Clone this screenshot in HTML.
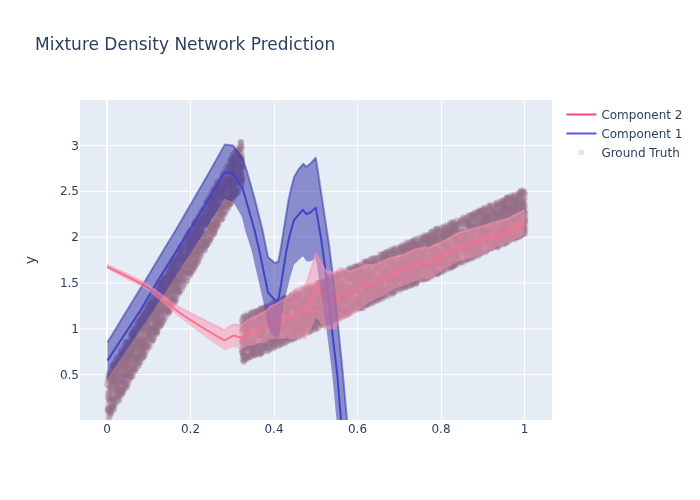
<!DOCTYPE html>
<html><head><meta charset="utf-8"><title>Mixture Density Network Prediction</title>
<style>
html,body{margin:0;padding:0;background:#fff;}
body{width:700px;height:500px;overflow:hidden;}
svg{display:block;}
text{font-family:"DejaVu Sans","Liberation Sans",sans-serif;fill:#2a3f5f;white-space:pre;}
</style></head><body>
<svg width="700" height="500" viewBox="0 0 700 500">
<rect width="700" height="500" fill="#fff"/>
<rect x="80" y="100" width="472" height="320" fill="#e5ecf6"/>
<g shape-rendering="auto"><rect x="190" y="100" width="1" height="320" fill="#fff"/><rect x="274" y="100" width="1" height="320" fill="#fff"/><rect x="357" y="100" width="1" height="320" fill="#fff"/><rect x="441" y="100" width="1" height="320" fill="#fff"/><rect x="524" y="100" width="1" height="320" fill="#fff"/><path d="M80,374.60H552" stroke="#fff" stroke-width="1"/><path d="M80,328.80H552" stroke="#fff" stroke-width="1"/><path d="M80,283.00H552" stroke="#fff" stroke-width="1"/><path d="M80,237.20H552" stroke="#fff" stroke-width="1"/><path d="M80,191.40H552" stroke="#fff" stroke-width="1"/><path d="M80,145.60H552" stroke="#fff" stroke-width="1"/><rect x="106" y="100" width="2" height="320" fill="#fff"/></g>
<defs><clipPath id="c"><rect x="80" y="100" width="472" height="320"/></clipPath></defs>
<g clip-path="url(#c)">
<g fill="none" stroke="rgb(152,109,136)" stroke-opacity="0.2" stroke-width="6" stroke-linecap="round"><path d="M452.6 260.9h0M481.4 252.5h0M109.7 408.4h0M348.4 292.9h0M156.7 323.3h0M187.8 235.9h0M432.5 274.2h0M327 305.7h0M167.4 291.3h0M319.6 317.4h0M481.9 234.5h0M302.1 319.2h0M511.4 229.5h0M467.2 232.6h0M485.1 221.1h0M163.9 277h0M110.2 387.6h0M247.5 357.1h0M185.6 259.2h0M122.4 358.9h0M392.2 253h0M175.4 257.8h0M108.8 375.7h0M509.4 217.2h0M506.4 224.9h0M130 355h0M436.4 255.9h0M429.5 275.2h0M433.1 268.5h0M439.6 272.8h0M293.8 308.2h0M454.9 251.8h0M304.8 289h0M416.5 269h0M474 215h0M190.5 252.5h0M239.5 168.9h0M160.6 283.9h0M230.5 201.8h0M157.4 318.2h0M447.2 263.3h0M503.5 240h0M145.5 307.8h0M309.7 296h0M326.5 324h0M396.9 266.2h0M471.2 221.1h0M177.6 257.1h0M502.6 219.8h0M295.9 300.8h0M383.2 257.9h0M181.6 251.8h0M424.5 272.5h0M380.6 263.5h0M143.4 350.4h0M196.9 225.4h0M141.3 335.1h0M275.8 309.7h0M328.6 313h0M370.8 272.7h0M482.2 224.4h0M359.5 302.9h0M253.9 349.7h0M238.8 166.4h0M136.5 349.2h0M252.8 348.3h0M470.7 259.1h0M461 236.7h0M246.2 330.8h0M233.2 186.3h0M308.5 290.9h0M130.9 337.1h0M450.6 256.8h0M185.8 241.4h0M393.5 270.9h0M209.5 208h0M431.8 233h0M379.9 299.6h0M444.1 267h0M384.1 272.1h0M500.6 221.1h0M179.5 292.5h0M116.6 358.2h0M524.2 228.7h0M203.1 237.3h0M277.2 334h0M521.6 211h0M503.9 209.2h0M469 223h0M160.4 291.1h0M179 264.4h0M511.9 212.3h0M436.9 246.2h0M453 265.2h0M248.2 326.1h0M375.9 276.4h0M288.3 319.4h0M438.2 228.3h0M217.3 213.2h0M334.4 293.8h0"/><path d="M150.2 305.7h0M180.5 286.1h0M136.3 358.2h0M291.6 305.1h0M261.9 317.3h0M251.8 312.4h0M273.3 302.7h0M333.3 286.9h0M280.2 306.9h0M497.1 217.8h0M384 277.3h0M350.1 274.1h0M157.6 291h0M279.1 317.8h0M349.1 276.8h0M313.5 303.4h0M129.3 376.2h0M152.1 312.9h0M294.5 318h0M222.7 196.1h0M202.4 231.9h0M510.9 215.5h0M253.6 356h0M108.4 418.9h0M192.6 243.6h0M197.9 227.4h0M177.2 279.2h0M519 209.7h0M458 248.9h0M130.9 376h0M460.7 235.4h0M244.6 339.7h0M506.8 240.5h0M426.1 237.9h0M366.1 288.3h0M213.8 232.4h0M389.8 288.7h0M431.6 249.3h0M158.3 314.6h0M287.9 339.2h0M188.2 238.5h0M199.8 216.7h0M407.6 270.7h0M123.8 351.2h0M379.6 269.9h0M309.7 305.4h0M433.4 272.8h0M146.9 310.8h0M431.8 263.2h0M126.3 372.1h0M180.2 280.1h0M164.5 301.9h0M357.6 272.5h0M308.1 305.9h0M252.6 350.7h0M505.1 227.1h0M217.8 212.9h0M523.8 192.9h0M489.8 218h0M267.3 311.4h0M210.1 239.6h0M216.5 219.4h0M203.7 216h0M143.3 350.8h0M166.1 290.3h0M486.4 224h0M156.5 302.4h0M494.3 242h0M334.6 290.3h0M141.5 344.8h0M199.2 217.3h0M330.3 298.6h0M337.4 279.4h0M450.1 223h0M468.7 239.3h0M177.6 280h0M223.1 213.1h0M522.6 227.2h0M220.4 201h0M275.9 331.2h0M290 301.2h0M127.5 346.1h0M261.6 321.6h0M223.7 186.9h0M479.5 233.9h0M260 343.2h0M378.1 268.2h0M412 263.5h0M260.4 329.3h0M391.1 285.3h0M495.1 220.7h0M172.2 300.2h0M157.6 300.9h0M456 264.6h0M172.2 300.4h0M448.7 249.2h0M278.9 305.5h0M183.8 249.3h0M253.7 315.1h0M357.5 289.4h0"/><path d="M300.8 330.4h0M197.6 254.9h0M198.6 230.9h0M169.2 277.1h0M159.2 283.6h0M183.6 267.3h0M139.4 358.6h0M358.1 297.7h0M492.1 205.8h0M188.8 241.5h0M153.9 313.9h0M361.4 297.8h0M109.4 379h0M413.3 257.7h0M324.3 290.3h0M110.6 412.1h0M133.6 334.9h0M139.2 325h0M192.7 236.4h0M441.9 258.8h0M304.3 308.9h0M413.4 260.3h0M313.7 310.6h0M205.8 218.6h0M453.7 245.4h0M355.9 266.8h0M266.4 342.9h0M509.1 222.9h0M213.1 211.8h0M308.8 307.6h0M433.9 254.4h0M229.6 164.7h0M243.6 359.9h0M445.7 260.6h0M504.9 205.7h0M512.1 203h0M127.5 341.8h0M507 218.2h0M309.6 323.5h0M195.6 223.3h0M377.4 257.9h0M212.5 236.7h0M292.5 326.9h0M374.3 302.1h0M411.3 255h0M261 352h0M285.3 323.1h0M321.8 287.3h0M163.1 297.5h0M139.5 325.3h0M490.1 229.9h0M118.5 368.3h0M117.3 395.8h0M195 261.7h0M189.9 252.8h0M524.1 210.8h0M518.7 193.2h0M197.2 240.6h0M177.1 288.5h0M305.1 317h0M290 338h0M363.9 300.8h0M126.4 367h0M409.4 282.2h0M238.5 152.6h0M418 266h0M216.8 225.8h0M154.3 321.3h0M424.1 268.3h0M154.7 328.2h0M114.4 362.8h0M518.8 208.7h0M167.4 310.7h0M279.9 301.4h0M520.2 205.8h0M280.3 329.6h0M338.3 294.7h0M126.3 362h0M291.6 297.1h0M289.5 338.2h0M221.4 218.9h0M112.3 399.1h0M184.2 272.4h0M414.9 274.6h0M471.2 243.1h0M285.1 297.5h0M349.8 287.9h0M120.1 382h0M252.6 326h0M362.1 284.8h0M299.8 309.3h0M481.7 224.1h0M478.5 246.7h0M305 314h0M444.8 265h0M506.4 197.8h0M173.8 270h0M110.6 414.8h0M129.9 351.2h0M247.9 323h0"/><path d="M430.7 245.2h0M525.2 219.7h0M289.3 319.4h0M215.1 199.5h0M181.2 276.2h0M512.6 199h0M438.4 240.7h0M348.9 295.1h0M295.4 323.4h0M202.5 237.7h0M330.5 319.6h0M160.4 326.7h0M462.4 223.9h0M202 210.4h0M271.7 311.5h0M478.8 210.9h0M131.3 343.6h0M497.1 236.8h0M497.1 206h0M148.8 335.9h0M316.3 328.3h0M500.6 209.2h0M140.9 323.9h0M447.2 235.7h0M227.6 205.7h0M197.4 259h0M437.6 271.3h0M142.4 322.9h0M501.7 215.8h0M516.2 202h0M289.4 302.1h0M111 405.3h0M217.3 220.5h0M330.8 301.4h0M148.2 328h0M273.7 331.1h0M376.1 258.9h0M491 248.8h0M169.4 300.7h0M509.3 230.1h0M211.7 210.7h0M290.7 324.1h0M260.5 322.3h0M362.5 281.1h0M373.8 287.7h0M444.2 271.2h0M245.5 332.7h0M132.7 335.9h0M370.5 273.5h0M369.1 288.2h0M248 343.1h0M221 181.4h0M357.1 294.1h0M465.3 239.5h0M252.7 321.8h0M248.8 335.3h0M335.8 286.4h0M156.6 324.1h0M509.4 239.3h0M248.3 344.1h0M192 246.3h0M273 337.8h0M119.1 361.8h0M377.1 258.6h0M334.7 303.8h0M505.4 206.2h0M465.9 240.9h0M326.6 292.6h0M181.8 252.9h0M311.4 322.3h0M396.4 285h0M243.4 347.6h0M455.8 224.5h0M289.5 317.1h0M403.2 277.8h0M401.6 247.9h0M171.7 268.4h0M339.5 289.8h0M340.2 294.8h0M287.8 340.8h0M293.1 334.5h0M195.4 233.2h0M421.9 274.7h0M485.1 229.8h0M244.5 329.3h0M354.8 296h0M353.6 287.2h0M516.8 237.2h0M400.8 285.9h0M287.8 308.4h0M416.1 246.8h0M165.8 305.3h0M224.3 191.9h0M509.9 198.2h0M459 252h0M141.7 332.8h0M517.5 198.2h0M412.6 270.7h0M367.3 278.5h0M119.7 387.4h0"/><path d="M409.7 264.6h0M407.7 256.2h0M433.1 236.4h0M241.3 178.3h0M111.5 383h0M310.3 306.3h0M518.7 199.9h0M501.4 233.5h0M305.1 326.8h0M510.6 230.7h0M485.6 239.2h0M185.7 256.6h0M441.6 228h0M310.5 319.6h0M122.4 379.8h0M501.3 212.4h0M513.7 211.5h0M404.6 285.3h0M463 231.9h0M436.1 256.2h0M337 312.3h0M466.5 220.3h0M446.6 242.3h0M145 327.7h0M371.4 279.4h0M469.7 246.6h0M124.9 354.5h0M499.1 243.6h0M294 328.6h0M340.9 298.9h0M299.1 307.4h0M356.2 269.2h0M281.3 331.3h0M301 319.2h0M483.8 229.4h0M186.9 272.8h0M418.9 246h0M197.5 251.8h0M517.7 232.7h0M317.4 286.3h0M334 313.9h0M131.8 334.2h0M236 155.4h0M252.2 354.7h0M360.1 273.8h0M177.8 294.3h0M361.2 283.1h0M112.2 400.4h0M332.9 309.2h0M377.3 293.5h0M243.4 316.3h0M491.6 242.6h0M265.6 306.4h0M227.7 206.7h0M345.9 290.5h0M148.3 344.6h0M473 254.9h0M370.3 264.3h0M520.8 203.2h0M165.5 277.4h0M179.2 250.1h0M159.4 284.9h0M314 288h0M210.3 239.6h0M488.9 224h0M454.2 265.6h0M141.3 350.2h0M263.8 314.1h0M334.5 298.4h0M376.2 296.2h0M279 322.2h0M348.1 312.2h0M180.1 279.8h0M176.3 270.8h0M453.1 221.7h0M191.3 267.1h0M475 246.6h0M467.9 214.9h0M293.1 325.8h0M490.2 228.2h0M379 295.6h0M505.9 243.4h0M200.5 221.7h0M303.2 318.8h0M151 305.7h0M144.9 315.3h0M403 278.4h0M140.5 322.9h0M259.7 351.7h0M474 255.8h0M234.1 172.5h0M515.2 212.4h0M135.8 346.4h0M479.2 227.7h0M268.2 338.9h0M114.3 378.1h0M372.2 289.7h0M150.8 329.8h0M334.9 315h0M371.2 267h0"/><path d="M497 226.6h0M241.9 329.2h0M130.3 377.4h0M441.7 264h0M200.6 242.1h0M363.7 279.6h0M393.3 289.6h0M248.8 356.3h0M173.8 301h0M406.2 272.1h0M496.6 212.3h0M480.3 246.9h0M407.3 281.2h0M147.1 329.8h0M506.4 235.1h0M120.3 355.1h0M501.1 205h0M306 290.8h0M268.1 325.1h0M164.3 304.3h0M147.8 329.9h0M485.6 242.7h0M422.8 241.1h0M488.1 214.9h0M133.6 360.3h0M333.5 290.7h0M254.2 321.7h0M237.4 180.2h0M403 251.9h0M507 205.9h0M442.4 266.9h0M306 311.9h0M174.7 264.2h0M442.6 237.8h0M127.6 341.3h0M366.8 304.5h0M146.5 309.7h0M148.9 328h0M181.7 268.1h0M288 304.7h0M270.3 343.2h0M261.4 322.8h0M199.4 218.4h0M427.3 268.1h0M522.9 224.1h0M284 328.5h0M112.2 380.1h0M323.1 285h0M468.4 231.2h0M173.3 262.6h0M412.7 244.4h0M497.1 220.2h0M233.9 184.5h0M285.1 314.8h0M285.4 323.5h0M242.4 184.4h0M156.1 327.8h0M395.2 286.5h0M399.8 249.8h0M155.6 302.3h0M296.5 294.4h0M429 267.5h0M154 325.2h0M157.2 316.5h0M464.8 227.5h0M144 330.1h0M504.2 224.5h0M502.1 231.3h0M344.1 273.1h0M225.4 185.7h0M244 346.3h0M344.9 304.3h0M480.8 236.7h0M268.5 326.9h0M280.3 299.8h0M325.2 300.9h0M190.7 245.9h0M269.1 350.3h0M247 345.1h0M355.3 303.9h0M341.8 300.4h0M292.2 304.5h0M169.9 308h0M471.2 215.6h0M185.5 237.6h0M515.8 204.9h0M390 292.2h0M437 243.6h0M477.5 256h0M281.3 299.5h0M248.1 331.1h0M187.7 248.9h0M318.1 295.3h0M319.7 309.8h0M174.5 283.8h0M511.8 208.4h0M406.3 275.2h0M290.3 314h0M500.8 239.1h0M481.6 226.9h0"/><path d="M135.8 353.2h0M394 261.6h0M211.8 211.5h0M251.3 356.6h0M242 166.4h0M381.7 281.7h0M481.9 211.1h0M179.7 249.8h0M279.9 302.6h0M141.5 347.1h0M421.2 255.4h0M504.9 242.7h0M489.8 204.8h0M405.1 268.9h0M323.8 291.4h0M293.5 328.4h0M152.9 302h0M477.4 243.6h0M309.9 291.5h0M244.1 358.5h0M371.7 261.6h0M422.2 246.5h0M269.7 335.1h0M165.8 307.4h0M279.1 303.1h0M305 300.2h0M447.3 233.7h0M384.3 280.7h0M404.3 245.9h0M482.1 228.6h0M415.2 271.1h0M478.8 227.1h0M162.1 286.3h0M362.8 270h0M434.4 272h0M384.7 275.6h0M169.1 305.1h0M314.3 326.3h0M254 323.1h0M490.1 244.8h0M227.1 207.2h0M160.5 322.6h0M497.6 236.6h0M231.3 164.8h0M454.8 265.7h0M416.4 258.7h0M501.2 227.6h0M245.3 355h0M488.3 210h0M485.4 250.5h0M197.8 249.1h0M475.3 215.7h0M326.6 318.7h0M422.8 253.7h0M492.8 228.4h0M363 282.1h0M320.4 322.9h0M417.8 258.5h0M192.5 265.3h0M459 247.6h0M325.9 322.6h0M125.8 356.6h0M284.5 311.2h0M501.1 214h0M197.3 233h0M160.9 289.1h0M227.6 182.3h0M483.3 224.8h0M249.7 350.3h0M437.9 271.6h0M176.4 256.4h0M218 217.2h0M259.6 349h0M181 260.8h0M418.6 268h0M341.2 283.9h0M404.4 279.5h0M163.4 305.7h0M262.5 325.8h0M518 227.8h0M110.5 414.1h0M365.8 261.7h0M212.8 229.4h0M334 318.2h0M116.9 362.6h0M422.9 241.8h0M335.7 293.9h0M283.8 309.8h0M463.7 234.1h0M324.3 298h0M402 276.5h0M181.3 252.8h0M190.1 245.6h0M391.8 257.4h0M246.5 323.5h0M295.4 335.3h0M184.4 256.9h0M138.9 360.1h0M377.3 297.5h0M331.3 294.4h0"/><path d="M461.8 239.3h0M340.7 313.7h0M513.1 220.8h0M125.3 368.7h0M348.3 284.8h0M202.7 249.6h0M333.9 306.5h0M108.3 408.3h0M304.4 310.1h0M114.1 390.9h0M338.1 313.5h0M113.1 383.1h0M376.9 296.3h0M212.7 224.6h0M497.9 231.1h0M245.7 324.4h0M250.4 337.8h0M432.4 242.4h0M516.9 237.3h0M382.9 287.7h0M279.1 332.3h0M394.1 285.1h0M256.3 326h0M344.2 273.3h0M467.2 236.9h0M229.5 203.9h0M469.2 251.3h0M287.3 302.2h0M403.9 283h0M455.1 236.1h0M409.4 245.2h0M487.4 232.9h0M412.1 241.7h0M143.8 356.7h0M354.3 287.8h0M359.9 270.9h0M352.7 274.5h0M254.8 324.6h0M172.6 283.2h0M304.6 303.2h0M259.1 336.1h0M112.8 376.4h0M402.7 257.8h0M125.5 388.4h0M307.4 288.9h0M403.3 263.8h0M429.7 241.3h0M329.7 311.9h0M117.4 384.9h0M499.3 240.1h0M480.8 225.6h0M183 285.6h0M198.6 242.8h0M436.6 239.2h0M379.4 278h0M223 209.3h0M147.2 337.6h0M161.3 285.4h0M271.4 319.8h0M382.5 271.8h0M395.7 266.8h0M161.1 283.4h0M212.7 214.3h0M167.3 277.4h0M127 363.5h0M210.4 199.3h0M489.1 216.1h0M198.4 238.9h0M490.9 233.3h0M144.5 354.2h0M146.3 311.8h0M304.2 317.6h0M404.1 274.5h0M144 327h0M142.2 321.6h0M327.3 286.7h0M292.8 327.9h0M163 307.3h0M312.3 297.9h0M303 312.6h0M278.8 315.1h0M321.4 285h0M286.1 332.9h0M450.4 248.7h0M228.4 180.9h0M411.1 264.1h0M395.4 266.3h0M124.2 371.5h0M231.1 183.7h0M379.3 284.7h0M153 307.8h0M367.1 283.7h0M283.4 320.4h0M468.9 249.1h0M522.4 229.4h0M518.5 193.1h0M336.9 318.7h0M368.8 303.9h0M522.5 211.3h0M410.5 279.2h0"/><path d="M461.4 241.9h0M241.9 351.2h0M118.4 362.9h0M209.6 231.3h0M154.4 331.8h0M168.9 288.9h0M196.5 229h0M504.5 234.7h0M231.7 186.6h0M403.3 283.6h0M169.8 283.8h0M357 272.3h0M399.9 273.9h0M278.6 318.6h0M269.2 321.7h0M134.6 328.2h0M123.6 391h0M297.7 295h0M161 294.1h0M454.8 237.1h0M217.7 209h0M463.3 239.8h0M217.3 188.7h0M461.2 220.9h0M295.5 315.6h0M327.4 280h0M176.5 272.6h0M468 224.8h0M333.1 317.8h0M282.1 327.6h0M344 277.1h0M373.1 300.4h0M384.3 272.3h0M313.3 318.3h0M185.6 269.7h0M117.6 372.7h0M384.1 295h0M295.7 296.5h0M474.5 227.6h0M267.6 331.3h0M127 355.6h0M411.1 271.5h0M380.2 296.9h0M302.1 328.5h0M144.1 320.1h0M348.8 313.7h0M355 276.8h0M139.3 344.8h0M413.4 243.4h0M240.8 186.2h0M268.7 327.3h0M383 271.6h0M291.5 295.4h0M307.7 307.4h0M403.4 279.3h0M180.1 265.2h0M242.4 324.1h0M179.2 278.7h0M226.5 185.5h0M196.3 243.5h0M372.7 276.4h0M521.6 190.6h0M163.6 291.7h0M376 266.5h0M223.7 189h0M476.8 251.5h0M223.8 213.9h0M337.3 306.2h0M413.2 251.9h0M315.2 284.8h0M160.2 308.7h0M269.1 314.3h0M439.5 262.5h0M337.7 274.3h0M451.7 231.2h0M200.7 254.7h0M405 271.3h0M383.1 273.2h0M506 231.9h0M388.9 290.5h0M454.3 233h0M212.9 198.7h0M373.1 286.8h0M360.3 304.2h0M437.7 270.5h0M480.8 210.9h0M120.1 360.9h0M334.5 296.1h0M258.7 315.4h0M108.5 378.5h0M284 309.9h0M465.6 217.7h0M188.6 243.1h0M397.7 276h0M465.7 258.7h0M499 233.1h0M288 314.4h0M172.2 289.7h0M427.5 275h0M428.2 244.7h0"/><path d="M438.5 273.6h0M500.8 223.3h0M249.9 351.8h0M497 226.2h0M133.7 333h0M232.2 176.7h0M491.1 238.3h0M419.4 280.6h0M408.6 266.7h0M215.2 196.4h0M463.2 249.4h0M292.5 319.8h0M374.9 276.8h0M192.7 263.3h0M232.2 177.7h0M166.4 312.2h0M189.3 263.1h0M327.4 315.7h0M211.6 212.6h0M461.7 262.1h0M191.9 234.5h0M404 273.8h0M486.1 209.5h0M337.8 283.7h0M222.8 190h0M406.4 258.4h0M277.2 333.8h0M495.9 219.6h0M197.9 230.9h0M444 234.4h0M458.8 257h0M397.4 261.8h0M524.3 192.2h0M433.4 270.5h0M328.6 321.7h0M283.4 311.4h0M274.7 337.3h0M200.1 252.8h0M481.6 224.2h0M479.1 249.9h0M386.9 290.7h0M300.3 308.1h0M310.4 297.3h0M507.5 208.2h0M316.6 290.2h0M142.5 342.9h0M216.9 182.7h0M250.2 344.8h0M307.5 324.6h0M193.8 233.7h0M195.4 224.6h0M126.3 373.9h0M387.6 270.1h0M440.6 240.8h0M170 294h0M295.8 292.7h0M403.8 259.9h0M183.2 258.9h0M394.2 259.4h0M114.3 375.9h0M485.5 223.3h0M150.1 327.9h0M519.9 195.6h0M519.8 220.2h0M248.2 353.1h0M127.8 368.1h0M166 288.4h0M467 234.8h0M242.2 353.4h0M290.8 313.7h0M360.3 287.2h0M362.6 277.6h0M453.1 265.7h0M470.8 218.6h0M149.6 315h0M358.6 290.6h0M467.3 222.5h0M342.7 302.6h0M198 245.3h0M392.4 250.1h0M180.7 263.4h0M195.8 253.2h0M195.9 242.6h0M263.4 336.7h0M244.1 350.6h0M307.9 305h0M124.9 370.5h0M330.9 322.6h0M172.5 301.3h0M131.7 350.1h0M235.2 166.9h0M140.7 346.4h0M504.8 204.7h0M452.4 251.1h0M439.8 263.1h0M500.4 227.7h0M252.3 346.9h0M303.4 318.8h0M141.1 346.2h0M335.9 312.4h0"/><path d="M510.1 209.2h0M243.4 324h0M378.4 288.2h0M336.6 276.7h0M323.7 302.3h0M350.7 278h0M115.5 377.6h0M479 253.5h0M480.9 237h0M354 308h0M337.3 277h0M349.7 305.9h0M172.6 267h0M348.8 286.3h0M272.2 320.2h0M456.2 234.8h0M490.2 218.9h0M380 254.6h0M409.3 249.7h0M465.4 238.1h0M342.4 315.8h0M131.8 367.7h0M422.4 267.1h0M389.5 252.1h0M487.3 226.6h0M151 328h0M271.2 319.5h0M430.3 246.6h0M254.6 348.7h0M124.6 346.1h0M110.6 407h0M156.5 329.3h0M403.6 251.8h0M363.4 263.4h0M442.4 233.4h0M329 319.1h0M148.7 328.8h0M390.3 250.1h0M472.4 221.1h0M142.5 319.3h0M194.7 234.7h0M425.5 268h0M127.2 352.4h0M156.2 308.5h0M441.9 261h0M294.1 300.5h0M154.1 308.9h0M409.5 243.3h0M341.4 314.9h0M145.1 351.8h0M354.1 302.5h0M324 284.2h0M456.1 224.2h0M476.4 254.3h0M391.9 269.7h0M453.5 251.6h0M166.1 316.7h0M310.9 297h0M175.5 269.8h0M488.2 241.2h0M197.1 253.2h0M174 270.4h0M229.3 184.5h0M191.6 248.3h0M229.9 185.8h0M180.6 259h0M445 227.1h0M324.1 315h0M515.8 236.8h0M266.4 337.1h0M240.1 162.8h0M130 376.3h0M125.5 383.4h0M343.8 277.9h0M452.1 265.6h0M498.8 232h0M210 207.5h0M376.7 271.6h0M515.4 231.3h0M206.7 233.9h0M419.8 271.2h0M392.7 293.3h0M345.5 288.9h0M211.9 201.7h0M310.8 320.2h0M203.9 225.2h0M296.3 316h0M224.5 195.3h0M125.9 355.4h0M287.6 330.3h0M428.7 260.8h0M238.1 176.4h0M222.3 216.1h0M429.1 268.7h0M333.5 296.5h0M397.1 278.3h0M144.3 343.8h0M426.2 278.4h0M374.9 296.5h0M423.7 241.3h0"/><path d="M168.1 285.3h0M503.2 236h0M158.5 308h0M438.9 242.9h0M238 174.3h0M458.3 240.4h0M205.5 223.4h0M428 246.2h0M273.7 326.9h0M377 301h0M182.4 261.3h0M299.3 295.2h0M215 200.3h0M517.4 205.7h0M206.5 233.5h0M208.1 198.4h0M118.1 378.9h0M427.5 239.2h0M298.5 302h0M292.2 338.4h0M170 277h0M485.4 214.1h0M474 228.5h0M186.6 248.6h0M208.7 217.6h0M322.7 288.3h0M241.1 142h0M454 260.9h0M334.2 314.3h0M449.4 250.2h0M389.6 259h0M423.3 238.8h0M110.8 412.5h0M461.9 224.4h0M248.4 326.6h0M235.2 169.1h0M453.4 229.3h0M422.2 266.9h0M240.8 167.9h0M150.3 303.8h0M118.5 363.2h0M139.9 345.6h0M429.9 248.4h0M171.6 276h0M291.5 317.7h0M475.5 243.6h0M152.2 332.8h0M265 319.1h0M267.2 346.8h0M452.2 249.5h0M450.4 223.5h0M194.8 254.1h0M297.1 293.8h0M460.6 234.6h0M269.9 349.4h0M294.3 332.8h0M224.4 179.3h0M346 300.3h0M247.7 356.6h0M147.3 316.4h0M417.9 239.9h0M450.2 259.3h0M153.7 319.8h0M475.8 211.9h0M350.9 307.3h0M197.5 237.1h0M139.3 326.7h0M402.4 288.6h0M474.2 213.5h0M420.1 246.7h0M524.1 209h0M455.2 260.1h0M233.8 164h0M502.6 211.3h0M324.8 317.4h0M375.9 265.7h0M430.1 257.1h0M172.9 279.9h0M310.5 292.4h0M449.8 247h0M194.2 259.8h0M345.7 298.2h0M121 375.6h0M218.6 183.4h0M496.3 241.5h0M495.6 241.8h0M425.2 252.4h0M271.7 348.5h0M211.1 195.9h0M137.3 329.5h0M379.6 261.9h0M168.6 311.5h0M297.5 299.2h0M468.8 229.3h0M198.2 247.1h0M468.4 232.6h0M345 290.5h0M410.6 253.7h0M366.1 291.8h0M190.2 230.8h0"/><path d="M298 337.5h0M296 297.1h0M423 249.4h0M391.8 258.1h0M505.7 242.1h0M234.3 184.9h0M448.3 227.9h0M261.6 322.2h0M157.7 312.8h0M217.3 199.8h0M446.1 239.3h0M276 306h0M401.4 288.8h0M222.1 199.2h0M419.4 238.6h0M509.5 197h0M480.8 232.9h0M422.6 242.3h0M194.3 235.7h0M185.3 254.1h0M498.9 230.8h0M487.4 235.6h0M275.1 311.6h0M296.6 338.1h0M512 201.9h0M335.2 314.1h0M162.8 281.8h0M432.3 269h0M201.4 227.2h0M122.6 382.2h0M113.4 409.7h0M204.9 235h0M413.6 253.3h0M389.7 262.7h0M364.2 278.7h0M403.5 275.1h0M380 254.6h0M460.4 240.6h0M358.7 285.6h0M219.4 214.7h0M277.3 322h0M146.5 323.1h0M458.9 264.1h0M523.5 206.3h0M325.6 319.5h0M419.3 246.8h0M377.7 294.2h0M251.8 312.8h0M500.8 206.2h0M199.5 230.8h0M329.7 286.9h0M350.5 310.6h0M412.4 244.9h0M441.9 263h0M292.4 329.5h0M266.6 327.4h0M296.8 297.3h0M347.6 289.7h0M173.6 265h0M157.9 318.9h0M153 340.5h0M261.6 333.8h0M162.2 307.1h0M462.4 262.2h0M133.8 334.6h0M428.6 247.4h0M436.6 241.6h0M284.5 341.7h0M195.8 265.5h0M136.8 363.2h0M287.4 338.7h0M109.1 388.8h0M372.5 294.6h0M216.6 192h0M430.1 250.4h0M116.2 391.7h0M380.9 296.4h0M243.1 352.8h0M304 324.1h0M439.6 254.8h0M512.2 210.5h0M386.3 294.4h0M320.2 313.3h0M110.3 410.5h0M236.9 183.4h0M264.7 321.8h0M161.6 318.6h0M300.2 317.3h0M406.8 267h0M506.7 233.8h0M244.6 315.9h0M446.8 269.6h0M481.3 229.2h0M463.3 249.1h0M153.1 311h0M466.8 222.8h0M111.9 384.4h0M408.6 249.9h0M194.3 247.3h0M124.9 374.6h0"/><path d="M178.7 286h0M133 370.2h0M343.8 303.2h0M458.5 241.3h0M218.5 224.1h0M288 318.7h0M170.5 283.5h0M465.4 253.4h0M220 217.3h0M257.8 318.2h0M397.4 279.4h0M292.7 294.6h0M117.2 392.7h0M311.6 287.7h0M316.5 315.2h0M160.3 292.9h0M487.1 249.3h0M414.4 251.3h0M350.4 279.3h0M518.2 200.2h0M475 247.5h0M257.5 329.6h0M348.2 270.7h0M129.6 353.7h0M340.6 295.2h0M235.1 172h0M268.4 350.7h0M458 235.2h0M333.6 276.6h0M240 172.2h0M194 253.6h0M486 250.9h0M375.5 296.4h0M227.1 172.4h0M175.7 270h0M355.9 290.5h0M275.4 339.7h0M228.1 205.1h0M517.3 232.1h0M365 297.1h0M213.8 199.7h0M188.5 271.5h0M257.4 331.8h0M235.2 165h0M136.1 346.2h0M114.1 400.2h0M292.8 327.2h0M204.9 217.6h0M425.6 236.6h0M271.3 319.7h0M443 234.7h0M358.9 306.2h0M437 273.7h0M310.3 326.1h0M365.2 298.5h0M131.9 333.3h0M187.7 237h0M340.8 304.4h0M205.7 216.4h0M522.7 235.1h0M472.7 236.5h0M150.6 310.5h0M502.4 241.6h0M460.4 244.8h0M401.3 252.2h0M152.8 295.9h0M112.7 406.6h0M180 248.9h0M412 242h0M314.8 297.3h0M447.8 267.8h0M425.2 254.1h0M504 230.4h0M317.3 320.2h0M343.3 309.9h0M151.6 334.2h0M241.4 142.1h0M250.7 322.8h0M279.5 341.3h0M334.1 282.1h0M274.8 312.9h0M457 239.6h0M250.6 356.9h0M326.1 282.8h0M422 259.2h0M322.2 305.7h0M339.9 274.3h0M376.8 291.4h0M498.7 216.4h0M356.3 276.3h0M287.2 315h0M490.6 207.5h0M155.7 311.5h0M454.9 240.1h0M444.2 236.3h0M514 197.8h0M174.1 274.3h0M224.3 215.2h0M359.5 287.1h0M361 270.5h0"/><path d="M146.3 332.4h0M302.2 300.1h0M276.5 302h0M467.3 240.8h0M386.4 256.1h0M263.2 345.8h0M253.4 322.4h0M440.1 230.8h0M185.4 274.1h0M246.2 321.4h0M414.5 278h0M281.4 304.2h0M349.1 291.7h0M307.4 333h0M447.3 251.2h0M435 262.3h0M452.2 245h0M142.5 339.7h0M481.1 228.3h0M314.1 318.5h0M462.3 246.3h0M504.8 223.2h0M434.7 271.8h0M385.1 262h0M474.1 250h0M492.4 218.8h0M425.5 238.5h0M307.3 293.5h0M443.5 241.1h0M270 305.7h0M254.2 325.4h0M389.4 259.9h0M197.7 220.2h0M221.9 175.2h0M326.7 281.7h0M350.6 309.2h0M231 198.1h0M313.3 300.5h0M213.8 214.7h0M147.1 343.4h0M180.7 288.5h0M191.6 235.8h0M177.9 284.1h0M343.3 297.9h0M436.1 229.1h0M275.9 304.6h0M384.7 275.7h0M207 215.4h0M381.7 273.3h0M304.1 313.6h0M233.7 164h0M228.5 186.6h0M328.4 287.1h0M289 300.5h0M214.1 215.6h0M388.9 259.6h0M509.7 199.1h0M241.1 172.7h0M376 266.8h0M205.4 220h0M398.7 281.2h0M523.1 210.1h0M511.5 210.1h0M424 263.9h0M232.5 157.2h0M444.3 252.5h0M250.1 323.8h0M281.7 319.5h0M334.2 303.4h0M483.5 227.8h0M493.1 223.7h0M219.1 195.8h0M120.4 375.6h0M348.4 297h0M108.9 404.1h0M345.6 315.2h0M357.3 273.1h0M389.8 259.3h0M339.2 276.5h0M282.8 331.8h0M286.3 327.5h0M273.6 320.4h0M426.5 237h0M406.2 269.1h0M428.7 256.4h0M423.8 266.9h0M188.2 262.8h0M362.9 272.9h0M268.4 323.9h0M426 244.8h0M477.2 219.7h0M385.7 289.1h0M187.3 280.5h0M203 218.8h0M148.4 329.4h0M147.6 338.9h0M122.9 365.7h0M331.7 307.6h0M128.2 341.6h0M222.8 196.5h0"/><path d="M143 350.6h0M431.1 259.6h0M394.9 270.3h0M514 222.1h0M151.3 329h0M492.5 231.1h0M481.2 245.9h0M466.2 255.8h0M404.1 265.1h0M312.3 297.5h0M485.9 242.1h0M240.9 177.4h0M191.9 232.4h0M420.1 265.8h0M437.4 255.4h0M209.7 223.6h0M325.5 301h0M459.1 239.4h0M203.4 247.1h0M115.7 377.4h0M302.9 309.4h0M450.7 231.1h0M475 230.7h0M134.4 365h0M494.4 239.5h0M434.5 246.8h0M523.6 194h0M356.8 276.8h0M485.3 210h0M297.5 308.9h0M438.8 238.1h0M523.3 227h0M265.9 338.2h0M149.2 335h0M494.3 218.5h0M401.4 285.1h0M379.7 291.2h0M480.6 248h0M242.4 176.8h0M343.2 286.6h0M465.1 243.4h0M117 395.8h0M178.9 288.1h0M460 261h0M440.5 231.6h0M162.3 300.1h0M301.6 320.7h0M460.3 240.4h0M475.1 246.1h0M215 224.9h0M301.2 325.5h0M367.8 300.7h0M370.3 293.7h0M302 315.6h0M421.1 264h0M311.9 312.5h0M388.6 292.1h0M386 260.8h0M475.2 252.8h0M245.7 321h0M442.9 231.7h0M276.9 311.4h0M499.3 214.5h0M171.3 284.5h0M244.4 360.8h0M347.1 283.8h0M358.4 298.4h0M443.3 241.5h0M507.5 198.3h0M317.3 295.1h0M214.2 233.6h0M335.2 276.5h0M414.9 251.4h0M507.3 220.3h0M266.2 326.6h0M451.1 225.2h0M432.2 249.9h0M439.4 229.5h0M118.5 374.9h0M175 276.7h0M295.1 335.8h0M520 211.6h0M399.8 266.4h0M122.3 368.2h0M450.4 243.5h0M486.6 234.9h0M111.2 412.4h0M406 284h0M153.9 321h0M161.1 282.7h0M368.7 292.2h0M489.6 235.7h0M208.1 221h0M126.6 363.8h0M408.2 245h0M317 322h0M244.6 361.3h0M394.5 292.1h0M266.3 309.7h0M359.4 265h0"/><path d="M287.6 321.6h0M110.4 375.6h0M268.5 347.8h0M432.3 250.8h0M153.1 339h0M235.7 191.2h0M460.1 240.6h0M466 234.4h0M420.9 263.5h0M309.6 286h0M315.6 310.3h0M185.2 263.4h0M398.5 274.2h0M158.6 306.9h0M263.9 317h0M146.6 326.2h0M324.8 314.1h0M190.2 237.1h0M274.9 332.7h0M227.2 172.8h0M477.7 214.8h0M396.7 287.6h0M414 262.7h0M218.7 191.2h0M205.8 247.1h0M155 303.6h0M336.2 282.8h0M310 314.5h0M314.6 296.2h0M360.5 300.3h0M162.4 279.7h0M416.5 254h0M268.7 308.9h0M322.9 298.1h0M368.6 276.1h0M197.6 240.6h0M157.5 315.4h0M253.5 345.8h0M470.9 233.8h0M373 274.5h0M464.5 248.8h0M455.8 225.9h0M510.2 210.9h0M204.8 242h0M175 283.2h0M233 191.9h0M251.1 322.1h0M396.1 274.9h0M334.7 290.9h0M348.3 313.2h0M135.7 360.2h0M340.1 316.3h0M189.3 232.2h0M276.3 314.1h0M367.9 304.5h0M133.5 336.5h0M337.8 303.8h0M495 245.8h0M370.9 303.8h0M116.4 397.4h0M283.1 342.2h0M521.8 191.9h0M383.5 291.4h0M113.3 375.9h0M344.5 282.2h0M260 334.4h0M478.9 227.2h0M473.4 213.6h0M482.4 252.2h0M498.5 216.4h0M351.9 293.6h0M429.2 237.9h0M215.5 210.9h0M201.1 253h0M390.4 277.4h0M361.8 278.5h0M519.8 194.7h0M473.9 257.8h0M493.6 211.1h0M263.7 337.7h0M293.9 323.5h0M173.7 280.2h0M259.5 334.8h0M287 300.3h0M446.4 253.5h0M393.9 283.2h0M329.4 305.7h0M412.8 260.7h0M415.1 252.9h0M356.1 301.2h0M118 377.2h0M217.1 193.7h0M521.9 203.2h0M212.6 190.8h0M161.4 300.7h0M118.9 372.9h0M187.2 251.4h0M398.5 277.5h0M306.6 298.7h0M374.7 284.1h0"/><path d="M266.9 351.3h0M445.4 234.7h0M155.4 325.5h0M122.6 374.8h0M232.2 168.9h0M114.2 405.3h0M266.9 338.4h0M438.5 258.8h0M170.3 292.3h0M285.6 313.6h0M298.6 294.7h0M493.3 228.4h0M520.6 193.9h0M175.8 269.3h0M321.6 298.5h0M506.4 232.5h0M108.6 412.4h0M190.7 274.8h0M125.7 354.7h0M506.1 234.9h0M394.8 250.4h0M462.3 244.6h0M320.5 294h0M426.9 257.9h0M374.8 277.8h0M469.3 249.9h0M374.5 282.3h0M303 303.7h0M171 302.9h0M458.6 232.2h0M264.6 314.3h0M496.1 236.8h0M517.7 203.9h0M460.5 233.1h0M460.3 252.8h0M394.5 290.7h0M466.2 242.7h0M458.3 257.2h0M450.9 256.3h0M403.2 274.5h0M209.4 226.2h0M256.6 311h0M415.4 269.5h0M175.1 276.4h0M110.5 401.5h0M177.2 263.3h0M220.4 191.4h0M214.5 203.4h0M505.1 201.6h0M355.1 309.2h0M259.9 334.8h0M426 248.4h0M254.9 335.4h0M503.8 244.2h0M206.5 242.8h0M151.1 316.5h0M275.7 318.7h0M211.1 206.5h0M325.8 292.4h0M489.7 247.8h0M258.8 328.3h0M321.1 298.9h0M257.6 317.3h0M450.6 256.4h0M387.3 265.3h0M330.3 277.4h0M524.6 215.3h0M456.9 263h0M331.8 310.3h0M235.6 188h0M485.9 216.2h0M460.8 244.1h0M502 217.9h0M358.5 298.6h0M508.1 216.3h0M364.5 296.2h0M453 227h0M377.7 298.1h0M214.8 208.2h0M328.2 313.8h0M376.2 284.4h0M137.9 340.5h0M431.8 250.4h0M174.1 300h0M276.8 303.7h0M495.9 234.7h0M434.2 275.6h0M415.9 270.8h0M225.3 211.5h0M431.8 247.8h0M241 155.6h0M114.3 378.8h0M470.5 249.2h0M365.9 287.4h0M418.6 266.1h0M418.6 256.4h0M189.1 273.6h0M451.7 239h0M246.3 338.2h0M451.2 266.7h0"/><path d="M501.7 219.4h0M286.8 309.4h0M308.1 324.1h0M122 354h0M250.4 337.6h0M196 232.2h0M169 293.2h0M503.5 204.2h0M260.4 335.8h0M153.1 302.9h0M359.9 291.3h0M455.1 231.6h0M218 222.2h0M121.7 383.7h0M123.3 381.8h0M226.1 208.1h0M351.1 303.1h0M347 290.5h0M282.5 300.6h0M419.6 278.1h0M418.1 269.5h0M473.5 256.1h0M174.2 298.2h0M360.2 289.2h0M472.5 250.3h0M301.7 315.3h0M467.9 240.7h0M262.9 338.7h0M170.2 301.5h0M388.7 257.1h0M160.1 312.7h0M382.5 260.1h0M391.8 267.2h0M515.1 225.7h0M126.2 362.6h0M325.1 301.5h0M449.5 266.9h0M360.4 300h0M132.3 341.3h0M170.1 286.8h0M309.9 317.4h0M140.2 362.1h0M260.8 311.9h0M141.1 322.8h0M214.4 196.2h0M333.9 277.8h0M325 289.1h0M389.4 251.4h0M524 224.9h0M409.9 281.2h0M459.7 222.2h0M356.6 307h0M146.8 326.1h0M455.7 256.6h0M513.5 223.1h0M523.1 205.5h0M144.4 355.9h0M156.5 311.3h0M157.3 318.8h0M242 182.1h0M208 231.2h0M164.9 297.1h0M303.7 329.4h0M502.2 220.6h0M120.5 370.7h0M483.1 214.6h0M393.4 263.4h0M402.8 252h0M118.4 380.1h0M243 342.1h0M435.5 241.6h0M466.3 250.1h0M137.1 336.5h0M327.8 315.5h0M202.3 232h0M170.8 273h0M263.8 347.4h0M423.1 252.1h0M316.2 288.6h0M329.6 313.8h0M303 334h0M494.9 222.4h0M185.4 239h0M201.6 246.9h0M235.3 180.8h0M126.2 387.9h0M432.5 245.5h0M248.4 322.5h0M242.4 318.5h0M493.9 210.6h0M126.8 375.4h0M481.5 252.2h0M263.5 328.5h0M317.8 309.5h0M509.7 199.1h0M438.8 256.7h0M277.8 321h0M516 230.7h0M300.2 299.9h0M451.2 235.8h0"/><path d="M284 316.9h0M298.6 314.6h0M516.3 212.6h0M281.7 327.2h0M392.7 278.4h0M316.7 322.3h0M253.9 335.5h0M507.2 208.6h0M501.5 242.4h0M230.9 197.7h0M139.7 336.2h0M123.7 375.2h0M505.3 231.4h0M400.6 284.8h0M238 190.2h0M413.7 266.3h0M343 309.2h0M337.5 276.9h0M124.3 365.4h0M391.2 262h0M361.6 264.8h0M515.3 228.4h0M386.2 273.8h0M274.7 346.7h0M222.2 182.6h0M124.7 357.3h0M284.8 316.3h0M371.6 297.8h0M121.6 355.1h0M191.6 255h0M502.6 199.9h0M318.4 283h0M504.2 218h0M109.5 399.3h0M273.4 316.5h0M430.4 277.5h0M190.3 261.2h0M134.3 328h0M108.3 376.2h0M182.2 279.2h0M472 257h0M484.9 221.6h0M156.3 323.5h0M435.6 238.1h0M256 330.4h0M219.4 210.8h0M435.4 236h0M208.6 227.7h0M156.8 299.9h0M341 299.7h0M340 310.6h0M383.8 268.5h0M187.6 253.4h0M138.6 360.9h0M378.1 290.5h0M107.5 381.6h0M136 348.4h0M256.5 323.2h0M188.2 251.1h0M307.2 312.7h0M438.3 229.8h0M417.3 267.7h0M499.7 214.8h0M296.3 335.4h0M224.9 198.2h0M452.8 263.2h0M476.2 248.3h0M519.7 201.6h0M373.8 258.5h0M475.6 227h0M304.8 300.2h0M510.7 214.7h0M232.7 158.3h0M322.3 318.7h0M278.2 338.2h0M416 245.3h0M370.5 302h0M441.5 250.8h0M305.1 318.5h0M255.7 346.7h0M275.2 329.2h0M370.6 292.8h0M241.8 331.5h0M345.4 277.2h0M298.8 316.1h0M232.9 168.9h0M513.7 217h0M335.8 304.5h0M107.6 385.5h0M263.5 339h0M451.3 264.7h0M242.1 160.1h0M246.2 355.5h0M162.4 319.9h0M276.5 322.6h0M270.7 307.7h0M312.5 318.6h0M436.2 270.4h0M165.4 293.8h0M200 253.1h0"/><path d="M388.1 282.2h0M147.4 343.3h0M495.9 246.5h0M383.4 254.4h0M118.7 370.3h0M350.6 296.7h0M310 291.4h0M467.3 246.3h0M247.1 333h0M124.1 363.4h0M325.3 310.2h0M517.8 227.5h0M179.6 272.9h0M343.7 316h0M412.9 254.4h0M232.2 169.1h0M259.3 353.5h0M508.4 242h0M309.2 299.7h0M496.9 244.7h0M163.6 307.4h0M212.3 196.9h0M494.6 227.5h0M323.1 294h0M108.5 409.8h0M521.2 223.2h0M424.5 275h0M280.7 299.9h0M492.3 244.6h0M442.9 267.4h0M229.4 198.5h0M390.7 253.6h0M393.1 278.5h0M428.8 248.5h0M427.8 239.9h0M485.5 223.2h0M518.6 225.9h0M380.1 257.1h0M203.5 208.5h0M363.5 304.9h0M311.1 315.3h0M160.1 314.5h0M255.5 349h0M504.2 206.4h0M352.2 301.8h0M298.3 304.6h0M321.7 302.5h0M138.1 342.9h0M255 346.1h0M169.2 296.2h0M324.7 305h0M116 359.2h0M284.5 297.8h0M338.4 311.7h0M507.5 198.1h0M158.6 327.1h0M324.5 289.6h0M503.1 223.7h0M332.9 280.8h0M382.6 296.1h0M141.3 326.9h0M362.3 308.2h0M398.5 250.9h0M260.1 317.9h0M164.7 279.2h0M433.4 266.9h0M466.3 255.2h0M523.5 203.2h0M355.9 283.2h0M232.1 197.7h0M186.2 251.2h0M199.6 241.5h0M377.4 286.8h0M494 236.2h0M173.9 302.9h0M295.4 299.4h0M402.7 262h0M352 283.6h0M368.5 295.7h0M498.4 202.9h0M263.6 342.2h0M257.9 311.9h0M253 331.5h0M209.4 225.3h0M435.4 237.1h0M339.8 273h0M153.4 326.4h0M335.8 319.6h0M361 280.1h0M505.6 224.2h0M203.5 235.2h0M252.8 329.7h0M507.1 213.7h0M139.2 364.9h0M271.4 332.4h0M250.7 340.3h0M389.5 277.3h0M171.4 262.3h0M227.4 198.9h0M444.5 231.5h0"/><path d="M510.5 239.5h0M132 362.2h0M188.8 244h0M324 282.5h0M294.7 315.4h0M132.2 351.8h0M484.2 247.5h0M126 384h0M234 176.9h0M366.3 287.6h0M444.4 260.9h0M196.8 258.4h0M266.7 317.2h0M517.4 226.1h0M186.9 260.4h0M123.8 353h0M322.9 304.9h0M489.9 209.4h0M424.2 279.2h0M502.5 230.1h0M424.8 271.3h0M216.6 184h0M414.2 255.8h0M263.1 334.4h0M118.8 372.3h0M490.8 248.7h0M291 317h0M514.1 200.6h0M479 231.9h0M263.2 328.8h0M345.3 272.9h0M116.8 401.5h0M415.4 277.6h0M315.2 326.1h0M138 366.2h0M434.1 231.8h0M306.6 321.9h0M275.3 329.8h0M467.6 260h0M206.6 245.5h0M497.8 244.6h0M474.2 238.6h0M485.6 231.9h0M108.4 396.2h0M432.8 233.7h0M339.1 275.6h0M377.1 296h0M112.5 368.4h0M229.6 193.6h0M229.7 194.1h0M513.5 232.7h0M144.7 317.2h0M132.8 352.6h0M387.1 278.8h0M411.4 245.8h0M186.2 264h0M366.9 290.1h0M161.4 304.3h0M488.8 225.5h0M358.1 305.6h0M139 335.6h0M410.3 265.3h0M487.4 239.4h0M510 220.4h0M375.5 257.7h0M124.9 369.6h0M156.5 322.3h0M229.1 180.8h0M422.3 239.3h0M216.8 190.5h0M373 286h0M348.4 285.9h0M296.6 309.6h0M214.1 233.8h0M128.8 375.9h0M457.7 242.1h0M449.4 255h0M361 277.7h0M478.4 254.9h0M237.7 168h0M479.6 247.3h0M471.6 239.6h0M134.7 371.4h0M470.6 216.3h0M204.1 248.2h0M162.6 287.1h0M223.2 192.2h0M402.9 271.3h0M262.6 310.1h0M357 299.5h0M188.2 266.2h0M326.3 288.3h0M470.7 224.4h0M334.3 288.1h0M355.9 278.4h0M416.6 283.6h0M401.3 262h0M306.8 314.4h0M351.8 294.2h0M252.3 351.4h0"/><path d="M502 238.2h0M212.1 197.6h0M516.5 228.9h0M501.2 208.7h0M249.9 357.1h0M228.9 190.1h0M298.6 323.5h0M330.9 306.7h0M504.7 200h0M373.2 261.3h0M513.4 225.8h0M193.7 244.4h0M253.1 349h0M113.4 385.2h0M128.5 361.9h0M511.2 230.4h0M512 238.5h0M287.5 297.5h0M152.6 339h0M164.5 309.2h0M202.1 226.7h0M297.2 301.7h0M307.4 323h0M113.5 372.4h0M136.7 360.3h0M230.5 198.8h0M217.3 194.8h0M290.2 308.1h0M495.1 224.1h0M244.4 341.2h0M389.4 272.8h0M451.6 255.5h0M393.7 250.2h0M124.5 357.6h0M205 235.1h0M134.7 369.4h0M442.2 262.8h0M381 272h0M137.4 355.2h0M189.8 233.1h0M152.5 304.5h0M165.4 295.3h0M315.7 316.1h0M236.3 151.2h0M403.7 263.6h0M498.4 210.2h0M329.4 277.3h0M233.8 196.9h0M370.6 290.7h0M426.9 266.9h0M306.7 315.2h0M176.3 289.7h0M521.9 230.3h0M146.5 321.2h0M172.9 277.5h0M274.1 305.1h0M360.6 307.7h0M254.8 343.7h0M241 162.5h0M282.9 327.8h0M416.8 258.8h0M205.5 223.4h0M325.9 319.1h0M442.7 267.4h0M174.3 279.6h0M313 293.5h0M484.3 213.9h0M351.1 275h0M348.6 294.5h0M454.3 252.3h0M409.6 249.3h0M510.4 210.7h0M214.1 228.9h0M159 305.7h0M210.3 221h0M408.5 250.7h0M473.3 230.9h0M520.7 212.7h0M186.1 269.9h0M130.3 376.7h0M445 238.1h0M442.8 245.7h0M285.6 328.7h0M178.4 283.4h0M261.6 351h0M157.8 288.2h0M133.7 356.7h0M123.9 350h0M270.4 304.6h0M249.6 320.1h0M209.9 235.8h0M427.3 244.2h0M205.8 245.3h0M379.4 263.6h0M217.5 212.7h0M356.2 300.6h0M209.2 226.9h0M516.5 209.7h0M235.2 190.8h0M279.3 339.2h0"/><path d="M201.6 223.1h0M193.8 244.6h0M244.7 324.4h0M506.1 197.8h0M405 256.1h0M347.8 312.4h0M231.2 197.7h0M496.4 210.8h0M330.8 321.9h0M241.3 185.2h0M318 301.9h0M318.1 327.7h0M358.9 279.7h0M162.8 288.8h0M329.5 302.5h0M365.2 305.4h0M394.1 248.9h0M496.6 207.4h0M478.2 212.2h0M219.4 211h0M510.2 228.1h0M402.4 250.1h0M521.1 209.2h0M386.1 294.4h0M422.8 260.9h0M266.3 338.7h0M350 294.4h0M410.1 279.6h0M518 205.3h0M476.1 217.6h0M119 399.8h0M181.6 270.3h0M395.8 256.9h0M417.4 246.4h0M238.8 189.3h0M289.2 312.2h0M147 336.9h0M228.3 190.2h0M290.8 301h0M212.4 195.4h0M394.4 270.8h0M238.5 157.8h0M351.9 285.7h0M467.4 258.7h0M321.3 318.3h0M320.9 314.1h0M332.4 319.9h0M129 356.8h0M153.3 310.8h0M268.4 314.2h0M143.7 313.1h0M225.3 199h0M379.3 284.4h0M283.9 336.4h0M239.7 188.1h0M126.6 350.3h0M367.2 300.8h0M354.9 265.8h0M152.6 308.6h0M155.1 295.1h0M462.6 252.6h0M428.2 278.6h0M303.8 308.8h0M421 246.4h0M400.5 267.7h0M468.8 241.6h0M142.2 330.6h0M258.3 311.4h0M468.4 220.8h0M493 237.5h0M513.5 207.8h0M169.6 310.9h0M473.9 235.3h0M362.5 263h0M240.6 186.9h0M460.9 233.2h0M416.2 256.1h0M419.9 270.3h0M241.3 158.3h0M125.7 379.8h0M286.5 334.8h0M419.5 249.7h0M405.2 286.4h0M141.6 344.8h0M377.8 293.4h0M133.3 353.3h0M477.4 244h0M108.2 379.1h0M302.2 310.7h0M228.5 203.4h0M220.9 195.7h0M398.3 253.6h0M522.3 228.9h0M182.3 281.1h0M520.9 234.2h0M299.2 294.2h0M180.5 266.6h0M115.9 401.9h0M316.1 315h0M496.9 245.3h0"/><path d="M302.1 333.4h0M330.6 281.4h0M393 293.4h0M392.9 290h0M153.8 304.1h0M431.8 268.9h0M477.9 249.8h0M503.2 238.3h0M246.5 345.9h0M317.7 297.1h0M390.3 292.3h0M236.8 148.1h0M273.2 313.1h0M411.5 283.1h0M225.9 195h0M493.6 225.6h0M482.9 235.5h0M275.4 327h0M496 232.6h0M340.1 275.9h0M393.1 265h0M359.3 283.3h0M317.3 315.2h0M129.1 344.7h0M150.3 316.3h0M507.8 237.1h0M396.1 278.6h0M423 269.5h0M176.8 283h0M515.4 202.4h0M301.8 293.9h0M135.3 330.6h0M214.4 189.8h0M116.6 384.5h0M196.4 220.6h0M113.4 400.6h0M150.3 342.1h0M484.3 216.2h0M293.6 317.3h0M137.7 363.2h0M247 328.8h0M247 320.5h0M512.9 205.4h0M308.3 308.5h0M218.1 226h0M383.7 276.1h0M290.8 300.1h0M428.6 256.8h0M249.9 338.3h0M423.4 247.4h0M178.7 293.4h0M432.4 262.6h0M308.7 316.2h0M260.8 353.7h0M436.4 262.2h0M251.2 335.4h0M315.8 310.8h0M410.7 280.7h0M242.9 329.6h0M481 217.8h0M498.4 226.1h0M158 325.4h0M177.9 287.6h0M409.8 276.6h0M182 280.4h0M457.2 240.9h0M378.8 278.9h0M257.1 327.5h0M472.8 231.8h0M256.6 351.6h0M232.7 154.9h0M241.6 166.2h0M470.3 251h0M502.7 203.9h0M448.3 231.1h0M113.7 386.9h0M373 288.5h0M134.2 343.8h0M413.1 283h0M225.6 176.1h0M120.2 376.3h0M452.6 263.7h0M225.8 175.9h0M481.8 211h0M484.3 215.4h0M421.7 279.4h0M347.6 296.5h0M259.2 321.1h0M241.9 181.1h0M232.4 187.9h0M235.6 151.9h0M492.7 223.8h0M197.7 226.2h0M495 240h0M340.2 315.1h0M126.7 346.1h0M231.7 197.2h0M237.3 151.3h0M387.7 256.2h0M108.8 401.7h0"/><path d="M344.2 289.5h0M391.2 262h0M234.1 158.2h0M488.2 239.5h0M471.7 233.8h0M127.3 365h0M258.9 327.3h0M115.5 362.7h0M306.9 291.6h0M355.1 284.3h0M473.3 231.4h0M380.6 268.6h0M433.8 259.8h0M436.4 230.2h0M328.4 290.1h0M156 331.5h0M234.8 187.6h0M454.6 232.2h0M134.5 369.9h0M170.9 273.1h0M451.5 266.7h0M399.6 264.1h0M363.9 275.6h0M261 324.7h0M293.4 323.8h0M114.4 376.9h0M387.2 271h0M362.1 284.1h0M352.9 298.5h0M268.4 334.8h0M513.4 226.1h0M132.9 372.2h0M254.3 344.7h0M219.8 183.2h0M330 297.5h0M258 346.7h0M465.1 231.5h0M122.7 392h0M190.2 259.5h0M411.4 258.9h0M202.9 209.5h0M134.7 338.6h0M333.9 290.9h0M407.4 263.9h0M381.2 283.5h0M493.5 244.4h0M159.4 318.4h0M419.3 273h0M283.6 306.4h0M523.6 229.6h0M261.3 352.7h0M484.5 246.2h0M145.6 345.2h0M515.2 236.9h0M321.7 310.1h0M187.9 247.8h0M132.5 330.3h0M354.9 306.2h0M453.5 260.2h0M350.8 290.4h0M478 243.5h0M229.6 201h0M331 305.7h0M243.7 352.5h0M368.4 261.5h0M286 321h0M444.6 256.9h0M506.8 213.3h0M157.6 323.7h0M181.9 280.6h0M321.9 324.7h0M433.6 247.5h0M470.3 227h0M130.6 353.6h0M172.1 263.6h0M180.5 271.4h0M315.1 295.1h0M520.1 236.9h0M405.8 246.1h0M395.9 254h0M324.2 314.3h0M398.7 278.5h0M319.7 300.9h0M366.6 278.3h0M271.6 336.3h0M510.6 231.4h0M122.5 378.9h0M259.3 344.2h0M196.8 223.4h0M241.9 349.6h0M195.6 222.5h0M184.1 269.4h0M324.1 294.5h0M445.6 263.5h0M148.5 305.2h0M347.9 300.3h0M287.8 305.1h0M167.9 303.5h0M326.2 304.5h0M383.4 258.3h0"/><path d="M209.3 216.8h0M349.2 291.9h0M120.5 390.9h0M383 283.4h0M252.5 341.6h0M332 285.8h0M296 296.7h0M411.9 241h0M283.1 338.4h0M408.4 267.2h0M422.4 245.2h0M477.7 247.7h0M475.1 242.3h0M460.4 237.8h0M426.3 252.7h0M448.7 233.5h0M478.9 235h0M424.6 246.5h0M140 346.8h0M223.2 190.6h0M217.1 206.2h0M433.4 249.3h0M194.6 223.5h0M257.3 323.5h0M503 218.2h0M279.8 343.4h0M262.5 333.4h0M272.9 341.8h0M277.7 309.9h0M477.8 249.5h0M324.3 319.4h0M211.7 226.2h0M408.1 253.4h0M361 270.5h0M108.5 395.6h0M237.9 155.7h0M113.4 400.9h0M253 355.1h0M185.6 245.4h0M198.1 261.7h0M160.2 292.8h0M155.9 331.8h0M150.8 335.5h0M110.7 374.3h0M298.5 328.2h0M367.4 287.6h0M392.6 254h0M418.1 244.2h0M373.1 271.1h0M322.5 317.3h0M109.7 407.7h0M421.3 262.9h0M402.3 265.3h0M389.4 285.4h0M207.1 240.3h0M347.2 273.7h0M325.7 322.8h0M464.9 260.6h0M214.6 221.5h0M188.5 267.3h0M158.3 322.3h0M421 256.1h0M173 276h0M509.7 218.3h0M159.1 318.7h0M126.7 343h0M390.6 282.1h0M278.8 339.4h0M422.4 265.1h0M169.9 291.6h0M522.5 208.8h0M279.8 304.5h0M411.9 259.3h0M484.1 225.5h0M271.3 331.2h0M396.2 270.2h0M442.3 235.9h0M303.6 295.5h0M158.8 312.9h0M316 309.5h0M168.6 302.1h0M138.1 349.6h0M436.2 264.3h0M201.2 245.9h0M248.7 320.5h0M503.6 209.9h0M471 215.1h0M506.3 215.4h0M151.1 313.6h0M286.8 316.5h0M368.1 276.2h0M216.8 200.2h0M523.9 206.2h0M496.3 220.6h0M287.5 317.2h0M218.1 190.7h0M130.8 356.8h0M167.8 279.7h0M394.6 256.2h0M507.5 233.6h0"/><path d="M366.2 263.8h0M136.7 357.4h0M206.6 205.7h0M422.2 256.6h0M288.7 320h0M292.4 338h0M140.9 349.6h0M259.7 329.3h0M164.9 304.5h0M179.9 281h0M249.5 334.8h0M169.7 275h0M393.5 277.9h0M187 242.2h0M516.4 198.8h0M413.9 261.6h0M446.4 265.2h0M426.4 271.5h0M396.6 279h0M308.5 313.4h0M201.1 211.8h0M319.4 302.3h0M367.5 282.8h0M507.1 197.5h0M200.7 226.8h0M277.2 338.1h0M151 338.8h0M514.1 221h0M444.7 255h0M232.9 156h0M386.2 292.7h0M419.7 260.6h0M211.9 213.1h0M308.1 322.9h0M524.2 199.4h0M412.5 253.7h0M231.1 166.9h0M156.2 316.1h0M514.9 215.9h0M120.3 381.9h0M429.7 255.3h0M367.9 267.1h0M388.7 251.5h0M349.7 279.3h0M487.9 236.9h0M109.1 372.6h0M316.1 316h0M423.3 251.1h0M314 299.5h0M206.4 222.1h0M348.8 276.3h0M136 337.2h0M345.5 273.8h0M117.4 377.6h0M370.7 286.8h0M515.6 238.9h0M472.8 246.4h0M149.1 346.8h0M494.4 224.6h0M154.7 320.2h0M413.9 278h0M135.9 324.4h0M278.7 311.2h0M233.1 162.1h0M275.2 327h0M409.4 250.2h0M234 157.9h0M157.8 297.3h0M273.1 335.5h0M254.9 342.3h0M428.4 238.3h0M503.1 239.1h0M442.9 253.5h0M142.8 352.5h0M434.2 253.3h0M180.2 275.1h0M314.8 288.3h0M260.3 317.3h0M357.8 307.2h0M231.1 159h0M380.7 277.7h0M323.6 290.8h0M139.7 338.9h0M418.5 249.9h0M236.9 168h0M172.8 294.9h0M152.5 337.1h0M334.8 281.7h0M127.3 350.5h0M481.4 244.9h0M422.7 248.6h0M131.2 335.6h0M482.8 228.4h0M477.7 241.6h0M265.8 321.9h0M208.6 232.3h0M139.2 354.4h0M311.8 289.4h0M145.1 339.2h0M503.9 230.1h0"/><path d="M351.9 267.2h0M271.5 326h0M339.1 282.5h0M304 314h0M258.6 345.9h0M446.1 228h0M273 340.6h0M474.1 245h0M399.7 271.1h0M434 257.6h0M215.6 219.6h0M454.2 226.3h0M167.9 312.8h0M271.1 324.2h0M320.8 308.1h0M491.1 219.9h0M172.5 271.3h0M333.7 282h0M413 254.2h0M521.6 214.4h0M505.6 205.6h0M146.2 328.8h0M242.3 167.7h0M213.4 216.8h0M124.1 348.5h0M286.4 311.1h0M133 344.3h0M215.8 198.5h0M190.1 243.6h0M112.3 366.1h0M445 249h0M480.3 254.1h0M222.9 213.9h0M231.1 166.2h0M337.2 312.4h0M399 286.1h0M292.1 328h0M239.7 166.2h0M435.6 247.4h0M329.5 294.9h0M288.1 326h0M508.9 216.4h0M497.9 212.3h0M477.2 224.1h0M170.8 279.1h0M268 329.9h0M496.7 204.3h0M456.2 261.5h0M442.6 260h0M508.3 228.7h0M395.7 259h0M265.5 338.6h0M336.8 277.1h0M380.7 279.3h0M440.2 255.9h0M314.3 319.5h0M136.4 328.1h0M175.7 282.1h0M374.8 291.2h0M338 282.1h0M300.5 296.5h0M344.3 276.8h0M158.4 308.9h0M232 186.7h0M340.5 287.8h0M486.3 210.6h0M446.5 237.5h0M497.8 203.8h0M488.2 235.7h0M323.3 321.3h0M160.8 285.2h0M339.5 306.3h0M408.4 256.1h0M134.3 341.7h0M235.4 161.8h0M333 304.4h0M436.8 241.2h0M513.9 221.3h0M370.9 264.8h0M157.8 322h0M229.6 198.1h0M318.2 310.3h0M359 301.3h0M248.3 339.1h0M263.3 314.4h0M423.1 276.3h0M453.1 227h0M466.4 253.8h0M128.7 348.9h0M474.9 228.6h0M437.4 231.6h0M426.9 264.6h0M273 330.7h0M251.5 344.4h0M282.6 340.1h0M264.7 330.8h0M176.5 299.2h0M317.5 324.3h0M242.9 345.2h0M491 206.8h0"/><path d="M141.6 333.9h0M311.6 305h0M172.1 278h0M394 287h0M170.7 285h0M460.8 219.5h0M482.1 210.6h0M392 292.9h0M110.2 377.9h0M315 287.9h0M179.5 278.8h0M230.1 203.8h0M509.1 210.4h0M108.3 411.8h0M222.7 172.8h0M123.8 357.4h0M285 321.4h0M418.1 264h0M148.7 304h0M477.5 228.6h0M347.2 278.8h0M334.4 318.8h0M330.6 291.9h0M272.8 344.3h0M201.5 212.5h0M307.6 323.3h0M388.8 282.9h0M523.7 233.9h0M382.7 265.1h0M391.5 279.4h0M495.4 244.3h0M431.1 234.6h0M505.3 242.7h0M297.4 322.1h0M141.5 339.3h0M277.6 329.7h0M501.1 235.4h0M246.3 348.2h0M403.3 249h0M125.1 386.2h0M185.4 243.8h0M419.8 252.8h0M202.1 227.1h0M358.6 272.3h0M261.4 327.1h0M374.8 262.6h0M472.6 225.3h0M501.7 201.8h0M361.3 278h0M126.4 370.2h0M417.7 244.4h0M109 378.4h0M316.1 319.8h0M489 223.1h0M162.4 323.4h0M501.3 221.6h0M228.1 197.7h0M249.1 329.6h0M515.7 201.2h0M264.5 346.9h0M483.2 235.5h0M308 295.8h0M275.8 329.6h0M206.2 245.3h0M396.2 268.2h0M386.1 262.6h0M182.7 245.8h0M464.6 224.5h0M175.4 279.4h0M383.9 295.3h0M120.7 353.8h0M216.1 205.8h0M379.3 290.5h0M203.8 242.4h0M293.1 303.3h0M490.3 208.5h0M478 249h0M423.2 260h0M162.6 315h0M250.7 340.9h0M501.2 212.3h0M412.2 244.7h0M374.9 279.9h0M170.2 309.3h0M157.4 299.4h0M356 275.4h0M500.4 239.4h0M516.4 228.2h0M116.8 367.1h0M390.3 273.2h0M159.9 316.9h0M241.4 180.5h0M271.8 324.6h0M159.7 323.7h0M241.2 146.3h0M486 234.2h0M189.6 273.2h0M107.8 410.5h0M205.3 243.8h0M469.7 249.7h0"/><path d="M240 156.2h0M115.9 371.3h0M298.2 321.2h0M487.1 217.5h0M219.3 190.7h0M260.4 329.2h0M505.6 237.1h0M133.1 333.2h0M198.8 239h0M131 358.6h0M231.4 168.7h0M175.5 284.1h0M408.1 255h0M378.7 279.8h0M189.7 237.5h0M465.6 220.5h0M411.1 270.4h0M137.5 337.1h0M233.1 162.6h0M187.8 265.5h0M419.3 259.8h0M314.1 313.1h0M159.6 298.5h0M370.3 284.6h0M455.1 249.7h0M335.4 278.1h0M399.1 272.7h0M157 322h0M172.4 305.6h0M300.2 306.7h0M158.8 312.7h0M475.4 219.6h0M472.9 241.6h0M316.7 320.5h0M511.8 216.2h0M410.8 242.9h0M303 318.1h0M432 236.4h0M263.3 349.1h0M333.2 291.8h0M451.6 256.3h0M468.2 220.8h0M313.9 296.1h0M495.8 206.2h0M169.5 304.2h0M197 237.5h0M383.4 298.3h0M411.7 285.4h0M123.9 356.6h0M440.4 263.7h0M367.1 292.8h0M323 304.1h0M507.2 207.6h0M119.9 395.8h0M195.7 220.7h0M201.2 235.4h0M504 224h0M393.4 278.5h0M152.8 333.8h0M183.1 278.1h0M400.8 246.4h0M447.4 244.4h0M436.1 250.3h0M394.3 276.4h0M505.8 239.3h0M250 315.2h0M207.6 200.7h0M418.4 261.7h0M480.5 211.5h0M514.1 199.6h0M440.8 272.5h0M518.1 233.6h0M367.4 303.7h0M322.6 311.5h0M229.8 181.1h0M116.2 404.3h0M425.8 266.3h0M296.5 298.1h0M171 280.5h0M284.8 305.8h0M412.9 259.2h0M306.7 298h0M318.4 300.7h0M370.9 264.2h0M514.8 210.8h0M192 256.9h0M497.6 201.8h0M462.8 234h0M497 243.3h0M190 273.4h0M297.7 310h0M290.4 340.7h0M183.7 285h0M342.6 292.6h0M159.5 301.7h0M126.8 342.4h0M509.3 216.5h0M291.5 334.4h0M387.8 285.8h0M524 206.8h0"/><path d="M500.4 221.8h0M297 299.1h0M139.4 352.2h0M179 258.4h0M259.3 326.1h0M242.8 328.1h0M114.2 405.3h0M122.4 374.7h0M441.7 261.1h0M382.9 291.5h0M436.2 249.2h0M171.4 270.4h0M302.6 303.5h0M120.9 372.6h0M323.1 324.9h0M338.6 276.1h0M406.1 247.4h0M449.9 230.1h0M209.1 216.1h0M464.2 231.6h0M504.3 231.2h0M316.7 283.1h0M346.4 277.1h0M450.7 246.7h0M297.3 325.8h0M113.6 382h0M403.2 260.9h0M360.8 307.8h0M509.8 222.8h0M330.6 320.5h0M435.8 263.5h0M218.5 189h0M402.1 245.4h0M287.3 322.6h0M427.3 263.3h0M127.5 356.6h0M443.7 226.1h0M503.5 219.1h0M110.8 385.1h0M493.6 209.1h0M426.7 271.8h0M238.2 181.4h0M460.6 256.6h0M311.3 296.9h0M123.7 388.8h0M441 261h0M310.7 287.4h0M522.1 202.8h0M320.3 286.4h0M324.5 288.7h0M392.4 280.3h0M510.3 221.2h0M523.4 195.7h0M494.5 231.3h0M299.2 314.6h0M328.8 321.5h0M453 236.4h0M438.2 254h0M229.8 186.5h0M199.5 219.6h0M408.3 243h0M304 314.2h0M198.1 235.2h0M145.8 345.6h0M194.9 261.9h0M248.6 316.1h0M446.2 229.2h0M115.7 389.4h0M327.8 279.8h0M278.8 309.3h0M449.1 237.3h0M497.7 241.3h0M136.1 368.6h0M107.5 409.8h0M190.8 254.2h0M113.3 364.4h0M432.7 231.5h0M441.5 266.9h0M299.5 320.2h0M404.7 270.4h0M524.1 214.1h0M252.4 316.4h0M132.1 339.2h0M510.8 237.8h0M297.3 320h0M344.8 274.8h0M285.1 328.2h0M438.2 232.2h0M385.8 270.1h0M279.5 312.7h0M366.2 273.4h0M111.7 381.8h0M411.6 270.6h0M399.1 260.8h0M201.4 227.8h0M119.4 366.8h0M386.8 283.9h0M483.5 217.6h0M410.7 274.8h0M131.5 377h0"/><path d="M435.4 265.7h0M334.3 292.4h0M471.6 214.7h0M246.7 324h0M385.5 282.1h0M502.4 203.5h0M342.2 289.9h0M210.6 205.3h0M241.9 178.5h0M314.1 329.3h0M194.5 257.9h0M130.9 341.2h0M363.6 279.4h0M360.7 299.4h0M247.6 331.6h0M235.6 172.7h0M457.2 256.1h0M277.3 340.4h0M434.4 272.8h0M126.2 384.9h0M166.6 304.4h0M130.5 347h0M352.6 269.4h0M430 267.1h0M449.8 244.9h0M155.6 294.7h0M404 272.6h0M156.4 314.7h0M117.9 366.9h0M375.6 277.8h0M323.6 309.6h0M415.6 251.5h0M286.7 336.8h0M486.8 215.5h0M287.1 324.6h0M137.7 355.2h0M112.4 379.6h0M158.5 294.3h0M436.5 232.9h0M154.8 320.1h0M277.6 323.7h0M475.2 247h0M400.4 288.6h0M255.4 351.5h0M403.5 254.7h0M225.7 185.8h0M453.1 262.6h0M208.1 217.3h0M421.1 246h0M451.7 241.1h0M307.1 296.6h0M219.1 186.4h0M349.2 268.7h0M514.9 213.3h0M128.2 384h0M186.2 261.5h0M146 325.9h0M503.1 205.4h0M155.8 291.2h0M495.7 245.7h0M464.7 246.2h0M163.6 288.9h0M152.1 331.9h0M482.2 215.8h0M337.1 274.3h0M306.5 290.7h0M181.8 270.1h0M502.7 230.9h0M242.7 355.9h0M153.1 318.4h0M231.5 181.7h0M124.3 382.9h0M505.2 211.1h0M176.8 277.2h0M485.2 231.2h0M479.8 215.3h0M449.9 227.2h0M241.9 339h0M418.8 275.9h0M452.4 266.9h0M171.6 303.7h0M208.6 217.2h0M272 335.9h0M183.9 241.3h0M217.4 188.7h0M191.4 242.6h0M415.4 254.2h0M309 289.1h0M367.6 295.1h0M114.6 382.1h0M373.2 296.8h0M377.3 293.8h0M351.9 290.7h0M423.8 257.2h0M251.3 352.1h0M335.6 302.7h0M444.1 230.8h0M332.9 317.9h0M491 220.8h0M398.4 252.8h0"/><path d="M242.5 351.5h0M308.6 300.7h0M128.1 367.5h0M260 311.8h0M355.3 291h0M254.3 347.3h0M342.9 297.6h0M319.6 320h0M413.5 278.4h0M113.9 406.5h0M255.2 347.6h0M277.8 307.1h0M161.6 295.1h0M239 187.9h0M124.7 362.4h0M489.4 242.7h0M335.2 299h0M118.4 397.5h0M350.9 295.8h0M341.3 291h0M189.5 276.8h0M133.3 332.3h0M464.3 244.4h0M190.5 229.2h0M468.2 226.6h0M206.1 241.5h0M175.5 270.4h0M426.3 237.6h0M351 278.1h0M231.5 171.8h0M201.7 234.9h0M206.7 209.4h0M429.6 276.7h0M295.1 294.7h0M186.1 258.5h0M242.1 170.7h0M524.3 204.7h0M274.7 322.3h0M447.9 235h0M287.6 309.5h0M382.7 277.6h0M235.4 182.4h0M131.3 347h0M146.9 332.9h0M500.7 230.6h0M320.4 284.9h0M473.7 214.6h0M308.2 314.4h0M512.4 233.6h0M132.8 347.2h0M447.3 263.6h0M443.2 244.7h0M114.9 389.3h0M318.9 299.9h0M331 282.4h0M281.1 300.3h0M389.2 284.2h0M465.9 238.2h0M251.1 326.3h0M321.3 313.4h0M233.5 181.3h0M491 213.3h0M213.1 233.3h0M516.9 222.9h0M497.3 215.5h0M389.2 289h0M459.7 259.9h0M436.7 259.5h0M444.3 251.4h0M158.1 322.8h0M197.8 246.9h0M239.6 167.2h0M473.1 246.9h0M238.9 151.4h0M384.8 259.2h0M128.1 363h0M230.6 190.7h0M385.6 276.8h0M111.1 369.6h0M312.7 325h0M474.2 245.2h0M246.6 341.3h0M433.6 270.7h0M472.7 231.5h0M343.5 314.9h0M192.9 265.5h0M315.3 328.9h0M306.2 307.7h0M133.4 361.1h0M193.6 269.9h0M457.7 225.5h0M470.6 245.6h0M313.1 311.4h0M198.5 260.2h0M468.9 219.6h0M341.5 281.9h0M203 234.3h0M194 225.1h0M352.8 294.2h0M161.2 286.8h0"/><path d="M271.7 326.4h0M322 296.2h0M236.6 192.8h0M368.7 278.2h0M223.3 196.7h0M367.5 285.6h0M469.3 220.2h0M161.3 323.7h0M300.7 330.7h0M215.4 220.1h0M434 263.8h0M454.2 245.2h0M242.2 326.1h0M239.1 179.6h0M289.8 301h0M454.7 263.3h0M160.6 307.8h0M143 315.6h0M334.4 307.5h0M472.3 222.7h0M399.3 288.5h0M110.8 377.5h0M497.8 246.8h0M415.3 261.1h0M174 295.1h0M213.1 207.7h0M354.5 299h0M179.7 292.3h0M264.3 349.4h0M492.2 243.2h0M229.8 194.2h0M246.1 347.3h0M355.2 302.7h0M506.2 215.5h0M120.1 364.4h0M434.6 264.3h0M394 286.5h0M279.6 328.1h0M148.6 332.5h0M127.3 377.5h0M385.7 256.9h0M171.4 292.2h0M448 256.4h0M196.1 221.8h0M428 235.7h0M297.5 322h0M316.3 308.5h0M468.8 247h0M299.5 308.7h0M482.3 232.5h0M172.7 287.8h0M203.9 232.6h0M177.8 279.5h0M515.4 228.7h0M524.4 213.6h0M384.2 254.5h0M301.9 305.3h0M241.7 158.1h0M251.5 329.8h0M504 221h0M418.6 246.2h0M453.9 247h0M123.9 348.9h0M294.9 313.4h0M249.3 332.1h0M454.6 253.6h0M459.3 233.8h0M231.9 167.4h0M127 356.1h0M473.5 222.9h0M401 263.7h0M361.8 278.3h0M346.8 310.6h0M316 294.1h0M186 282.7h0M494.4 224.8h0M496.7 243.6h0M131.7 344h0M212.4 203.7h0M346.2 312.2h0M156.7 325.3h0M189.6 232.7h0M234.3 197.7h0M465.6 234.9h0M369.6 300.2h0M195.2 249.4h0M350.2 294h0M129.5 363.8h0M352.2 293.3h0M263.1 312.7h0M295 306.6h0M447.4 234.7h0M332.1 294h0M310 303.2h0M292.7 321.5h0M262 349.2h0M312.9 316.8h0M344.1 284.4h0M352.5 280.5h0M340.5 289.7h0"/><path d="M430.8 254.1h0M141.2 319.4h0M242.1 341.6h0M131.8 370.6h0M420.8 257.6h0M338.7 285.8h0M294.5 307.7h0M290.4 337.8h0M355.3 282.6h0M480.5 228.8h0M192.8 268.7h0M139 340.7h0M486.8 231.1h0M377.5 286.4h0M217.7 194.4h0M320.1 293.4h0M239.7 147.9h0M157.5 306.3h0M259.8 324h0M396.1 284.8h0M315.8 306.9h0M406 244.5h0M162.2 281.8h0M166.7 310.3h0M196.6 260h0M127.6 374.5h0M346.1 293.4h0M203.1 218.8h0M253.2 342.7h0M226.1 191h0M520.3 191.4h0M500.4 217.5h0M513.6 197.6h0M302.4 306.2h0M144 348.3h0M420.6 258.3h0M451.1 251.1h0M512.7 197.3h0M497.8 233.8h0M175.3 301.5h0M358.4 288.6h0M360 293.7h0M521.4 212.8h0M472.2 220.1h0M348.6 271.1h0M214.3 217h0M482.3 213.1h0M311.2 328.2h0M327.9 318.1h0M164.1 282.8h0M405.8 260.3h0M325.5 302.8h0M354.8 270.3h0M324.4 289.4h0M228.8 192h0M435.4 250.6h0M173.2 284.8h0M225.1 176.4h0M499.5 203.7h0M289.1 301.5h0M211.8 235.8h0M285.3 331h0M353.1 280.3h0M307.6 320.4h0M154.8 328.3h0M495.4 233.7h0M362.2 289.5h0M145.5 318h0M272 340.5h0M271.1 324.7h0M496.8 215.4h0M114.2 373.2h0M439.4 243.9h0M191.5 238.4h0M503.7 209h0M109.4 401.4h0M292.5 338.9h0M384.9 281.9h0M237.3 179.1h0M229.1 205.3h0M513.5 221.6h0M396.7 247.4h0M492.6 247.6h0M179.2 291h0M276.6 335.8h0M200.2 228.6h0M345.1 308h0M470.6 253.7h0M240.1 156.4h0M149.2 301.3h0M470.4 255.1h0M387.9 268h0M301.6 328.3h0M319.5 308h0M133.9 366.1h0M208.9 197.4h0M463.9 246.4h0M518.2 215.4h0M167.6 314h0M427.3 255.7h0"/><path d="M139.9 321h0M313.6 300.9h0M413.2 241.4h0M116 372.1h0M428 263.4h0M181.2 254.4h0M513.5 204.3h0M266.7 347.6h0M161.2 304.5h0M467.3 224.5h0M211.7 206.4h0M348.1 286.2h0M287.4 316.7h0M309.3 318.5h0M517.5 222h0M375 277.2h0M498.6 223.1h0M407.2 277.3h0M410.1 279.9h0M354.5 276.2h0M474.4 249h0M273.3 341.5h0M148.9 338.1h0M412.5 261.4h0M517.5 230.1h0M389.8 289.4h0M242.2 178.7h0M432.2 255.7h0M296.3 329.7h0M363.3 267.1h0M190.7 266.4h0M212.7 214h0M235 172.6h0M237.3 157.8h0M328.7 318.6h0M266.4 343.2h0M236.9 192.6h0M354.9 281h0M404.9 251.3h0M312.7 291.9h0M345.9 311.7h0M514.5 209h0M473.7 216.5h0M467.1 225.6h0M507.8 217.4h0M206.6 220h0M399.1 260.7h0M178.1 292.1h0M287.8 317.8h0M286.8 325.1h0M241.8 153h0M497.9 245.8h0M154.7 318.5h0M300.5 326.7h0M201.1 245.2h0M260.3 333.8h0M305.7 331.8h0M376.3 286.1h0M341.6 297.7h0M241 158.1h0M396.8 286.2h0M272 344.8h0M291.6 320.5h0M439.8 235.9h0M464.4 219.4h0M266.8 319h0M360.3 306.2h0M121.9 381.2h0M319.3 295.1h0M232 158.6h0M357.9 291.6h0M190.8 257.9h0M275.6 325.8h0M264.5 324.7h0M304 318.8h0M508.2 207.2h0M146.4 320h0M217.9 201.4h0M317 323.4h0M212.2 221.6h0M192.8 241.8h0M208.2 199.4h0M203.7 247h0M214.4 213.8h0M298.7 302h0M303.5 314h0M428.8 242.5h0M313.8 314.7h0M368.9 273.3h0M153.9 303h0M174.7 261.3h0M418 276.1h0M318.9 300.5h0M386.9 267.1h0M242 173.9h0M174.6 268.1h0M266.3 312.5h0M414 239.6h0M229 195.7h0M506.3 208.1h0"/><path d="M394.2 276.8h0M390.7 255.8h0M433.1 239.1h0M187.5 277h0M199.6 250.7h0M321.6 306.9h0M428.2 249.5h0M317 314.4h0M330.2 279.4h0M140.3 329.8h0M481.7 228.1h0M358.1 309.1h0M280 336.1h0M154 338.2h0M176.6 279.3h0M163.4 314.8h0M191.8 268.4h0M191.3 235.2h0M174.4 302.5h0M346.5 297.5h0M198.8 240.6h0M473.9 241.8h0M423 263.4h0M166.7 294.2h0M183.8 273.9h0M218.4 215.2h0M231.3 195h0M499.9 236.5h0M505.4 227.9h0M497.4 206.4h0M383.3 290.6h0M149.1 333.6h0M320 322.7h0M237.1 166.1h0M510.8 223.4h0M363.4 302.7h0M408.4 268.3h0M491.3 212.4h0M192.2 269.6h0M489.1 214.8h0M345.2 310.4h0M284.6 320.4h0M401 265.5h0M304.2 301.1h0M464.4 237h0M491.4 212.7h0M302.8 313.8h0M420.1 273.2h0M432.2 241.1h0M296.4 327.5h0M495.3 215h0M150.1 309.6h0M282 332.5h0M419.2 250.5h0M308.9 324.6h0M287.3 315.1h0M283.4 340.6h0M220 194.8h0M340.4 314.9h0M489.5 224.3h0M315.6 309.5h0M423.1 275.4h0M427.4 273.3h0M464.3 242h0M303.3 331.4h0M278.3 305.5h0M169.9 273.9h0M503.9 209.2h0M524.2 233h0M222.6 175.5h0M112.2 397.5h0M419.3 243.1h0M207.2 215.9h0M334 305.2h0M453.1 254.8h0M406.6 251.4h0M122.5 363.1h0M204.5 242.1h0M430.9 232.1h0M331.1 280.1h0M235.2 193.5h0M430.2 265h0M143.6 341.7h0M275.2 319.2h0M155.5 290.5h0M412.8 263.7h0M445.9 259.4h0M242 350.1h0M511.6 238.9h0M285.8 327.6h0M239.3 156.8h0M405.6 245.6h0M320.5 322.9h0M371.2 300.3h0M361.1 297.3h0M351.2 294.1h0M416.1 278.5h0M484.4 225.5h0M161.3 317.6h0M139.9 324.8h0"/><path d="M494.5 213.2h0M254 336.5h0M239.2 147.4h0M245.5 314.8h0M458.4 241.8h0M305.8 310.2h0M443.2 235.1h0M232.1 186.1h0M240.9 143.1h0M371.4 299.7h0M450.6 261.2h0M122.2 391.2h0M465.4 235.3h0M314.2 304.7h0M163.7 321h0M499 226.9h0M267.6 346.2h0M206.9 202.1h0M501.2 200.7h0M320.1 281.9h0M366.8 266.7h0M114.1 399h0M292.8 310.9h0M525.1 222.7h0M482.7 208.4h0M331.2 290.2h0M367.1 292.2h0M132.6 337.9h0M123.7 380.8h0M169.2 297.8h0M289.6 326.8h0M481.9 242.6h0M138.6 348.6h0M422.5 263.5h0M496 244.9h0M467.3 241.6h0M179.2 254.2h0M426.9 262.6h0M512.3 212.1h0M284.4 299h0M525.5 213.1h0M396 282.8h0M368.3 263.9h0M419.3 264.7h0M499.5 246.1h0M523.5 232h0M433 241.3h0M489.8 218.2h0M366.8 297.9h0M302.7 329.8h0M437.3 229.4h0M322.4 292.8h0M522.1 227.8h0M144.8 345.2h0M388.2 287.9h0M116.6 397.7h0M274.6 330.6h0M209.1 226.5h0M407.2 252.3h0M385.7 258h0M163.2 284.5h0M316 317.1h0M414.6 239.5h0M361.4 282.8h0M356.2 290.5h0M405 251.4h0M513.1 208.7h0M132.4 360.7h0M196.4 239h0M417.5 269.1h0M232.1 177.9h0M506.3 227.6h0M500.9 234.2h0M313.5 294.7h0M260 309.1h0M489.8 229.1h0M237.8 192.7h0M390.1 267h0M383.7 290.7h0M181.3 282.7h0M119.5 393.9h0M288.2 336.5h0M264.4 330.1h0M197.9 251.2h0M329.9 305.8h0M344.8 306.6h0M124.8 386.5h0M195.7 263.1h0M319 305.2h0M306.9 301.4h0M235.6 193.6h0M295.7 296.4h0M237.4 191.8h0M161.3 300.6h0M329.1 277.6h0M290.5 315.7h0M202.2 234.7h0M170.7 276.3h0M127.8 373.5h0M244.7 316.4h0"/><path d="M136 369.2h0M298.7 297.6h0M340.9 276.6h0M300.8 335.8h0M269.3 326h0M172.8 279.8h0M146 340.8h0M494.4 243h0M264.6 351.3h0M517.5 222.2h0M298.1 316.3h0M266 315.9h0M197.3 228.8h0M516.6 196.5h0M221.4 188.3h0M508 231.4h0M388.7 286.6h0M354.5 275.3h0M118.6 399.9h0M487.7 215.4h0M301.5 312.6h0M323.3 284.3h0M413.6 272h0M512.5 238.3h0M318.2 287.3h0M419 255.5h0M344.4 312.5h0M289.2 337.3h0M259.5 318.9h0M196.4 247.5h0M181.7 256.3h0M393.2 270.9h0M451.4 261.7h0M266.8 320.7h0M343.7 274.9h0M447.4 234.2h0M461 236.1h0M316.5 322.5h0M216.7 205.9h0M354.8 284.9h0M374.4 288.3h0M366 290.9h0M256.8 311.4h0M224 181.9h0M388.1 267.7h0M339.2 289.8h0M120.8 350.8h0M324.2 292.6h0M458.9 222.8h0M111 388.6h0M121.6 375.3h0M469.6 225.4h0M167.8 308.6h0M431 275.6h0M204.4 250.7h0M385.6 288.5h0M305.8 323.9h0M375.9 262.2h0M143.8 328.4h0M360.6 272.5h0M165.7 273.1h0M304.6 317.1h0M299.3 320.4h0M199.2 246.4h0M229.1 202h0M211.4 214.5h0M223.3 206.8h0M265.2 320.5h0M456.1 239.8h0M463.7 238.3h0M153.4 307.8h0M433 258h0M201.6 251.8h0M247.2 324h0M503.1 239.1h0M197.2 236h0M260.7 335.2h0M224.9 206.2h0M433.8 240.4h0M489.7 211h0M342.8 300.5h0M379.2 281.4h0M442.8 238.5h0M420.6 253.6h0M503.2 216.4h0M291.3 320.5h0M474.7 250.4h0M220.6 215h0M353.6 309h0M454.4 252h0M158.2 298.8h0M514.7 198.8h0M245.9 328h0M356.2 282.4h0M144.9 336h0M148.4 338.4h0M452 229.5h0M471.5 234.2h0M406.9 270.9h0M135.3 362.6h0"/><path d="M516.5 215.6h0M500.4 227.7h0M341.2 302.4h0M204.4 212.3h0M518.9 218.2h0M274.2 348.4h0M360.1 266.1h0M438.2 270.8h0M262.4 329h0M446.7 249.7h0M153.5 328.2h0M499.7 236.3h0M382.8 288.9h0M256.1 351.2h0M149.1 312.2h0M205.5 223.2h0M392.8 248.6h0M119.4 361.9h0M432 235.9h0M286.4 299.1h0M241.8 163.9h0M431.5 249.4h0M509.9 225.3h0M138.9 353h0M228.3 199.7h0M182.9 259.8h0M287.9 327.8h0M316.5 320.8h0M216.8 205.5h0M379.7 289h0M310.8 326.2h0M175.9 295.2h0M346.7 314.4h0M375.3 264.4h0M194.3 222.2h0M375.2 267.6h0M406.1 255.8h0M126.3 380.8h0M209.5 241.5h0M339 273.3h0M414.7 272.7h0M274.4 348h0M129.4 379.8h0M501.5 228.3h0M323 310.1h0M371.5 292.3h0M235.4 151h0M301.8 290.5h0M183 280.6h0M136.7 356.1h0M446.8 262.2h0M217.9 208.9h0M433.2 274.4h0M166.6 286.9h0M303.9 293h0M295.2 306.3h0M505.2 227h0M403.4 249h0M291.5 307.5h0M370.2 293.9h0M394 276h0M220 193.3h0M344.3 290.5h0M162.3 312.5h0M443.3 268.9h0M154.1 298h0M161.3 281.7h0M214.9 225.2h0M453.8 240.8h0M229.5 180h0M506.7 202.5h0M343.2 271h0M251.1 349.3h0M438.3 251.2h0M410.7 263.1h0M181.9 268.2h0M446.4 262.8h0M515.7 218.2h0M162.6 301.5h0M407.3 274.1h0M261.8 333.8h0M416.9 265.4h0M147.5 321.6h0M420.2 254.8h0M393.8 265.9h0M218.1 184.5h0M377.8 285.3h0M309.3 325.6h0M488.1 239.2h0M226.4 203.5h0M368.1 275.5h0M285 322.3h0M308 289.6h0M295.5 332.4h0M454.9 224.7h0M358.5 300.2h0M469.3 247.6h0M514.9 200.2h0M380.7 274.9h0M119 379.7h0"/><path d="M231.7 167.4h0M417.1 241.2h0M440.1 265.5h0M234.7 172.6h0M109.6 398.7h0M202.5 244h0M443.7 230.4h0M431.3 232.1h0M401.8 287.4h0M181.3 248.3h0M400 272.2h0M134.1 343.3h0M144.6 330.4h0M121.7 387.5h0M429.4 267.2h0M381.3 291.5h0M430.1 240.3h0M114.5 389.3h0M410.6 247.6h0M110.8 378h0M443.4 255.5h0M451.5 228.5h0M125.6 363.3h0M489.7 224.3h0M363 278.3h0M216 190.1h0M261.9 342.2h0M318.6 283.3h0M173 305.5h0M477.6 236.2h0M122.9 377.6h0M489.2 229.5h0M252.9 314.6h0M429.5 276.3h0M131.4 342.7h0M365 300.8h0M300.3 302.7h0M228.8 182.7h0M214.5 210.7h0M279.3 335.2h0M221.6 218.6h0M142.3 356.8h0M372.6 284.1h0M250.4 349.8h0M292.4 336.3h0M419.8 267h0M345.5 301.7h0M241.9 342.2h0M319.5 290.8h0M481.6 210.9h0M484.7 209.4h0M112.6 385.9h0M253 319.5h0M151.9 342.8h0M461 245.1h0M429.6 270h0M136.2 328.9h0M183 259.1h0M133 333.9h0M258.4 336.8h0M481.8 233.7h0M319.2 324.6h0M120.8 384.2h0M378 289.9h0M207.4 239.1h0M327 291.6h0M148.8 306.6h0M303.8 313.4h0M310.6 323h0M191 262.1h0M142.8 346.5h0M410.1 254.8h0M499.3 245.5h0M276 309.3h0M412.9 269.7h0M276.5 346.3h0M377.8 263.3h0M346.7 295.1h0M250.1 346.3h0M182.5 271h0M300.5 294.1h0M363.2 267.1h0M111.3 389.9h0M300.2 296.4h0M170.7 272.8h0M509.3 202h0M463.8 225.3h0M194.4 258.8h0M513.7 216.9h0M300 330.6h0M254.3 314.1h0M173.1 275h0M350.8 277.6h0M229.6 178.6h0M226.6 206.9h0M427.3 266.5h0M140.7 316.8h0M240.5 143.6h0M281.5 322.4h0M516.4 219.4h0"/><path d="M381.3 278.1h0M398.5 277.4h0M324.3 307.8h0M303.4 296.8h0M208.1 244.3h0M408.3 262.7h0M487.6 237.1h0M250 322.2h0M397.4 275h0M307 287.3h0M240.2 142h0M280 314.4h0M230.3 199.5h0M272.6 327.5h0M151.4 312.1h0M322.6 323.4h0M224.4 192.2h0M301.9 314.1h0M359.1 285.7h0M434.9 270.9h0M228.9 179.8h0M289.6 307.3h0M352.5 308.4h0M190.1 272.2h0M223.6 208.2h0M270.2 319h0M220.9 209.7h0M456.1 239.6h0M328.5 300.6h0M255.9 346.5h0M426.7 262.1h0M493.4 211.4h0M508.9 220.2h0M398.7 275.2h0M126.1 354.9h0M215.6 186.5h0M491.8 246.1h0M516.3 233.2h0M410.2 252.3h0M418 244.9h0M263.9 310.1h0M473.1 234h0M207.1 225h0M203.2 233.3h0M464.5 218.9h0M366.7 278.8h0M414.8 283.9h0M377.1 268.7h0M311.3 321.5h0M182.5 260h0M135.2 371.2h0M370.1 272h0M381.7 266.9h0M519.8 217h0M380.3 275.5h0M484.4 207.5h0M433.2 241.4h0M229.8 165.3h0M416.8 248.1h0M517.8 217.5h0M202.9 241.8h0M383.9 271.2h0M331.6 312.8h0M148.6 318.2h0M342.1 298.6h0M189.4 253.7h0M445.2 266.2h0M210.3 211.7h0M208.6 229.7h0M447.9 230.9h0M123.7 383h0M436.4 256.3h0M423.4 236.4h0M282 325.2h0M239.1 148.9h0M295 320.7h0M245.5 339.8h0M212.4 223.1h0M299.3 306h0M379.4 258.2h0M360.3 307.9h0M354.7 289.1h0M387.7 288.3h0M215.4 200.9h0M459.6 262.5h0M500.2 226.9h0M366.3 298.3h0M162.7 294.1h0M451 234.7h0M494.4 236h0M215.9 204.4h0M175.7 273.4h0M263.8 344.1h0M469.3 254.4h0M197.3 246h0M363.6 307.8h0M510.8 235.3h0M491.8 235.8h0M397.8 275h0M173.9 298.5h0"/><path d="M323.7 289.4h0M139.6 340.9h0M131.9 353.7h0M486.3 208.3h0M365.1 284.5h0M109 387.6h0M464.5 253.5h0M243 360.1h0M339.8 315.3h0M413.5 275.8h0M302.2 333.1h0M375.7 271.8h0M214.3 223.5h0M382.8 282h0M171.1 297.2h0M373.6 262.8h0M382.8 288.3h0M349.5 303.4h0M396.8 255.4h0M375.4 257.6h0M476.9 238h0M522.3 228.2h0M352.6 281.8h0M181 290.9h0M332.3 286.9h0M252.8 334.5h0M136.8 357.7h0M408.4 276.3h0M243.1 342.3h0M479 238.6h0M248.2 342h0M340 294.7h0M395.1 284.6h0M223.7 182.5h0M482.6 249.2h0M159.4 327.1h0M293.2 298.3h0M113.8 372.1h0M199.6 223.9h0M387.9 251.8h0M125.2 375.4h0M472.1 255.5h0M342.3 310.7h0M164.1 289h0M244.9 326.5h0M432.3 268.5h0M388.1 256.1h0M296.6 322.2h0M209.7 239.4h0M161.6 303.5h0M242 166.5h0M400.7 266.6h0M422.5 237.8h0M168.1 285h0M114.1 382.6h0M239.2 160.8h0M371.1 264.7h0M470.6 215.3h0M304.4 292.9h0M375.2 258.5h0M368.5 287.9h0M222 219.8h0M487.3 223.6h0M359.2 304.1h0M462.4 244.8h0M504.3 218.2h0M276.1 327.6h0M304.6 290.7h0M126.5 387.1h0M206.7 238.7h0M500.1 226.3h0M487.9 216.5h0M183.2 272.3h0M231.7 177.8h0M169.1 312.7h0M450.9 230.3h0M244 319h0M123 367.5h0M203.3 232.5h0M423.2 271.3h0M310.3 293.3h0M349.6 298.4h0M443.2 254.5h0M261.5 328.3h0M333.6 314.1h0M493.1 211.2h0M507.9 197.5h0M336.7 314.9h0M314.7 307.3h0M346.9 286.1h0M258.1 346.7h0M358.9 271.7h0M368.1 267.1h0M401.7 276.2h0M475.2 214.2h0M195.9 259.1h0M218.1 183.6h0M341.4 301.9h0M505.9 215h0M151.6 301.8h0"/><path d="M223.9 206.4h0M467.9 216.7h0M464 219.7h0M313.7 290.3h0M451.3 233.9h0M450.2 268.6h0M209.4 203.9h0M325.5 319.5h0M408 272.9h0M421.6 249.5h0M275 323.9h0M350.1 294.5h0M278.1 307h0M151.1 340.6h0M438 261h0M257.1 330.5h0M109.4 412.5h0M140.2 359.2h0M316.7 314.8h0M330 290h0M305.5 305.7h0M411.9 274.3h0M471.6 239.3h0M363.7 280.2h0M385.6 277.5h0M114.1 403.4h0M399.7 263.1h0M244.3 347.2h0M134.8 331.6h0M333.8 292.4h0M278.7 325.5h0M245.1 358.5h0M265.2 336.4h0M364.4 305.3h0M190.8 272.8h0M183.1 243.4h0M157.1 334.1h0M247.8 330.7h0M248.1 343.6h0M327 284.4h0M410.7 244h0M300.7 302.8h0M365.2 292.3h0M356.8 283.3h0M214.2 222.1h0M506.6 218.1h0M381.6 289.4h0M356.9 275.9h0M213.3 205.8h0M512.6 236.3h0M123.6 383.2h0M177.2 289.5h0M504.6 228.1h0M141.8 352.7h0M375.7 281.7h0M412.3 282.9h0M234.2 193.5h0M425.1 250.8h0M338.1 310.9h0M234.6 156.8h0M475.4 255.2h0M441.1 255.5h0M261.6 330.1h0M514 194.7h0M268.9 332.9h0M304.9 323.2h0M444.7 261.1h0M266.5 333.5h0M379.2 267.4h0M372 271.6h0M256.4 342.4h0M516.7 236.7h0M108.7 399.3h0M324.9 297.4h0M424.5 278.9h0M264.3 308.9h0M326.7 319.4h0M416 246.3h0M417.6 276h0M334.4 307.4h0M344.3 306.9h0M399.1 248h0M446.1 232.5h0M202.7 246h0M296.7 322h0M515.2 204.6h0M479.7 251.6h0M287.2 330.7h0M476.8 214.2h0M514.3 197h0M195.1 266.1h0M213.2 231.8h0M295.5 309.4h0M261.9 319.8h0M161.7 317.7h0M168.8 277.7h0M272.9 332.8h0M222.4 184.6h0M441.1 271.8h0M472.7 239h0"/><path d="M235.5 170.2h0M427.3 278.9h0M322 319.2h0M173.5 265.6h0M139.1 364.7h0M522.9 217.5h0M476.8 224h0M424 277.6h0M308.8 294.4h0M339.1 301.5h0M164.4 295.7h0M366.5 271.9h0M218.2 185.2h0M317.9 317.8h0M459.5 229.3h0M234.1 181.3h0M119.6 366.9h0M484.1 227.3h0M482.5 243.7h0M458.4 224.8h0M345.8 312.5h0M315.4 295h0M413.3 276.8h0M200 224.3h0M169.7 286.7h0M148.7 319.9h0M222.3 188.1h0M310 331.8h0M478.2 253.8h0M183.2 273.1h0M525.4 221h0M191.1 232.9h0M153.8 302.6h0M409 252.4h0M206.4 203.2h0M200.6 250.1h0M449.9 256.6h0M490.4 248.8h0M435.8 254.7h0M266.9 311h0M489.2 231.7h0M497.1 246.5h0M132.7 349.5h0M451.5 264.2h0M489.2 241.5h0M144.7 354.7h0M208.5 212.3h0M128.4 373h0M217.7 222.5h0M383.4 290h0M360.7 280h0M467.8 235h0M177.2 268.7h0M295.9 305.1h0M278.7 332.4h0M108.4 379.8h0M311.2 326.3h0M263.9 329.9h0M223.4 213.2h0M121.7 362.7h0M440.7 252.9h0M301.3 320.3h0M308.8 297.1h0M112.5 395.5h0M365.9 270.9h0M169 267.5h0M327.9 289.4h0M391.4 266.9h0M236.2 152.2h0M301 319.3h0M188.6 245.1h0M311.6 296.1h0M274.8 333.9h0M153.8 320.3h0M502.5 223.7h0M514.4 194.8h0M268.3 325.8h0M186.6 236h0M404.3 287.9h0M430.1 264h0M143.4 327.5h0M322.3 288h0M510.2 219.4h0M437.5 259.1h0M436.9 265.8h0M516.6 207.1h0M169 310.4h0M188.5 249.3h0M164.1 286.6h0M252.2 324h0M124.9 368.7h0M247.8 322.2h0M164.8 278.5h0M183.8 270.6h0M247.6 324.9h0M313.9 309.9h0M410.6 278.8h0M198.3 237.9h0M128.2 383h0M378.6 288h0"/><path d="M511.7 212.9h0M272.7 337h0M171.8 273.1h0M495.7 208.5h0M124.7 375.5h0M299.3 310h0M262 312.7h0M118.1 364.1h0M352.7 297.6h0M165.6 290.1h0M460 231.4h0M205.1 246.7h0M492.9 246.7h0M517.6 237.2h0M476.5 215.1h0M283.5 332.9h0M130.9 374.8h0M249.8 343.6h0M159.9 286.5h0M148.7 339.8h0M307.1 317h0M316.3 302.7h0M158 289.8h0M296.8 321.9h0M421.6 253.5h0M341.2 283.6h0M444.5 262.6h0M431.2 275.2h0M143.8 347.7h0M405.5 286.5h0M455.8 239.5h0M339.5 288.9h0M176.2 300.3h0M113.8 374.7h0M290.4 296.2h0M300.5 327.6h0M272.7 303.2h0M252.2 340.9h0M181.9 257.6h0M300 316h0M259.1 353.5h0M291.2 328.4h0M362.7 274.2h0M179.9 280.9h0M434.6 258.8h0M319.3 283.7h0M339.7 303.7h0M334.3 292.6h0M367.5 300.9h0M390.1 291.2h0M248.7 323.2h0M257.1 338h0M299.4 332.5h0M348.3 269.3h0M142.6 358.6h0M381.1 282.7h0M256.8 317.7h0M394.1 286.5h0M213.3 228.5h0M338.4 305.1h0M215 229.8h0M277.5 328.9h0M120.9 393.9h0M266.9 306.2h0M319.5 283.4h0M117.4 398.3h0M287.9 316.9h0M236.6 178.9h0M381.2 296.1h0M132.2 341.3h0M147.1 321.7h0M323.8 310.5h0M329.1 303.7h0M522.8 193h0M118.7 401.5h0M113.3 377.5h0M498.2 240.4h0M154.4 304.1h0M284 314.3h0M301 319.3h0M298.8 294.5h0M131.3 346.7h0M477.6 226.7h0M524 191.5h0M329.3 283.8h0M470.8 216.3h0M283.5 301.5h0M244.6 333.4h0M297.1 316.4h0M521.2 234.8h0M210.6 203.8h0M324.9 282.6h0M368.1 260.9h0M367.7 264.3h0M474.9 227h0M520.2 232.3h0M453.3 236.6h0M456.8 253.1h0M374.7 286.4h0M192.3 229.3h0"/><path d="M481.6 229.3h0M424.4 236.9h0M374.6 263.1h0M517.8 195.2h0M347.9 307.3h0M138.9 345.3h0M331.5 322.2h0M390.4 278.1h0M310.3 314.7h0M174.8 258.5h0M381.6 291.4h0M287 341.7h0M200.2 223.9h0M427.8 238.3h0M194.1 223.5h0M495.5 214.1h0M144.7 315.3h0M392.2 265.7h0M152.2 339.2h0M455 253.4h0M437.6 274.1h0M230 188.6h0M219.6 188.3h0M465.9 218.6h0M137.4 347.4h0M317.8 302.5h0M381.4 295.5h0M304.8 298.6h0M517.5 217.9h0M131.8 373.5h0M207.9 233.7h0M403.9 272h0M328.3 305.6h0M241.9 160.2h0M399.9 269.6h0M114.4 379.5h0M411.6 251.5h0M275.7 343.9h0M154.4 311.9h0M366.5 269.5h0M514.1 212.8h0M482.6 241.7h0M238.2 156.8h0M382 277h0M349.6 274h0M195.9 265.3h0M525.5 220.8h0M313.3 289.9h0M522.3 191.5h0M456.2 248.6h0M404.8 263.6h0M391.3 274.3h0M392.5 273.9h0M366.1 282.7h0M193.3 262.8h0M454.7 244.6h0M265.6 323.3h0M137.7 332.1h0M223.5 188.6h0M469.7 239.7h0M502 238h0M374 271.3h0M326 321.2h0M292.5 304.8h0M316.5 317.5h0M373.3 282.2h0M338.8 305.5h0M325.2 316.2h0M509.3 227.5h0M504.3 223.7h0M302.3 333h0M159.6 310.8h0M428.8 245.1h0M319.7 283.7h0M280.8 324.7h0M412.6 284.2h0M189.1 231.2h0M382.4 269.4h0M300.3 329.6h0M118.7 371h0M164 281.3h0M428.1 264.2h0M427.3 248.9h0M261.2 353.3h0M496.5 215.5h0M445.2 231.6h0M154.7 334.6h0M520.1 204.4h0M497.8 209.1h0M465.6 219.1h0M348.1 309.1h0M454.1 264.2h0M220 185.9h0M317.8 301.7h0M242.4 146.5h0M217.8 221.9h0M384.8 268.3h0M362.1 268.7h0M338.5 286.6h0M485.7 243.9h0"/><path d="M315.7 289.3h0M232.3 170.6h0M348.6 296.5h0M378.9 279.2h0M494.8 240.8h0M237.6 158h0M232.8 168.8h0M113.3 376.9h0M502.3 239.2h0M128.6 376h0M487.9 237.3h0M287.4 301.9h0M388.4 279.4h0M398.7 258.1h0M224.2 202.8h0M363.2 292.8h0M146 335.9h0M144.2 344.5h0M221.1 192.7h0M456.1 236.2h0M202.2 227.6h0M323.8 325.4h0M139.7 355.9h0M299 321.7h0M480 232.6h0M327.8 297.8h0M276.6 329.6h0M443.5 236.3h0M263.2 349.9h0M186.5 281h0M389.8 285.9h0M204 223.8h0M290.6 325.8h0M430.1 246.9h0M299.4 324.1h0M200.1 218.7h0M422 251h0M233.2 175.3h0M336.2 285.7h0M438.9 269.9h0M439.6 242.6h0M472.9 228.2h0M132.7 332.6h0M166.8 294.2h0M158.4 290.9h0M162.2 282.3h0M383 254h0M221.2 178.4h0M219.4 210.7h0M339.4 294.7h0M290.2 339.8h0M501.4 215.2h0M398.6 280.3h0M419.3 275.5h0M216.5 202.7h0M479.6 227.5h0M121.5 366h0M450.7 247.6h0M294.8 296.7h0M316.4 286.8h0M130.4 347.3h0M362.8 303.2h0M398.1 265.2h0M395.9 273.8h0M355.7 266.5h0M478.4 218.7h0M147.9 313.3h0M148.2 307.5h0M357.4 289.8h0M300.6 316.6h0M287.2 336.2h0M270 327.8h0M339 317.3h0M215.4 221.4h0M158 323.3h0M444.2 262.2h0M209.9 223.7h0M315.5 327.3h0M136.3 347.1h0M185.5 258h0M387.8 296.4h0M407.4 269.4h0M496.1 232.1h0M397.4 260.8h0M199.1 230.2h0M460.1 250.4h0M143.3 339.3h0M404.9 257.8h0M298.4 320.1h0M459.4 238h0M191.7 248.9h0M110.6 376.1h0M168.3 287.9h0M219.1 185.8h0M474.8 218h0M254.7 315.8h0M329.4 293.1h0M427.8 235.2h0M201.9 226.4h0M108.6 408.2h0"/><path d="M211.9 220.5h0M134.3 353.6h0M111.1 413.5h0M502 210.2h0M464 232.6h0M322.5 323.1h0M154.7 313.5h0M407.5 286.5h0M129.9 358.7h0M404.5 264.1h0M232.4 173h0M454.3 226.9h0M378.2 281.7h0M465.3 224.5h0M146.6 337.6h0M144.3 333.3h0M220.5 196.9h0M221.1 216.3h0M298.8 329.2h0M415 248h0M350.1 287.1h0M462.1 246.8h0M249.5 347.7h0M324.3 313.5h0M360.8 305.5h0M245.2 347.7h0M303 315.2h0M459.2 251.3h0M495.4 229.3h0M483.3 243.6h0M483.1 222.7h0M209.6 238.9h0M336.1 275.6h0M522.7 209.6h0M273.4 303.7h0M282.2 342.7h0M234.9 162.1h0M160.4 291.6h0M364.5 296.9h0M320.5 323h0M392.8 264.4h0M495.1 217.2h0M442.3 232.9h0M216 188.6h0M452.5 231.1h0M396 254.2h0M365.9 262h0M474.7 251h0M232.8 188.9h0M330.8 297.4h0M197 234.3h0M468.5 223.7h0M416.4 283.6h0M323.5 315.8h0M161.5 282.6h0M259.3 335.4h0M150.3 308.5h0M279.6 329.1h0M239.8 150.4h0M170.2 265h0M312.9 300.3h0M258.8 354h0M305.9 304.5h0M507.9 227.1h0M486.9 215.1h0M156.8 334h0M254.1 343h0M484.4 239h0M295.4 322.5h0M182.2 289.7h0M342 296.4h0M457.1 240.3h0M346.9 310.5h0M449 252.6h0M494.5 208.8h0M395.4 277.8h0M162.4 290.3h0M428.6 268.4h0M400 277.9h0M173.8 268.3h0M227.1 202.1h0M207.1 212h0M303.9 302.1h0M388.2 256.4h0M238.1 183.2h0M254.5 333.2h0M278.3 339.6h0M424.6 240.7h0M420.7 265h0M333.5 280.3h0M483.3 251.5h0M171.2 297.8h0M382.4 298.8h0M134 346.4h0M308.7 316h0M147.3 312h0M362.4 275.9h0M170.7 282.6h0M121.3 354.4h0M260.8 343.5h0"/><path d="M403.5 277.2h0M163.9 317h0M334.4 294.2h0M378.3 268.3h0M281 343.6h0M263.3 327h0M344.7 298.9h0M245.9 325.8h0M479.9 244.3h0M189.1 243.1h0M309.2 312.3h0M213 200.9h0M197.4 262.2h0M473.3 243.7h0M263.7 313.3h0M385.6 253.1h0M460 256.3h0M281 344.9h0M118.3 358.9h0M214.3 217.6h0M268 323.7h0M141 332.6h0M301.7 317.6h0M410.9 271.4h0M480.8 223.5h0M501 230.9h0M446.3 264.7h0M220.4 209.5h0M210.9 204.1h0M446.7 234.6h0M370.9 289.9h0M283.4 298.6h0M417.2 261h0M166.1 311.4h0M497.9 235h0M174.3 292.2h0M195.3 248.8h0M232.1 194.1h0M400.6 264.1h0M205.3 225.6h0M320.5 321.9h0M341.2 310.7h0M463.2 245.5h0M456.7 237.5h0M410.2 277.5h0M207.2 218h0M362 275.5h0M247.1 355.3h0M495.1 238.9h0M412.6 279h0M113 406.6h0M519.5 205h0M112.1 399.2h0M309.5 325.3h0M477.8 239.8h0M361.2 297h0M385.5 270.3h0M280.7 338.5h0M162.8 312.4h0M482 243.6h0M215 232.5h0M138.5 328h0M406.4 271.6h0M132.7 369.5h0M407.4 283.9h0M489.5 206.8h0M272 333.5h0M359.7 304h0M299 310.2h0M371 273.9h0M127.6 360.4h0M503.1 206.8h0M401.3 247.8h0M257 347.1h0M182.9 248.4h0M459.7 256.7h0M215.8 228.1h0M215.9 199h0M453.7 230h0M191.9 256.1h0M203.4 247h0M505.6 216.6h0M425.5 235.4h0M128.1 364.2h0M238.9 176h0M458.3 248.9h0M404.6 249.8h0M434.9 238.2h0M231.5 170.5h0M170.1 304.6h0M370.1 278.1h0M132.8 337.7h0M222.4 195.2h0M370.1 272.7h0M474.7 237.4h0M508.5 201.9h0M510.2 229.9h0M262 338.1h0M356.2 306.4h0M317.4 299h0"/><path d="M163.2 277h0M341.8 285.4h0M392.9 256.4h0M399.4 264.3h0M272.7 345.9h0M287.9 338.4h0M344.1 311.1h0M441.1 244.5h0M178.8 273.9h0M366.4 263.6h0M420.7 273.8h0M406.7 270.6h0M287 309.3h0M218.2 184.7h0M200.9 219.4h0M283.9 306.6h0M166.9 291.9h0M353.5 288.1h0M519.3 210.1h0M453.8 232.7h0M310.6 326.2h0M347.1 297.5h0M238.6 173h0M498.9 216.1h0M300.9 304.8h0M357.3 269.8h0M359.4 305.7h0M232.9 170.3h0M382.2 256.6h0M522.2 202.8h0M185.9 238.5h0M119.5 391.3h0M118.2 376.7h0M521.8 203.7h0M488.9 245.8h0M292.2 294.7h0M497.9 239.8h0M524.4 211.2h0M381.4 281.6h0M151 328.5h0M424.2 266.4h0M337.4 306.2h0M257.9 349.3h0M411.8 242.7h0M126.7 358.4h0M172.9 286.5h0M268.9 312h0M111.1 394.4h0M514.4 238h0M498.4 214.3h0M355.3 266.4h0M254.5 339.6h0M404.9 278.5h0M507.7 211h0M194.7 250.4h0M128.1 350.4h0M276.2 331.2h0M259.4 341h0M179.5 255.1h0M366.7 275.5h0M218.8 185.3h0M445.6 243.8h0M481.9 253.3h0M224.4 187.1h0M233.1 191.3h0M325.3 283.1h0M245.7 333.1h0M211 209.7h0M289.3 337.6h0M504.1 217h0M475.9 244.6h0M497.1 216.6h0M262.8 324.6h0M194.2 233h0M235.3 194h0M429.9 246.7h0M243.5 361.4h0M361.1 286.6h0M248.8 357.5h0M348.3 302.5h0M317.9 290.7h0M154.5 313.3h0M464.3 243.4h0M453.1 234.6h0M289.5 335.4h0M376.5 283.2h0M392.2 288.8h0M390.4 292.3h0M360.8 274.6h0M138.1 326.2h0M313.4 327h0M268.3 307.2h0M265.5 316h0M162.1 296.1h0M461.8 235.1h0M150.5 305.9h0M297.6 329h0M151 336.4h0M227.1 196.5h0M469.7 232h0"/><path d="M163.1 291.9h0M507.3 212.6h0M221.6 215.4h0M443.1 235.8h0M421.4 239.7h0M468 222.1h0M491.6 217.2h0M306.6 325.7h0M506 228.3h0M333.4 296.2h0M226.2 206.9h0M518.4 198.5h0M289.4 336.1h0M288.1 312.9h0M435.9 237.1h0M347.2 285.9h0M494.8 246.1h0M439.5 266h0M320.2 309.1h0M426.3 255.8h0M238.4 149.8h0M176.4 290.8h0M358.3 290.5h0M255.3 354.1h0M369.2 279.4h0M519.1 204.1h0M284.1 314.9h0M290.1 301.7h0M114.1 373.2h0M405.9 281.5h0M211.5 227.8h0M246 348.4h0M492 213.2h0M328.2 281.7h0M394.2 287.3h0M347.6 300h0M364 276.4h0M168.6 302.3h0M486.1 220h0M213.2 208.5h0M232 165.3h0M127.8 357h0M382.7 259.8h0M440.4 254.7h0M301 319.2h0M194.2 225.8h0M373.4 292.2h0M144.7 339.5h0M263.9 319.1h0M127.8 373.6h0M490.8 233.5h0M129.5 358.3h0M336.8 305.7h0M152.3 315.9h0M412.8 271h0M116.9 383.6h0M215 188.6h0M341.7 296.1h0M125.1 344.7h0M212.9 196.3h0M430.1 240.7h0M294.6 337.8h0M236 160.6h0M325.6 280.8h0M220.8 181.2h0M302 333.1h0M421.1 245.3h0M481.2 219.9h0M263.9 311.9h0M393.3 277.5h0M241 183.6h0M422.1 268.1h0M458.2 252.6h0M471.2 232.4h0M126.5 356.1h0M514.1 223.3h0M257.7 323.3h0M411.2 251.5h0M123.6 389.4h0M373.9 297.7h0M525.1 218.3h0M365 261.1h0M401.6 259.1h0M231.1 168h0M410.7 249.9h0M127 370.7h0M378.6 271.2h0M247.3 359.1h0M386.4 277.9h0M141 341.7h0M122.2 375.5h0M316.5 300.2h0M179.5 269.7h0M409.5 251.2h0M516.2 204.9h0M290.2 323.6h0M491.2 233.2h0M437.7 273.4h0M369.6 277.4h0M511 210.3h0"/><path d="M141.2 327.5h0M171.6 271h0M503.4 204.8h0M137.6 327.8h0M414.3 278.5h0M385.1 296.6h0M391.6 291.8h0M405.1 284.2h0M521.7 199.1h0M406.7 287.1h0M516.9 232h0M128.6 354.1h0M515.7 231.3h0M186.8 255h0M282.9 315.7h0M292.5 339.5h0M218.1 214h0M122.3 393.6h0M414 243h0M218.3 181h0M218.7 189.4h0M378.2 283.5h0M496.8 247.4h0M201.6 246.5h0M371.3 289.2h0M485 232.4h0M455.2 248.1h0M293.9 326.1h0M283.2 309.8h0M365.7 261.6h0M334.1 276.8h0M317.8 291.5h0M129.3 349.4h0M258 316.5h0M426.5 242.4h0M409.2 266h0M126.7 380.6h0M297.1 298.2h0M245.3 337.4h0M262.8 317.4h0M368.4 284.5h0M200.2 239.1h0M331.5 277.4h0M431.7 275.3h0M477.2 229h0M433.1 244.3h0M193.9 223.3h0M305.5 299.3h0M137.3 323.5h0M174.9 264.2h0M260.4 308.7h0M514.9 207.4h0M193.4 264.9h0M144.1 328h0M225.5 181.7h0M228.5 203.7h0M222.7 196.5h0M331.4 309.9h0M437.2 233.4h0M384.2 279h0M181.7 262.4h0M240.9 167.9h0M200.2 249.4h0M372.7 280.5h0M107.8 410.6h0M165.1 301.2h0M169.2 310.9h0M417.7 242.1h0M290.7 339.3h0M507.1 208.4h0M140.7 323.9h0M247.6 334.7h0M295.3 323.2h0M364.1 270.2h0M245.2 359.6h0M360.8 307.9h0M291.6 329.8h0M227.5 165.4h0M500.6 232.9h0M401.2 246.5h0M216.3 199.1h0M173.5 291.2h0M440.7 237.4h0M290.9 317.8h0M322.3 318.4h0M222 190.6h0M364 261.7h0M424.5 271h0M267 319.7h0M458.2 228.6h0M291.2 311.8h0M356.7 275h0M515.5 235.7h0M352 288.3h0M273.6 346.6h0M448 237.1h0M358 301.4h0M421.9 269.1h0M216.4 209.6h0M134.9 341.9h0"/><path d="M288 308.2h0M125.3 343.7h0M131.7 353.8h0M261.5 322.1h0M218.1 197.5h0M319.6 295.2h0M455 247.1h0M278.9 345.8h0M437.5 239.9h0M209 214.4h0M165.2 318.1h0M513.1 221.8h0M370.5 292.5h0M139.8 323.6h0M229.7 168.9h0M509 208.1h0M519.8 216.4h0M254.3 337.2h0M367.8 303.8h0M156.6 314.4h0M355.2 286.9h0M374.8 275.9h0M451.7 267.1h0M467.6 248.3h0M483.3 230.9h0M193.5 266.2h0M286.7 338.8h0M408.3 285.3h0M109.9 377h0M473.5 224.9h0M440.2 268.2h0M307.2 323.1h0M206.4 242.9h0M435.4 262.8h0M416.4 278.3h0M250.5 314.7h0M239.6 168.2h0M326.8 317.2h0M318.8 327.4h0M380.9 279h0M347.9 277.9h0M402.5 248.2h0M209.8 216.9h0M492.9 211.1h0M229.1 171.9h0M337.9 276.1h0M455.4 240.8h0M168.7 291h0M267.5 314.5h0M402.2 254.3h0M148.2 346.6h0M391.8 279.1h0M185.8 269h0M265.5 322.6h0M206.5 202.1h0M155 317.9h0M327.6 285.7h0M449 240.6h0M342.8 309.7h0M451.5 227h0M291 297.8h0M392.5 260.1h0M524 229.5h0M511.9 225h0M321.1 281.7h0M446.6 238.4h0M276.7 340.7h0M524.1 200.5h0M362.9 275.1h0M428.6 234.9h0M300.6 300.2h0M410 260.7h0M145.1 318.8h0M444.9 260.2h0M372 259.3h0M467.8 222.9h0M247 335h0M287.4 308h0M277.6 321.3h0M471.7 258.4h0M206.9 233.2h0M437.1 272.2h0M437.6 244.9h0M373.8 271.1h0M361.3 284.9h0M148.4 319.1h0M516.4 203.7h0M140.2 340.5h0M382.2 254.6h0M305.2 326.5h0M388 275.6h0M131.5 371.8h0M114.4 408.9h0M307.9 331.8h0M147.3 318.4h0M222 197.1h0M177 282.3h0M509.7 236.8h0M304.2 302.1h0M141.4 323.7h0"/><path d="M344 310.7h0M181.6 280.5h0M288.4 311h0M398 265.8h0M278.6 322.2h0M255.9 319.5h0M171.4 293h0M133.7 333.3h0M476.7 214.4h0M345 302.3h0M303.4 321.5h0M324 286.5h0M121.3 390.5h0M175.4 262h0M269.9 339.1h0M187.4 271.6h0M278.8 325.9h0M341.3 288h0M256.3 312.1h0M456.2 260.4h0M413.9 253.6h0M334.7 302.3h0M433.2 265.1h0M272.4 316.7h0M214.8 208.7h0M181.3 247.4h0M139.5 341.9h0M288 336.5h0M439.7 271.1h0M190 274.5h0M339 292.8h0M383.2 267.2h0M347.6 303.1h0M389.7 253.3h0M319.7 300.3h0M325.8 313.9h0M333.7 284h0M296.2 313.3h0M337.7 282.8h0M317.4 303.7h0M306.9 303.5h0M498.7 238.4h0M271.3 320.8h0M163 298.5h0M478.7 243.4h0M323.7 312.2h0M400.7 259.5h0M255 354.8h0M337.6 288.6h0M448.5 247h0M233.8 184.9h0M428.6 240h0M474.5 240.4h0M429.8 268.9h0M236.1 191.7h0M482 222.9h0M470.1 243.2h0M274.5 340.4h0M163.7 276.8h0M329.4 287.9h0M177.8 261.9h0M108.1 392.2h0M148.1 331.4h0M212.4 227.1h0M480.7 240.5h0M422.7 276.9h0M388.9 255.1h0M362.1 299.3h0M260.1 330h0M124.6 374.5h0M342.1 285.6h0M353.2 273h0M433.5 241h0M216.4 223.6h0M380 286.9h0M427.1 268.2h0M369.9 276.9h0M323.4 315.3h0M488.9 215h0M272.7 313.1h0M167.8 310.1h0M524.9 203.8h0M242.3 179.2h0M352.6 302.3h0M240.8 150.2h0M299.8 302.8h0M198.7 215.8h0M167.2 292.6h0M389.2 289.7h0M345.8 306.9h0M161.3 325.1h0M213.8 202.8h0M215.9 229.6h0M468.9 259.2h0M499.5 221h0M341.5 276.2h0M399.7 261h0M390.4 281h0M136.4 326.9h0M157.9 326.3h0"/><path d="M353 308.8h0M448 225.7h0M119.2 389.2h0M422.6 269.4h0M217.5 182.1h0M289.5 308.4h0M321.7 305.1h0M162.9 290.2h0M249.5 345.3h0M140.3 350.2h0M277 342.9h0M129.6 367.3h0M117.8 362.6h0M326.1 324.4h0M138.7 362.7h0M367.3 304.3h0M213.7 190h0M200.2 219.9h0M207.2 244.8h0M421.7 258.2h0M522.8 209.4h0M452.9 223.5h0M346.3 314.9h0M325 292.8h0M455.8 257.6h0M189.2 239.5h0M207.8 204.1h0M419.5 266.6h0M371.6 289.7h0M496.5 230.5h0M144.9 341.5h0M348.6 272.7h0M378.7 291.3h0M191.3 256.1h0M285.9 334.1h0M302.9 323.9h0M119.6 360.8h0M144.9 333h0M349.4 303h0M381.3 287.1h0M409.8 277.1h0M457.2 259.8h0M253.9 353.9h0M195.8 227.4h0M368 295.7h0M260.9 320.9h0M435.1 237.4h0M510.5 231.2h0M209.3 214.4h0M182.6 248.1h0M336.4 294.8h0M117.5 363.9h0M343.1 288.7h0M340.5 310.8h0M132.7 352.6h0M368.6 278.7h0M176.2 288.7h0M507.4 226.7h0M357 290.9h0M153.4 296.2h0M296.1 318.6h0M312.3 306.7h0M264.2 329.2h0M346.5 310.9h0M318.5 312.1h0M148 318.8h0M142.6 346.9h0M483.6 243.2h0M321.5 282.2h0M501.4 216h0M348 280.7h0M232.5 161.8h0M131.5 357.4h0M171 281.7h0M507.3 210.7h0M128.6 350h0M122.7 368.1h0M151.1 301.3h0M207.3 228.6h0M501 233h0M503.4 234.7h0M416.4 270.8h0M123.9 359.5h0M202.2 232h0M269.2 345.7h0M278.5 309.7h0M143.8 328.5h0M162.7 283.3h0M505.5 222.2h0M493.4 217.3h0M263.2 308.3h0M244.9 317.4h0M501.8 204.8h0M399.2 279.1h0M189.8 261.5h0M371.6 258h0M340.4 279.4h0M442.8 251.2h0M445.6 268.8h0M246.5 323.3h0"/><path d="M401.5 279.8h0M148.5 317.1h0M486.6 245.1h0M250.3 345.9h0M198.2 230h0M449 225.7h0M175.5 289.3h0M140.9 361.8h0M383.3 271.2h0M287.3 340.8h0M437.9 256.2h0M503.9 238.2h0M138.2 341.8h0M408.6 273.1h0M367.9 276.5h0M204.6 209.5h0M353.8 305.5h0M501.7 225.4h0M298.9 322.5h0M160 303h0M457.8 252.9h0M493.9 237.4h0M470.9 242.7h0M248.7 337.5h0M193.2 246.3h0M289.7 303.3h0M517.6 207.1h0M224.3 205.9h0M413.4 264.3h0M352.2 279.9h0M474.8 254h0M411.8 257.8h0M117.6 387.3h0M301.6 311.8h0M238.7 182.9h0M334.3 318.9h0M471.9 243.6h0M234.6 165.9h0M211.9 199.7h0M342.4 301.3h0M381 283.1h0M447.8 237.5h0M436.7 249.2h0M244.9 325h0M473.7 213.7h0M471.4 250.6h0M428.4 266.3h0M205.6 241.9h0M439.9 264.3h0M454.7 225.2h0M364.8 291.4h0M159.4 323.5h0M372.9 296.8h0M450.4 233.4h0M493.4 210.4h0M328.9 291.9h0M137 362.3h0M226.1 179.8h0M133.6 356.1h0M474.7 229.5h0M279.5 308.8h0M525 206.1h0M236.5 180.9h0M342.4 309.3h0M489.4 226.4h0M228.4 166.8h0M395.2 257.7h0M507.4 219.9h0M190.5 256.1h0M334.1 297.2h0M351.2 276.1h0M297.4 324h0M367.2 280.3h0M150.2 302h0M513.8 219.4h0M259.6 344.4h0M126 342h0M231.7 175.1h0M467 244.5h0M395.3 253.7h0M498.1 206h0M479 212.3h0M203.2 238.7h0M512.1 203.9h0M486.3 229h0M501.9 209.5h0M507.1 204.1h0M415.8 283.7h0M176.7 297.3h0M279.1 317.4h0M271.9 325.6h0M194.5 245.9h0M433.5 267.8h0M238.4 183.8h0M200.6 230.3h0M475.1 231.3h0M119.1 382.1h0M485.9 224h0M387.3 253.3h0M274 304.3h0"/><path d="M405.3 247.5h0M322.2 288.3h0M358.4 286.5h0M222.3 207.1h0M482.5 229.6h0M272 340.3h0M110.8 407.4h0M259.3 335.4h0M132.7 376.2h0M124.6 360.6h0M332.5 310.8h0M466.8 221h0M167.2 272h0M374.9 280.5h0M127.6 371h0M441.1 271h0M448.7 250.1h0M344.7 288.8h0M403.6 260.9h0M301.4 294.4h0M247 344.8h0M153.7 316.4h0M113.9 364.4h0M215.5 196.6h0M264.6 332.7h0M117.8 366.1h0M295.1 315.3h0M485.8 252.4h0M464.3 241.8h0M230.9 159.7h0M110.1 408.9h0M480.8 219.3h0M206.7 245.2h0M282.3 325.9h0M255.2 341.3h0M458.8 242.9h0M178.9 258h0M195.2 226.3h0M134.7 337.6h0M149.9 346.8h0M225.3 212h0M265.3 346.9h0M127.7 355h0M178.3 277.1h0M353.5 282.7h0M490.8 225.6h0M331.6 315.4h0M144.9 355.2h0M425.4 249h0M296.3 328.9h0M503.3 203.2h0M362.7 303h0M311.1 296.4h0M440.7 268.1h0M164 320.3h0M355 282.3h0M155.6 299.7h0M179.5 275.9h0M475.6 238.8h0M135.2 359h0M457.2 244.8h0M319.4 286.5h0M382.3 254h0M309.3 288h0M342.6 283.6h0M126.3 381.5h0M379.1 290.4h0M208 219h0M278.9 335.8h0M478.5 243.7h0M499.4 235.3h0M302.3 292.9h0M278.2 332.2h0M221.9 188.2h0M193.1 252.8h0M389.8 260.3h0M286 342.5h0M361.3 294h0M369.5 296.5h0M492.2 213.7h0M284.6 311.1h0M162.7 294.5h0M278.6 332.3h0M464.3 255.5h0M440.4 259.5h0M303.7 298.1h0M433.6 259.8h0M403.9 282.8h0M177 285.4h0M201.5 242.7h0M118.6 383.5h0M137.7 362.7h0M347.3 287.1h0M296.5 303.1h0M451 232.3h0M375.4 263.5h0M273.6 335.3h0M524.4 234.1h0M258.4 320.4h0M426 264.8h0"/><path d="M434.9 258.8h0M277.5 346.1h0M266.6 351.2h0M341.9 290.9h0M178.7 274.4h0M297.9 335.6h0M254.9 353.7h0M114.7 374.5h0M333.6 312.4h0M190.3 267.8h0M483.5 240.3h0M506.1 207.8h0M230.5 201.8h0M358.3 277.4h0M488.1 211.1h0M418.6 279.6h0M256.5 316.5h0M416.8 256.6h0M436.5 257.6h0M505.8 203.3h0M155.9 328.6h0M287 309.1h0M166 310.1h0M301 321h0M240.6 181.1h0M153.4 311.7h0M486.3 210.8h0M280.9 309.5h0M400.3 271.1h0M317.5 321.2h0M442.9 232.2h0M195.9 231.7h0M173.5 290.9h0M287 322.6h0M264.4 340.6h0M374.9 258.7h0M196.8 255.8h0M130.8 373h0M486.7 232.9h0M337.9 302.5h0M179 270.1h0M436.9 234.7h0M243.1 317h0M514.7 239.4h0M505.8 211.3h0M393.6 263.5h0M430.8 232.3h0M194.4 267.4h0M370.6 292.2h0M183.7 269.9h0M120.1 391.2h0M338.5 280.9h0M221.3 205h0M324.4 282.1h0M448.7 246.7h0M162.8 287h0M495.6 205.6h0M242.5 320.4h0M234.4 163.5h0M160.7 318.9h0M158.2 302.9h0M176.4 260.4h0M468.9 227.3h0M464.5 251.1h0M455.7 245.8h0M206.1 233.9h0M276.1 343.9h0M272.2 342.7h0M389.2 286h0M362.5 290.3h0M432.6 270.9h0M464 234h0M410.6 256.4h0M326.6 288.3h0M152.6 317.6h0M520.6 234.3h0M481.4 214.2h0M357.3 274.8h0M509.6 202.5h0M436.2 250.9h0M295.4 333.7h0M447.8 235.4h0M497.7 232.8h0M287.1 307.5h0M252.6 350.5h0M517.4 215.5h0M216.1 225.7h0M360.1 271h0M172.5 289.4h0M309.4 286.8h0M187.6 258.4h0M444 227.8h0M277.4 338.4h0M488.8 205.5h0M184.2 283.4h0M381.6 259.5h0M202.7 232.2h0M368.3 295h0M196.2 235.8h0M376.4 298.5h0"/><path d="M442.8 258.7h0M403.6 266.6h0M393.1 294.4h0M266.9 332.9h0M189.8 265.5h0M272.4 328.4h0M276.9 323.4h0M216.2 225.8h0M107.5 384.4h0M180.4 256.2h0M416.6 274.3h0M163 301.5h0M270.4 347.3h0M514.7 198.9h0M187 264.7h0M216.9 225.5h0M305.7 318.5h0M287.2 320h0M524 212.4h0M321.2 316h0M477.6 228.7h0M169.3 271.8h0M289.5 304.2h0M182.5 278.2h0M232.2 196.3h0M177.8 283.4h0M190.1 246.6h0M447.7 268.7h0M125 358.7h0M120.3 370.1h0M256.5 337.3h0M251.4 345.1h0M462.5 247.7h0M228 166.7h0M503.3 241.8h0M302 320.5h0M485.7 221.1h0M272.5 309.2h0M359.6 302.7h0M270.5 305.3h0M320 321.7h0M434.8 260h0M121 362.4h0M350.7 287.8h0M179.4 276.3h0M153.2 329.3h0M298.6 333.9h0M521.9 199.8h0M435.7 243.1h0M266.9 330.1h0M157.8 289.8h0M485 208h0M437.9 244.7h0M447.7 257.4h0M164.3 294.8h0M117.4 361.1h0M122.5 357.2h0M398.2 287.1h0M178.3 257.7h0M480.6 247.6h0M296.8 319h0M480.4 213.2h0M290.4 332.1h0M344.4 311.6h0M242.8 356.5h0M360.5 294.6h0M333.6 298.5h0M385.1 293.1h0M384 260.1h0M135.4 355.1h0M201.6 220.4h0M320.4 290h0M282.2 338.4h0M266.5 328.9h0M279.4 329.1h0M402.6 277h0M156.7 331.8h0M230.6 183.6h0M144.3 319.2h0M278.8 341.3h0M327.7 295.7h0M115.2 382.3h0M386.9 285.6h0M201.1 221h0M304.7 314.2h0M419.1 251.8h0M188.4 233.7h0M209.6 200.2h0M446.9 249.7h0M209 210.4h0M130.4 334.2h0M456.2 223.7h0M387.3 278.8h0M466.1 247.7h0M508.6 214.2h0M350.4 305.3h0M267.8 339.7h0M244 329.4h0M148.3 334.6h0M349.5 305.6h0"/><path d="M126.4 376h0M386.5 260.7h0M293 298.3h0M399.7 255.2h0M226.1 171.3h0M137.9 341.6h0M136.7 348.4h0M297.5 337h0M445.4 263.5h0M241.9 147.9h0M398.4 279.1h0M493.9 238.4h0M150.6 305.6h0M135.7 359.3h0M262.2 333.8h0M222.1 210.3h0M295.5 292.4h0M248.7 352.6h0M387.8 267.7h0M337.5 318.7h0M354.2 286.4h0M304.8 321.3h0M260.8 313.2h0M327.9 316.3h0M130.6 342.9h0M211 230h0M195.3 252.6h0M115.9 386.8h0M455.1 222.6h0M184.3 246.7h0M314.4 298.4h0M263.4 319.7h0M372.2 267.2h0M322.9 323.8h0M371.4 259h0M110.5 391.8h0M464.3 246.5h0M155.4 312.6h0M385.5 277.1h0M107.5 384.2h0M174 280.1h0M140.6 348.8h0M337.4 313.9h0M185.9 255.7h0M495.4 224.9h0M496.7 214.6h0M138.2 360.1h0M167.8 279.3h0M318.7 307.6h0M454.1 266.3h0M416.4 245.2h0M503.5 236.6h0M409.2 279.6h0M115.1 374.1h0M235.6 162.4h0M317.8 285.9h0M306.2 329.4h0M171.3 286.7h0M201 223.7h0M224.7 186.6h0M273.8 341.3h0M169.1 267.5h0M297.7 296.8h0M217.3 215.5h0M525.5 227.4h0M469.1 251.7h0M434.9 266.8h0M168.8 277.5h0M299.8 329h0M302.2 318.7h0M511.5 212.6h0M316.6 328.7h0M406.4 248.9h0M199.3 223.5h0M468.5 246.4h0M160.5 326.2h0M472.1 227.2h0M348.2 310.1h0M149.7 324.9h0M249.1 323.5h0M344 272.5h0M474.8 231.6h0M347.3 303.1h0M164.8 278.7h0M486 238.9h0M382.4 274.5h0M496.4 214.4h0M392.2 254.1h0M113.1 407h0M164.6 309.5h0M180.8 248.8h0M525.1 198h0M223.3 218.2h0M167.6 291h0M148.9 334.2h0M271 331.4h0M228.2 174.7h0M427.1 278.7h0M503.1 214.6h0M319.2 290h0"/><path d="M450.5 231.9h0M376.6 292h0M229.6 161h0M381.2 282.8h0M151.8 308h0M189.6 251.8h0M500.9 203.2h0M289.3 308.2h0M131.9 363.9h0M265.2 344.4h0M235.7 177.8h0M366.3 289.7h0M242.9 355.1h0M311.6 306.2h0M438.4 261.2h0M157.7 329.7h0M276.7 303.9h0M502.4 215.4h0M336.7 317.1h0M226.5 181.8h0M176.3 279.5h0M132.5 354.5h0M309.7 290.8h0M309.7 291.5h0M283.9 343.8h0M203.7 238.8h0M314.9 306.2h0M470.5 253h0M378.6 266.1h0M221.1 179.8h0M127 377.4h0M442.3 271.8h0M155.4 321.1h0M523 200.3h0M480.5 240.2h0M355.3 306.9h0M295.6 326.8h0M373.8 290.9h0M208.2 230.4h0M173.3 289.8h0M114 362.9h0M313.8 327.1h0M234.8 180.4h0M114.5 367.4h0M135.2 361.5h0M409.9 286h0M369.4 276.4h0M524.9 214.6h0M505.5 221.2h0M149.7 330h0M234.9 192.9h0M351.2 280.6h0M292.9 299.5h0M342.9 302.2h0M378.1 258.6h0M389.4 271.1h0M273.7 330.8h0M219.7 204.7h0M266.1 308.8h0M317.2 298.5h0M366.7 289.3h0M162.2 300.3h0M125.2 374.5h0M162.6 294.6h0M479.1 210.9h0M320.3 300.7h0M246.5 347.8h0M444.2 255.5h0M439.3 260h0M488.4 242.4h0M496.3 244.7h0M395.8 290.9h0M213.9 231h0M169.1 281.5h0M403.2 255.1h0M515.7 204.1h0M149 322.2h0M225.4 213.3h0M192.2 271.9h0M430.4 266.6h0M386.7 266.7h0M313.6 303.8h0M421.6 257h0M134.4 369.6h0M173.9 273.7h0M470.8 235.6h0M413.9 264.5h0M272.7 329.6h0M321.4 325.6h0M511.7 234h0M374.3 298.2h0M483.1 233.6h0M237.7 172.7h0M525.7 214.2h0M413.2 251.2h0M341.6 287.1h0M475.6 217.6h0M140.1 351.6h0M439.4 260.7h0M182.7 267.3h0"/><path d="M147.8 344.8h0M393.6 250.7h0M372.6 287.8h0M416.4 273.5h0M237.9 165.9h0M344.6 294.1h0M353.7 270.9h0M399.4 263.2h0M364.3 270.9h0M356.3 267.8h0M520.8 220.8h0M451.6 251.2h0M352.5 301.7h0M254.2 334h0M354.1 271.2h0M326.7 314.5h0M169 268.4h0M187.8 272.7h0M141.9 329.4h0M509.9 240.2h0M201.3 222.2h0M235.4 190.2h0M139.1 354.5h0M317.9 285.1h0M368.8 263.1h0M448.5 248.2h0M447.3 245.5h0M159.6 308.9h0M461 244.8h0M434.9 248.4h0M152.1 330.2h0M374.7 275.8h0M197.1 237h0M411 259.1h0M330.9 311.2h0M521.3 220h0M468.6 231h0M457.8 262.9h0M375 267.1h0M361.8 294.3h0M511.4 195.4h0M278.2 343.1h0M435.5 268.1h0M515.1 209.9h0M265.1 328.7h0M361.8 294.9h0M264.7 328.8h0M382 296h0M466.7 259.4h0M129.1 353.8h0M397 277.4h0M401.3 277.3h0M196 224.4h0M403.3 268.6h0M375.2 300h0M486.5 217.1h0M256.6 337.8h0M321.7 290.6h0M174.2 291.4h0M238.4 171.1h0M517.5 218h0M252.1 327.1h0M222.1 178h0M464.5 230.4h0M165.3 280.1h0M311.8 295.8h0M448.6 228.5h0M389.1 261.6h0M247.1 348.9h0M285.1 308.5h0M144.5 344h0M417.2 251.1h0M117.9 394.7h0M137.5 364.6h0M344.7 310.3h0M253.8 320.5h0M231.9 202.7h0M504.8 208h0M378.4 288.5h0M294.6 303.9h0M281.9 312.6h0M484.6 209.3h0M429.4 262.9h0M307.1 297.6h0M278.6 320.6h0M487.5 241.8h0M454.6 252.8h0M434.9 266.9h0M234.8 191.5h0M145.6 314.6h0M189.7 247.7h0M244.7 340.9h0M222.3 207.3h0M147.8 331.1h0M479.7 209.7h0M249.1 343.7h0M175.6 296.2h0M428.2 273.9h0M441.9 227.4h0M172 304.3h0"/><path d="M524.3 234.1h0M168.2 303.8h0M107.5 408.2h0M321.3 305h0M295.7 307.4h0M254.4 353.8h0M130.1 377.8h0M284.3 297.9h0M337.7 309.3h0M353.3 289h0M446.5 224.4h0M403.2 271.8h0M184.5 280.3h0M173.9 272.7h0M475.9 233.4h0M294.1 317.4h0M487.5 233.1h0M146.7 351.5h0M117.6 390.8h0M352 287.5h0M112.6 399.4h0M129.4 361h0M181.5 248.4h0M251.2 330.6h0M249.9 316.2h0M297.5 299.2h0M197.9 236.2h0M387.3 259.5h0M523 203.4h0M310.3 325.8h0M452.3 235.3h0M403.1 283.6h0M264.6 323.2h0M134.1 359.4h0M270.2 314.8h0M124.5 380.5h0M286.5 323.1h0M447.3 248.6h0M177.1 281.5h0M232.2 172.3h0M244.7 322.9h0M437.6 235.9h0M253.3 316h0M147.4 325.8h0M423.2 256.3h0M483.8 224.7h0M197 226.1h0M385.3 254.8h0M218.7 191.1h0M196 223h0M416.5 259.4h0M396.2 271h0M470.6 226.1h0M345.7 311.9h0M386 295.4h0M269.8 314.9h0M356.1 267.1h0M368.9 302.3h0M335.1 307.5h0M333.1 319.8h0M305.5 306.6h0M111.2 372.1h0M202.1 223.8h0M358.1 273.3h0M405.2 282h0M212.2 199.8h0M294.5 337.9h0M302.9 325.7h0M185.7 243.5h0M374.5 285h0M490.8 238.5h0M311.6 329.6h0M142 328.8h0M397 290.4h0M222.8 194.8h0M196.2 248h0M488 236.2h0M336.2 311.6h0M264.8 321.7h0M385.3 271.1h0M216.7 194.5h0M426.5 274h0M502.1 201.1h0M123.7 380.5h0M361.7 267.6h0M339.2 274.6h0M510.8 207.1h0M351.5 311.8h0M337 288.6h0M433.9 263.6h0M260.8 325.6h0M271.4 339.4h0M347.7 276.2h0M112.1 385.4h0M431.6 252.5h0M319.3 299.3h0M504.9 242.1h0M355.1 272.4h0M243 346.8h0M129.5 341.3h0"/><path d="M416 245.7h0M265.2 346.6h0M180.7 266.3h0M109.5 400.1h0M308.5 314h0M490.6 247.9h0M414.9 241.4h0M169.5 297.8h0M180.9 246.2h0M438.5 250.1h0M395.3 254.1h0M522.9 195.9h0M341.5 291h0M345.3 300.6h0M152.1 317.2h0M132.4 350.2h0M455 265.3h0M289.2 327h0M485.6 218h0M519.5 202.2h0M250.6 316.2h0M218.1 219.9h0M464.1 249.2h0M192.4 251.6h0M271.9 333.7h0M218.2 222.7h0M349.3 268.7h0M142 329.6h0M468.7 216.5h0M514 212.1h0M387.8 288.7h0M376 290.1h0M356.9 267.1h0M425 240.8h0M338.6 310.9h0M341 287.2h0M337.1 306.1h0M203.9 216h0M240.9 157.9h0M327.3 280.2h0M109.3 392.5h0M454.2 241.8h0M381.9 257.1h0M395.5 265.5h0M232.1 196.8h0M230.2 201.7h0M420.9 250.8h0M266.9 333.4h0M262.8 334.3h0M321.1 316.3h0M426.2 251.1h0M154 305.5h0M186.8 277.6h0M431.6 244.3h0M274.8 310.7h0M223 206.9h0M465.1 234h0M355.8 300.8h0M511.5 200.8h0M367.4 287.3h0M422.5 244.7h0M245.1 317.3h0M322.4 291.2h0M443.7 231.7h0M385.7 277.2h0M506.5 210.6h0M394.1 285.7h0M204.5 248.7h0M339.6 284.2h0M320 283.1h0M329.1 294.2h0M517.7 209.3h0M281.2 312.8h0M463.6 237.3h0M378.2 266.6h0M149.8 308.8h0M501.9 244.5h0M333.5 294.9h0M350.2 293.6h0M315.6 308.1h0M402.3 278.5h0M147.3 341.6h0M493.5 243.1h0M398.1 279.8h0M363.1 272.8h0M292 298.2h0M481.2 232h0M326.5 299.4h0M240.6 171.4h0M434.6 258.3h0M480.2 243.8h0M221.2 188.2h0M394.4 283.4h0M244.6 349h0M172.2 298.6h0M122 349.1h0M326.8 316.4h0M378.5 297.4h0M376.2 284.3h0M319.4 295.3h0"/><path d="M257.4 310.7h0M318.8 319.4h0M119.1 395.9h0M431.5 240h0M496.8 236.4h0M519.2 227.3h0M202.6 236.7h0M445.6 253.1h0M354.2 287.7h0M472.4 250.5h0M155.7 305.9h0M295.8 318.6h0M255.8 336.6h0M363.2 298.1h0M225.4 201.5h0M388.8 279.3h0M232.2 184.3h0M179.5 252.3h0M305.8 331h0M504 205.3h0M265.3 339.9h0M222.6 204.9h0M131 349h0M220 200.8h0M456.3 228.3h0M148.3 305.6h0M332.8 307.3h0M343.2 306.1h0M131 352.5h0M212.6 230.3h0M366.7 304.5h0M241.5 165.4h0M242.2 321.1h0M438.1 245.4h0M412.1 251.1h0M187.6 240.7h0M220.8 193.7h0M401.5 262.1h0M183.7 286.5h0M505.5 235.4h0M175.7 276.5h0M147 348.7h0M338.8 275.8h0M247.7 332.7h0M149.9 310h0M439.4 261.7h0M250.4 316.8h0M433.6 271.3h0M241.1 147h0M417.4 261.5h0M134.9 343.5h0M505.7 210.3h0M269 335.4h0M306.6 298h0M444.8 229.8h0M431.8 263.1h0M465.8 232.6h0M139.8 332.1h0M317.1 316.2h0M216.5 222.1h0M485.5 240.1h0M376.9 282.6h0M173.6 283.9h0M502 239.4h0M460.6 242.8h0M519.1 198.1h0M489.5 218.5h0M521.7 201.7h0M349.3 270.1h0M110.8 382.3h0M503.5 217.8h0M170.4 304.6h0M125.4 384.1h0M327 316.6h0M493 212.8h0M232.4 161h0M464.4 251h0M321.3 289.5h0M486.6 241.7h0M392.4 284.7h0M274.1 341h0M465.6 244.9h0M337.2 284.5h0M457.2 229.8h0M137.9 344.8h0M335.5 280.8h0M209.7 228.4h0M444.1 253.1h0M395.4 272.4h0M409.6 262.6h0M260.4 316.7h0M518.4 195.1h0M137.2 340.2h0M502.6 238.9h0M456.1 258h0M117.6 395.6h0M142.7 314.5h0M235.8 180.2h0M337.5 280.9h0M390.5 289.2h0"/><path d="M488.8 238.3h0M436.4 272.4h0M315.4 329.8h0M394.7 271.2h0M407.8 260.1h0M229.5 178.6h0M300.1 333.1h0M452.2 240.2h0M371.4 284.9h0M177.1 285.9h0M122 393.5h0M448.7 233.3h0M162.4 303h0M230.3 191.6h0M307.1 319.9h0M501.6 238.3h0M486.3 218.5h0M202.4 240.6h0M505 242.4h0M162.6 309.4h0M316.2 303.1h0M443.5 257.9h0M257.8 325.4h0M436.8 256.6h0M178.7 290.7h0M140.8 317.7h0M195.1 265.2h0M407.9 262.5h0M374 300.7h0M143.2 343.2h0M477.3 221.5h0M277.6 308.3h0M513.2 233.5h0M138.4 320.9h0M475.3 219h0M230.2 159.5h0M521.6 234.6h0M195.8 249h0M261.1 328.9h0M451.6 222.3h0M178.7 266.3h0M316.2 321.1h0M210.3 226.6h0M468.7 224.5h0M412.8 269.8h0M446.6 247.8h0M141.6 344.5h0M409.2 247.2h0M414.7 280.4h0M386 288.7h0M429 246.1h0M296 334h0M358.5 282.2h0M456.1 229.8h0M260.5 331.7h0M154.9 321.9h0M183.3 266.9h0M343.4 296.9h0M413.2 245.4h0M314.1 302.2h0M145.3 321.6h0M437.1 228.6h0M449.5 252.6h0M290.4 317.6h0M394.4 291.8h0M341.2 311.1h0M414.7 260.1h0M169.9 290.3h0M408.2 270.8h0M274.7 314.4h0M218 225.8h0M189.6 265.1h0M382.3 289.9h0M129.4 362.7h0M471.6 250.5h0M155.6 300.2h0M464.2 239.5h0M242.1 167.6h0M338.1 310.8h0M169.7 295.4h0M130.7 358.3h0M229.8 182h0M172.2 265.1h0M502.3 206.7h0M219.7 207h0M258.1 331.6h0M498.1 240.8h0M501.6 212.8h0M121.6 353.3h0M410.4 284.5h0M484.2 217.9h0M464.9 252.2h0M249.3 341.3h0M236.8 185.3h0M291.3 332.6h0M112.6 366.5h0M160.5 292.6h0M498.5 234.5h0M339.6 294h0M401.1 249h0"/><path d="M391.2 268.5h0M415.6 271.4h0M513.1 196.5h0M342.3 300.6h0M232.4 186.2h0M199.9 235.6h0M220 219.3h0M411.5 262.9h0M473.8 243.2h0M251.1 312.8h0M177.3 277.4h0M369.9 299.5h0M488.9 221.3h0M490.4 230.5h0M168.1 305.3h0M263.8 317.9h0M433.7 262.2h0M394 282.1h0M133.6 369h0M391.3 281.2h0M208 206.1h0M389.1 279.2h0M350.6 275.3h0M481 211.5h0M146 313.1h0M301.4 317.8h0M196.2 231.2h0M357.8 277.1h0M139.7 320.5h0M230 180.5h0M289.5 297.7h0M433 268.8h0M447.6 242.1h0M455.6 239.4h0M243.2 352.8h0M349.5 276.9h0M308.7 312.2h0M121.6 354.3h0M121.1 388h0M225.2 203h0M204.1 207.8h0M272.4 331.3h0M402.7 278.5h0M457.6 246.3h0M197.1 252.6h0M151.3 318.7h0M352.1 304.7h0M427.3 238.2h0M114.8 375.3h0M506.3 208.7h0M293.6 320.6h0M311.5 285.5h0M126.9 386.6h0M441 242.3h0M427.1 249h0M157.9 291.9h0M483.3 226h0M145.2 331h0M426 258.2h0M191.5 235.2h0M505.3 220.1h0M414.3 279.1h0M313.3 289.2h0M213.1 234.5h0M450.2 266.2h0M215.4 217.8h0M510.1 220.4h0M409.9 260h0M159.5 319.5h0M222 212.2h0M355.8 297.9h0M314.2 314.2h0M157 331.7h0M370.2 293.7h0M132.1 348.1h0M131 369.3h0M111 374.6h0M206.4 219.5h0M317.3 283.6h0M417.4 280.8h0M205.1 213.8h0M457.1 220.5h0M195 239.9h0M268.3 322.1h0M261.1 339.9h0M171.7 290.3h0M291.1 325.8h0M408.8 245.9h0M293.8 321.4h0M378.9 264h0M376.1 300h0M412.9 261.1h0M504.1 229.5h0M394.8 286.2h0M168.4 283.5h0M503.7 213.4h0M406.8 271.8h0M224.8 184.4h0M477 213.1h0M180 273.3h0"/><path d="M427.2 270.4h0M145.9 314.5h0M495.9 203.8h0M501.8 235.9h0M221.5 206.6h0M388.3 282h0M200.9 213h0M362.9 273.5h0M404.1 280.7h0M507.8 205.2h0M139.2 320.8h0M117.3 398h0M276.8 318.9h0M438.9 252.2h0M398.1 267.1h0M261.4 349h0M369.4 285.1h0M433.6 254.7h0M356.2 268.3h0M195.2 245.7h0M486.4 240.6h0M253.9 349.4h0M361.1 303.2h0M468.6 229.6h0M121.9 390.4h0M481.9 220.1h0M226.5 187.1h0M504.9 241.4h0M347.1 300.9h0M327.5 322.2h0M484.8 221.7h0M176.3 283.7h0M482.5 228.5h0M317 289.7h0M439.8 250.2h0M435.8 229.5h0M363.8 292.5h0M310.2 308.6h0M505 223.1h0M284.2 330.5h0M416.7 246.9h0M377 272.9h0M352.5 304.6h0M318.9 290.1h0M401.7 279.5h0M296 308.7h0M212.1 233.4h0M485.1 236h0M513.4 220h0M446.7 247.6h0M195.3 248.1h0M204.5 220.6h0M408.2 276h0M516.2 214.5h0M394.3 273.1h0M254.2 355.3h0M146.8 339.3h0M491.3 212.4h0M199.8 257.4h0M376.2 294.9h0M183.3 274.6h0M309.8 314.5h0M275.6 321.2h0M370.6 296.3h0M373.6 275.2h0M281.3 343.9h0M497.4 237.4h0M303.4 325.3h0M142.7 338.9h0M519.3 194.2h0M455.8 254.4h0M240.6 167.4h0M112 381.9h0M242.5 179.6h0M303.2 311.9h0M173.6 261.2h0M273.5 345.1h0M159.8 323.4h0M251.2 322.5h0M228.8 207.6h0M410 247.7h0M351.4 278.6h0M293.9 307.7h0M209.9 195.2h0M356.3 285.9h0M381.3 286.7h0M308.5 302.6h0M228 206.8h0M150.9 328h0M197.4 263.4h0M251.9 312h0M194.6 245.1h0M426.6 264.6h0M225.2 169.6h0M134.3 341.2h0M189.6 264.9h0M437.7 273.2h0M247.2 339.1h0M515.2 213.3h0M269.6 306.5h0"/><path d="M428.8 275h0M368.7 260.5h0M366.8 289.1h0M290 302.3h0M469.9 222.9h0M380.3 260.8h0M312.8 289.2h0M205.7 224.7h0M262.5 307.7h0M417.4 270h0M323.2 291.9h0M520.5 216.2h0M256.5 311.4h0M409.5 247.2h0M345.1 285.3h0M516.2 208.5h0M489.3 222.7h0M175.6 283.4h0M217.4 203.1h0M372.2 301.9h0M353.8 310.2h0M293.3 318h0M349.1 294.5h0M332.5 295h0M163.5 306.4h0M196.1 222h0M348.2 310.4h0M252.5 353.6h0M285.2 329.1h0M465.5 240.7h0M301.3 326.4h0M351.7 307.5h0M329.6 292h0M150.1 310.3h0M448.1 255.7h0M436.8 237.8h0M479.9 233h0M347.3 272.2h0M433.3 255.2h0M286.7 299.3h0M292.1 305.5h0M200.7 240.7h0M122.4 388.9h0M286.4 303.6h0M467.6 245.3h0M169.3 312.5h0M518 211.1h0M170 267.5h0M164.6 303.3h0M517.8 204.2h0M191.8 241.5h0M214.3 197.2h0M174.2 268.6h0M299.4 295.6h0M443.6 243.7h0M230.1 204.6h0M482.5 216h0M401.1 248.3h0M137.2 331.4h0M270.4 336.5h0M384.9 264.7h0M173.7 260.7h0M192.6 239.1h0M397.5 281.1h0M312.4 320.3h0M124.6 361.8h0M426.3 240.7h0M221.4 199h0M110.2 409.7h0M482.9 240.7h0M241.4 179.1h0M428.8 272.6h0M215.8 194.7h0M414 274.9h0M142.6 354.2h0M309.3 308.2h0M243.6 354.4h0M340.6 316.2h0M436.1 274.2h0M278.9 342h0M408.3 285.9h0M266 341.9h0M430 260.2h0M212.3 198.9h0M296.9 328.6h0M111.3 367.7h0M451.7 263.4h0M265.6 343.7h0M238.6 159h0M166.2 306.9h0M181 272.2h0M393 261.7h0M487.3 230.6h0M247.5 315.8h0M454.5 237.5h0M513.7 220.6h0M392.4 279.9h0M397.8 270.4h0M521.4 204.7h0M451.8 267h0"/><path d="M123.5 385.9h0M422.5 278.9h0M413.9 241.2h0M267.2 338.2h0M428.4 276.5h0M404 255.6h0M167.7 276h0M473.5 255.1h0M288.7 317.9h0M280.5 306.2h0M244.9 342.9h0M324.9 311.1h0M357.1 302.1h0M110.8 410.2h0M446.2 228.7h0M373.6 276.7h0M519.7 197.6h0M479.8 212.1h0M261.7 352.4h0M524.1 227.9h0M256.7 353.9h0M219.6 184h0M317.5 287.4h0M224.7 174.2h0M205.5 216h0M308.1 304.6h0M230.4 164.6h0M285.9 305.4h0M170.1 300h0M147.6 349.1h0M170.3 280.2h0M338.9 304.1h0M133.5 369h0M335.9 303.1h0M191.8 271.8h0M337.2 291.2h0M277.8 303h0M175.1 281.8h0M283.3 303.1h0M366.4 297.7h0M396.5 281.8h0M380.2 265.6h0M501.6 210.2h0M407.4 263.9h0M219.3 206.5h0M446 265.9h0M156.8 330.4h0M121.5 355.5h0M216.8 220.1h0M262 308.8h0M187.4 236.6h0M380.2 293.4h0M277 312.3h0M201.7 243.5h0M340.1 274.4h0M295.9 307.1h0M521.1 201.6h0M163.6 312.5h0M520.8 217.6h0M367.7 268.6h0M339.5 291.3h0M179.5 290.3h0M348.1 312.1h0M311.4 295.4h0M359.3 294.5h0M457.6 234.7h0M199.3 216.5h0M444 242.8h0M192.5 233h0M190.3 268.1h0M418.1 265.1h0M481.3 227.1h0M248.3 327.4h0M444.6 256.1h0M156.5 299.9h0M292.6 332.3h0M123.9 366.1h0M228 167.8h0M170.3 277.9h0M155.3 317h0M121.2 389.6h0M245.8 355.5h0M420.7 279.1h0M130 380h0M132 351.8h0M193.4 241.8h0M221.6 219.9h0M162.3 303.3h0M320.7 322.7h0M413.9 242.4h0M351.9 306.7h0M434.7 253.8h0M517.7 202.1h0M311.4 331.1h0M165.5 303.3h0M116.2 370h0M256.7 343.1h0M241.6 159.3h0M477.8 219.3h0M344.6 272.2h0"/><path d="M385.3 262.2h0M483.9 233.3h0M130.6 378.1h0M385.4 277.9h0M144.1 347.7h0M146.4 346.5h0M242.4 156.8h0M278.5 344.9h0M453.1 255.4h0M363.3 281.6h0M128.8 369h0M423.6 254.8h0M226.9 181.4h0M378.6 298.7h0M260.7 354.4h0M450.5 259.5h0M446.9 230.4h0M264.1 344.1h0M201.2 216.9h0M399.9 266.2h0M275.6 332.3h0M322.6 294.8h0M481 240.2h0M443 268.6h0M483.3 236.2h0M479.9 213.3h0M161.6 284.4h0M404.9 255.7h0M266 314.1h0M499.5 240.4h0M399.4 260.9h0M382.3 255.2h0M452.1 244h0M303.5 328.3h0M292.5 334.1h0M355.5 284h0M437.3 237.6h0M289.2 306.6h0M117.7 380.6h0M193.5 268h0M178.8 292h0M254.3 312.3h0M490.9 237.5h0M487.7 238.8h0M273.5 302.1h0M240.5 173.8h0M239.7 171.2h0M351.2 276.8h0M462.9 250.4h0M137.2 323.2h0M414 244.8h0M272.2 342.6h0M275.2 343.2h0M273.9 344h0M352.1 269.3h0M201 249.5h0M407.1 249.4h0M129.4 369.3h0M405.1 255.9h0M475.3 220.3h0M246.1 358h0M332.3 321.3h0M178.7 254.4h0M452.2 262.4h0M109.6 391.7h0M369.3 289.2h0M130.2 346.2h0M366.8 265.6h0M150.8 312.9h0M356.9 290.1h0M490.3 230.1h0M366.3 261.9h0M206.4 220h0M217.7 206.9h0M227.8 168.7h0M304.2 316.8h0M282.9 304.3h0M521.3 209.1h0M124.9 349.6h0M491.1 232.6h0M242 162.8h0M399.4 270h0M373.7 301.4h0M159.7 323.8h0M457.8 246.4h0M211.8 199h0M211.2 192.8h0M140.1 356.6h0M414.2 251.5h0M199.3 231h0M418.8 266.5h0M432 236.9h0M470.4 230.8h0M414 256.7h0M473.9 227.1h0M513.3 220h0M407.8 276.2h0M507.1 229h0M372.6 264.2h0M426.4 269.5h0"/><path d="M210.7 235.7h0M151.1 319.3h0M331 282.9h0M401.9 275.1h0M395 287.8h0M484.5 238.5h0M294.3 307.7h0M240.2 167.5h0M175 281h0M441.5 239.5h0M175.2 302.1h0M123.4 367.4h0M223.4 181.8h0M128.6 354.5h0M416.1 247.7h0M346.5 280.6h0M389.4 274.7h0M462.3 225.7h0M485.3 211.1h0M515.2 197.9h0M193.9 241.4h0M180.6 275.7h0M377.3 291.8h0M140.6 321.1h0M160.8 282.1h0M432.1 239.3h0M304.2 301.3h0M410.2 269.4h0M242.5 359h0M432.4 240.2h0M306.2 328.4h0M507.2 234.2h0M444.1 236.6h0M347.3 297.8h0M507.8 227.3h0M508.2 240h0M236.6 194h0M514.9 225.6h0M444.2 256.4h0M239 190.6h0M175.2 298.2h0M200.9 249.1h0M419.3 250h0M454 247.2h0M428.4 252.8h0M466.2 248.9h0M212.6 190.2h0M476 223.4h0M511.1 230.7h0M469.4 240.6h0M434.9 232.7h0M316.1 317.5h0M451.9 256.8h0M388.9 264.8h0M347.2 299.4h0M141.4 341.5h0M451 263.9h0M355.6 284.5h0M246.6 357.5h0M156.9 305.6h0M265.2 306.9h0M111.5 407.3h0M341.9 280.7h0M285.1 303.2h0M461.6 261.9h0M389.8 276.7h0M396.1 276.9h0M518.7 222.6h0M121 358.3h0M320.9 319.7h0M479.7 238h0M335.8 276.8h0M321.6 305.9h0M362.4 306h0M360.2 283.6h0M116.4 379.9h0M151 330.5h0M422.1 261.2h0M267.6 309.7h0M209.2 240.4h0M393.3 278.5h0M453 228.6h0M153.2 323h0M429.2 246.7h0M247.9 355h0M330.5 283.1h0M376.9 265.5h0M229.7 203.3h0M512.7 197.5h0M341.9 296.8h0M282.6 324.3h0M345.2 282.1h0M410 252.6h0M326.5 321.3h0M157.6 312.7h0M443.7 231.7h0M119.4 384.3h0M223.1 188.3h0M331.9 307.6h0M171.6 263.5h0"/><path d="M483.9 216.3h0M328.4 304.7h0M108.7 394.2h0M506.1 223.3h0M375.6 287.6h0M108.6 414h0M203.6 225.1h0M404.9 286.8h0M340.1 277.4h0M513.9 206.2h0M386.5 255.1h0M414.8 282h0M321.2 315.7h0M210.6 232h0M305 319.2h0M111.7 407.1h0M307.7 327.5h0M345.2 315.8h0M432.1 240.5h0M143.4 352.5h0M283.4 333.1h0M288.6 305.5h0M436.1 252h0M300.5 323.9h0M423.3 261h0M510.5 196.3h0M311 295.2h0M410.9 259.5h0M198.7 220h0M363.4 296.4h0M190.8 240.7h0M228.7 196.7h0M451.1 236h0M205.9 216.4h0M366 263h0M352.6 272.6h0M187 280.3h0M294.6 329.3h0M461.6 234.1h0M277.8 333.6h0M208.2 239h0M296.7 328.2h0M388.4 258.7h0M421.8 252.4h0M187.6 273.6h0M328.5 314.8h0M351.5 271h0M494.3 230.7h0M146.5 347.4h0M498.6 211.3h0M164.6 291h0M348.9 288.4h0M187.7 234.2h0M284.2 298.7h0M231.4 171.5h0M416 239.8h0M309.9 289.9h0M504.6 211.8h0M138.8 351.8h0M483.5 208.8h0M116.4 375.5h0M381.7 295.3h0M323.6 289.2h0M491.2 214.2h0M322.9 309.4h0M238 192.1h0M285.9 314.4h0M437.2 252.6h0M356.9 293.4h0M350.2 279.5h0M113.9 369.3h0M522.6 198.3h0M485.3 225.2h0M483 229h0M361.2 292.2h0M286.2 326.3h0M481.9 220.5h0M518.5 222.5h0M214.2 230.3h0M235.7 181.8h0M223.2 192.6h0M191.4 262.5h0M153.8 301.5h0M347.2 290.8h0M431.1 249.8h0M109.6 417.5h0M491.9 237.2h0M160.5 311.8h0M328.1 307.2h0M466.3 260.8h0M342.4 288.7h0M111.7 405.3h0M254.8 311.1h0M355.5 300.8h0M434.7 234.5h0M470.4 239.9h0M158.1 312.5h0M242.5 338.1h0M313 293.8h0M454.8 227.4h0"/><path d="M426.9 256.4h0M381.2 260.7h0M177.7 259.5h0M383.9 254.3h0M248.9 347.9h0M129.9 351.5h0M495.6 217.2h0M134.1 361.4h0M312.8 316.1h0M271.3 338h0M427.9 263.8h0M497.5 212h0M282.2 330.8h0M431.6 262.3h0M285.8 303.7h0M296.7 307h0M361 304.5h0M155.4 290.3h0M177.8 275.7h0M520.1 214.7h0M519 226.6h0M448.2 239.3h0M167.5 307.4h0M348.8 311h0M125.7 374.9h0M265.5 310.9h0M135.5 358.9h0M523 228.1h0M446.2 233.4h0M284.6 337.3h0M295.3 296.2h0M463.2 233.3h0M373.6 275.9h0M220.6 206.2h0M227.8 185.8h0M377 273.7h0M117.2 357.5h0M282.6 329.1h0M392.4 266h0M388.4 290.1h0M322.4 291h0M340.6 311.2h0M238.6 179.5h0M187.6 256.7h0M204.5 250.2h0M413.1 243.9h0M506.6 231.4h0M438.9 260.6h0M274.7 326.3h0M481.7 250.4h0M366.2 278.1h0M172.2 280.2h0M289.7 333.2h0M367.2 271.8h0M437.2 251h0M502.3 236.8h0M232.1 158.8h0M412 276.6h0M184.3 258.5h0M514.6 234.3h0M348.8 292.3h0M263.4 336.9h0M156.6 316.3h0M174.7 272.7h0M508.2 210.1h0M152.7 297.7h0M191.3 237.8h0M306.9 288.8h0M143.4 344.9h0M431.4 267.6h0M422 274.8h0M142.9 358.3h0M392.7 265.2h0M287.3 332.2h0M489.3 206.5h0M255.6 329.2h0M380.6 272.7h0M470.7 247.5h0M385.3 251.9h0M400.1 251.8h0M342.9 298.2h0M155.7 299.5h0M490.7 241h0M262.7 328h0M332.3 297.7h0M111.6 406.2h0M158.4 285.6h0M284.9 329.9h0M248.3 317h0M332.4 303.2h0M427.4 261.1h0M301.1 311.9h0M198.1 248.8h0M110.6 388h0M474.8 227.1h0M512.2 205.3h0M294.3 296.9h0M152.4 341h0M367 284.3h0M110.6 380.7h0"/><path d="M246.6 346.5h0M215 230h0M417.5 246h0M371.2 289.3h0M478.3 213.4h0M414.4 262.5h0M161.4 320.6h0M478.5 226.1h0M147.3 304.9h0M505.8 233h0M134.9 365.8h0M415.8 250h0M162.5 321.5h0M230.6 193.9h0M374.6 299.8h0M308.1 324.7h0M415.9 245.7h0M285.1 336.7h0M168.1 311h0M412.7 247.7h0M223.4 193.7h0M459.4 261.2h0M518.6 221.3h0M276.8 334.9h0M447.3 257.3h0M322.4 314.9h0M134.2 335h0M393 272.8h0M521.9 216.4h0M357.9 292.2h0M320.2 306.9h0M245 336.2h0M150.5 325h0M374.2 292.6h0M127 368.6h0M418.9 273.8h0M172.1 278.5h0M507.2 235.1h0M455.1 230.5h0M423.1 239.5h0M382.8 295.9h0M191.3 269h0M480.3 225.6h0M451.7 257.8h0M436.4 241.2h0M506.1 235.9h0M303.1 300.7h0M237.6 165.4h0M153.2 332.5h0M170.7 265.1h0M110.5 387.7h0M195.5 224.6h0M370.4 281.9h0M117.4 379.9h0M510.2 204.2h0M281.6 328h0M255.9 326.4h0M130.7 358.5h0M440.6 238.1h0M273.9 318.1h0M414.1 240.9h0M131.9 370.8h0M463.5 239.4h0M341.9 306.7h0M438.2 239.9h0M130.5 353.6h0M374.7 265.1h0M311.4 315.9h0M438.7 249.1h0M388.7 255.8h0M241.3 180.9h0M209.3 215.3h0M112.4 392.7h0M475.4 255h0M397.4 267h0M229.7 161.2h0M368.4 266.8h0M384.5 278.6h0M402.5 252.6h0M251.2 352.4h0M338.9 290.9h0M308.6 313.4h0M386.8 259.9h0M393.5 291.3h0M143.1 347.7h0M173.3 285.8h0M304.8 319.9h0M223.5 206.5h0M416.1 251.8h0M434.6 262.9h0M360.2 299.9h0M440.2 257.2h0M514.6 218.3h0M121.8 368.7h0M247.3 329.2h0M140.1 320.8h0M126.6 378.9h0M166.3 296.8h0M165 278.6h0M353.6 276h0"/><path d="M317.9 289h0M367.3 286.6h0M454.6 252.7h0M136.3 346.7h0M109.4 382.5h0M432.7 261h0M399.3 265.2h0M353.7 278.6h0M298.6 312.8h0M346.7 278.6h0M406.5 247.4h0M368 295.1h0M511 235.9h0M463.3 262.4h0M210.9 205.2h0M385.7 271.5h0M147.3 311.6h0M402.8 257.3h0M161 313.5h0M434.7 240.8h0M476.1 247.7h0M385.2 290.2h0M366.7 282.3h0M471.4 236.1h0M243.7 362h0M149.5 338.1h0M321.9 286.3h0M415.5 281.9h0M243.1 350h0M289.1 320.9h0M116.9 386.4h0M410.2 267.4h0M214.8 195h0M497.1 204.9h0M444.5 262.2h0M369.1 292.8h0M253.2 325.7h0M293.1 301.6h0M271.2 332h0M403.7 284.2h0M135.8 349h0M144 314.1h0M195.3 239.6h0M121.3 360.7h0M219.9 212.4h0M258 317.1h0M364.7 303.6h0M386.7 251.5h0M226.2 179.5h0M431.4 268.6h0M360.3 297h0M517.7 210.4h0M446.4 231.3h0M404.9 281.1h0M115.9 369.1h0M162.1 287.1h0M447.1 244.2h0M278 302.5h0M399 266h0M355.2 271.4h0M336.1 307.1h0M303 334.9h0M304.6 291.4h0M347.5 292.1h0M243.3 340.1h0M408.9 246.3h0M518.8 213.7h0M462.5 242.4h0M346.3 310.5h0M497.6 215.4h0M247.9 327.2h0M260.7 333h0M283 337.5h0M442 261.7h0M317.4 284.7h0M496.8 233.6h0M362.5 293.6h0M264.5 314h0M424 237.5h0M319.1 301h0M354.8 266.9h0M419.7 260.9h0M439.7 240.6h0M429.5 236.5h0M291.1 328h0M288.9 304.7h0M197.6 221.3h0M184.1 263.5h0M309.5 331h0M266.1 321.3h0M395.2 281.1h0M521.8 204.3h0M362.2 274.8h0M494.2 245h0M270.5 340.9h0M382.5 288.2h0M457.6 256.3h0M302 293.4h0M200.7 233.5h0M426.4 248h0"/><path d="M385.4 253.3h0M471.9 216.2h0M185.9 272h0M262.9 347.9h0M314.2 321.7h0M413.8 273h0M420 240.5h0M214.4 229h0M392 261.4h0M169 287.7h0M133.3 331.4h0M348 304.4h0M307.4 296.2h0M437.6 271.4h0M488.4 244.6h0M256.6 320.4h0M352.8 293.4h0M306.5 302.3h0M474.5 233.9h0M349.2 272.8h0M503.3 232.2h0M220.5 183.4h0M348.9 299.8h0M291.9 295.9h0M128.1 346.2h0M120.5 394.4h0M188.2 272.8h0M240.1 150.9h0M451 233h0M450.8 225.3h0M500.3 236.8h0M284.5 310.8h0M207 220.4h0M116.7 372.2h0M419.5 237.1h0M182.9 260.7h0M475.4 244.8h0M202.1 214.5h0M305 293h0M274.9 309.4h0M132.8 355.3h0M473.2 252.6h0M221.4 182.1h0M282.4 329.2h0M262.2 352h0M416.8 276.9h0M200 222.4h0M506.4 233.8h0M483.5 220.6h0M504.8 209.5h0M299 295h0M493.3 247.7h0M478.7 231h0M177.2 260h0M424.6 273.6h0M354 270.2h0M476.3 230.3h0M385 257.4h0M308.5 323.9h0M156.3 297.5h0M351.4 279.1h0M473.4 257.6h0M492.9 247.3h0M433.6 271.4h0M491 224h0M480.1 248.9h0M359.1 276.9h0M122.6 362h0M435.4 268.8h0M389.7 255.4h0M261.2 314.3h0M279.9 345.3h0M457.8 239.7h0M350.9 268.7h0M207.4 238h0M375.3 269.7h0M285.8 338.5h0M417 271.2h0M407.2 245.2h0M220.1 205.2h0M519.7 229.9h0M310 314.3h0M344.1 290.1h0M483.8 218.7h0M193.2 231.5h0M215.4 188.4h0M308.9 294h0M409.1 260.6h0M137.2 335.9h0M115.1 360.9h0M158.4 297.3h0M334.9 301.5h0M508.9 222.7h0M465.4 258.8h0M116.2 397.4h0M166.3 286.2h0M176.4 265h0M417.5 276.6h0M340.3 303.9h0M329.2 296.4h0"/><path d="M489.5 215.2h0M107.7 397.3h0M443.7 271.1h0M249.3 328.4h0M521.1 235.4h0M253.8 351.3h0M338.5 304.2h0M428.8 269.8h0M345.6 294.6h0M242.3 333.9h0M220.4 187.2h0M412.4 261h0M317.4 318.4h0M245.9 324.5h0M256.8 313.6h0M493.7 222h0M441.8 244.1h0M502.4 221h0M240.7 154.5h0M340.7 283.2h0M497 235.2h0M180.1 257h0M198.3 220.9h0M376.5 276.4h0M181.4 255.6h0M398.5 286.8h0M452.8 261.2h0M248.2 321.3h0M271.7 309.9h0M264.1 336.1h0M507.8 225.6h0M385 271h0M501 231.9h0M223.5 213.4h0M501.7 232h0M397.2 264.8h0M154.6 337.5h0M238.9 149.7h0M154.2 331h0M446.4 243.5h0M469.3 226.2h0M125.1 348.1h0M514.9 232.7h0M487.7 220.5h0M416.2 255.7h0M524.2 222.5h0M376.4 267.2h0M361.4 277.3h0M346.4 288.1h0M407.7 253.7h0M315.8 322.3h0M153.7 327h0M210 215.3h0M201.9 218.1h0M240.2 166.1h0M311.3 331.5h0M504.6 243.7h0M243.5 331.3h0M179.5 251.3h0M476.5 253.4h0M475.9 226.6h0M487.5 239h0M209.6 207.4h0M336.4 318.6h0M356.3 310.1h0M291.7 339.5h0M362.1 276.3h0M406.7 245.6h0M293.4 333.6h0M141.8 319.7h0M505.3 204.2h0M374.2 295.8h0M514.9 232.6h0M411.6 282.9h0M230.7 194.5h0M294.3 331.5h0M176 289.5h0M287.3 337.8h0M434.6 261h0M470.6 257.8h0M242.3 329.3h0M148.3 309.3h0M132.8 351.7h0M378.9 292.8h0M377.7 300.5h0M336.6 274.1h0M136.6 338.2h0M167.8 293.4h0M497.6 247.1h0M301.3 299.9h0M342 316.8h0M460.9 220.5h0M300.7 300.1h0M414.6 265.9h0M328.9 277.5h0M351.9 298.2h0M517.6 214.5h0M116.9 383.2h0M333.1 308.2h0M478.4 255.9h0"/><path d="M201.4 211.7h0M221.9 176.2h0M291.3 298h0M459.3 259.2h0M353.2 276.8h0M130.2 363h0M383.7 261h0M358.6 264.8h0M401.6 280.5h0M421.8 242.5h0M459 255.1h0M475.2 227.8h0M350.9 308.2h0M158.9 322h0M468.3 216.2h0M149.5 320.5h0M322.5 314.6h0M449.4 226.3h0M108.2 398.6h0M166.8 273.8h0M183.3 274.4h0M162.7 309.9h0M458.8 233.7h0M449 229.8h0M260.5 308.4h0M499.8 211.6h0M339.4 293.3h0M308 318.8h0M394.7 248.5h0M408.4 260.6h0M460.9 260.6h0M307.9 295.9h0M241.8 175.2h0M190.9 262.3h0M248.2 328.8h0M506.7 211.4h0M224.2 189.9h0M128.2 364.5h0M174.1 261.7h0M279.3 300.4h0M113 365.1h0M324.4 288h0M514.4 217.4h0M228 209.1h0M321.5 296.6h0M397.2 249h0M205.8 242h0M120.7 394.5h0M473.8 241h0M120.2 376.8h0M372 279.6h0M234.5 165.1h0M515.5 204.3h0M372.6 303.3h0M467.7 234.4h0M238.7 180.1h0M255.5 347.5h0M163.5 320h0M308.6 300.2h0M458 225.2h0M198.2 229.8h0M127.2 382.9h0M273.9 320.3h0M255.1 337.2h0M130.9 334.4h0M189.3 246.4h0M353.9 280.6h0M141.2 341.2h0M451.4 224.2h0M117.1 391.1h0M158.3 324.9h0M140.1 362.3h0M225.4 195h0M474.5 231h0M372.7 300.8h0M444 254.1h0M229.2 181.5h0M161.2 325.3h0M298.1 307h0M137.7 367.5h0M296 295.7h0M519.5 236.1h0M247 321.9h0M313.3 307.3h0M300.5 310h0M435 272.6h0M517.6 236.3h0M493.4 224.7h0M366.2 293.9h0M175.9 285.9h0M324.5 317.9h0M257.8 322.2h0M179.6 258.4h0M435.2 271.7h0M337 293.8h0M306 293.6h0M412.1 249.1h0M295.4 292.3h0M328.5 292.6h0M234.5 183.2h0"/><path d="M255.5 315.4h0M195.9 258.7h0M372.7 278.1h0M206.7 222.3h0M399.9 278.6h0M111.3 377.8h0M402.1 286.3h0M401.4 252.1h0M311.6 300.9h0M143.8 324h0M313.2 287.2h0M359.5 267.4h0M465.9 256.6h0M495.6 216.8h0M348.2 313.5h0M229.1 187.8h0M206.5 243.3h0M436.3 228.9h0M258.4 319.7h0M424.6 262.5h0M412.7 245.3h0M436.3 264.8h0M339.7 279.7h0M371.4 303.9h0M241.9 330.3h0M254.5 328.8h0M165.4 295.2h0M127.4 385.2h0M468.6 256.7h0M403.4 287.2h0M515.2 222.4h0M494.7 243.4h0M518.1 210.9h0M269.2 318.2h0M152 308.1h0M121.7 381.8h0M343.7 280.4h0M509.7 240h0M118.8 391.4h0M258 334.6h0M306.4 313.6h0M396.9 268h0M475.6 248.6h0M135.6 355.7h0M396.5 257.4h0M338.7 288.2h0M430.3 274.4h0M226 189.4h0M145.5 312.7h0M511.8 228.3h0M440.5 254.3h0M293.6 323.6h0M133.4 329.4h0M122.6 393.8h0M412.4 242h0M335.2 306.5h0M262 342.7h0M404.2 251.7h0M257.4 317.5h0M516.4 205.6h0M525.7 224h0M118.4 373.7h0M387.5 264.3h0M198.6 258.3h0M185 275.3h0M280.6 322.7h0M156.9 311.7h0M117.4 357.8h0M307.3 308.8h0M486.3 230.4h0M392.9 260.2h0M188.8 273.7h0M307.3 322.8h0M126 371.9h0M302.9 289.4h0M374.2 286.9h0M516 210.6h0M349.9 312.4h0M343 278.4h0M297 326.6h0M304 294.5h0M153.5 325.9h0M229.4 185.5h0M402.6 267.2h0M235.3 192.4h0M310 291.6h0M238.8 179.1h0M171.6 299.2h0M351.2 294.8h0M420.1 243.8h0M308.4 295h0M371.3 274.9h0M226.9 178h0M272.2 325.6h0M404 282.6h0M144.8 337.3h0M402 272.6h0M181.6 270.7h0M113 403.6h0M268.9 321.1h0"/><path d="M297.7 331.2h0M328.3 316.5h0M324.1 289.9h0M486.5 229.5h0M324.2 311.8h0M311.6 324.2h0M470.2 250.4h0M222.2 189.8h0M153 318h0M359.7 279h0M347 305.2h0M238.5 153.5h0M273.5 321.9h0M416.3 283.1h0M459.8 232.8h0M343 288.7h0M142.6 349.7h0M284.7 335.5h0M165.2 283.8h0M339.7 295h0M121.6 395.6h0M293.5 330h0M389.9 275.8h0M401.1 263.4h0M242.7 324.8h0M155.1 324.2h0M400.5 252h0M430.5 262.1h0M368.5 299.2h0M221.3 215.3h0M221.3 184.7h0M192.9 260.1h0M175.6 281.4h0M318.8 312.8h0M445.2 248.3h0M494.6 234.5h0M495.2 207.5h0M486.6 234.1h0M278.1 330h0M467.1 240.8h0M500.8 208.4h0M464.8 235.9h0M474.5 231.7h0M158.9 297.9h0M465.3 236.5h0M408.1 262.9h0M242.2 344.2h0M406.8 246.3h0M192.9 237.2h0M282 339.4h0M514.8 207.7h0M454.2 225.4h0M423.9 263.5h0M213.4 190h0M131 367.6h0M367.2 275.5h0M396.1 265h0M500.2 238.3h0M276.4 326.8h0M231.6 171.5h0M256.2 344.2h0M521.6 225.5h0M446.4 258.2h0M342.9 278.3h0M394.3 275.3h0M205.9 211.1h0M502.5 243.9h0M281.1 302.2h0M225.1 188.3h0M336.1 288.1h0M519.9 236.4h0M490.6 206.5h0M393.1 252.3h0M191.9 241.2h0M108.9 416.1h0M110 376.9h0M260.7 350.2h0M234.3 189h0M441.6 244.2h0M198.9 256.4h0M302.5 313.5h0M260.9 339.5h0M260.6 309.5h0M297 296.7h0M454.3 255.8h0M478.9 234.4h0M209.2 229.4h0M299.4 336.7h0M167.7 269.5h0M491.8 207.3h0M193.4 258.7h0M300.1 292.4h0M344.2 309h0M444.1 239.9h0M395.7 284.3h0M171.1 282.8h0M380.7 284.3h0M480.2 220.2h0M347.2 301.5h0M154.2 310h0"/><path d="M431 237.1h0M401.8 278.7h0M328.4 309.3h0M287.4 328.7h0M257 326.2h0M280.6 305.6h0M446.3 246.4h0M209.5 231.7h0M146.9 326h0M337.2 298.9h0M352.6 280.3h0M488.7 217.4h0M179.2 270.9h0M219.4 207.4h0M416.4 269.7h0M277.5 336.3h0M335.4 318.1h0M359.5 290.5h0M188.5 233.7h0M501.2 242.5h0M409.5 258.5h0M336.4 314.5h0M432 252.7h0M225.8 177.4h0M139.6 326.5h0M123.1 359.2h0M210.1 239.5h0M441.6 253.9h0M393.2 275h0M395.4 252.2h0M159.6 294.6h0M164.2 283.2h0M276.5 314.5h0M152.6 307.7h0M247.8 331.3h0M338.1 276.9h0M518.4 212.4h0M457.8 248.7h0M135.2 345h0M432.8 248.6h0M453.5 253.2h0M303.7 328.4h0M447.4 229h0M384.3 285.6h0M444.1 242.7h0M124.4 369.6h0M444.1 254.6h0M350 279.9h0M473 244.1h0M135.9 344h0M170.8 301.7h0M266.5 324.8h0M397.1 264.1h0M171.1 303.8h0M268.9 314.5h0M327.4 299.3h0M129.7 349.9h0M366.7 304h0M359 298.8h0M189.6 257.8h0M142.9 354.6h0M460.4 247.7h0M147 311.7h0M111.4 390h0M233.6 195.4h0M252.9 312.9h0M435.8 271.2h0M369.5 277.6h0M225.1 202.1h0M158.4 297.8h0M325.9 297h0M188.6 256.2h0M259.9 319.3h0M159 302.2h0M226.3 167.1h0M341.8 305.3h0M506.7 199.8h0M234 168.5h0M171.5 300.4h0M422.4 260.7h0M416.5 282.3h0M225 176.5h0M214.5 201.3h0M192.2 231.2h0M525.5 218.6h0M317.5 323.8h0M197 218.6h0M163.3 299.5h0M416.1 269.6h0M469.5 227.2h0M208 223.5h0M303.4 303h0M448.3 242.2h0M228.5 172.6h0M145 350h0M268 325.4h0M285.3 309.5h0M208.5 223.4h0M115.3 379.7h0M350.8 310.7h0"/><path d="M369.3 300.2h0M289.9 299.1h0M497.3 233.3h0M163.6 299.7h0M283.5 322.5h0M339.6 309.2h0M356.1 300h0M255.9 328.9h0M374.2 267.9h0M299.4 334.8h0M411.1 246.6h0M370.9 259h0M253.7 345.5h0M234.2 177.8h0M499.5 205.9h0M508.3 197.9h0M461.4 230h0M160.7 299.7h0M446.4 255.6h0M150 328.5h0M480.2 236.1h0M189.3 270.9h0M137.7 342.5h0M372.7 260.5h0M508.8 209.4h0M121.7 377.7h0M156.4 302.1h0M520.6 195.2h0M324.2 297.4h0M344.8 308.4h0M360.5 295.2h0M185 264.7h0M321 314.8h0M267.6 322.2h0M221.2 195.9h0M450.4 248.9h0M443.7 230.7h0M216.8 225h0M453.2 221.8h0M448.4 265.8h0M128.5 361h0M119.4 379.7h0M115.4 393.1h0M346 302.6h0M211.7 237.3h0M121.3 351.6h0M379.5 278h0M393.6 273.5h0M289.5 310h0M460.4 237.7h0M461.5 221h0M309.8 312.2h0M395.7 282.8h0M133.1 375.9h0M404.1 262.6h0M212.9 214.2h0M504.5 201.9h0M386.7 253.7h0M362 266.6h0M499.3 211.5h0M232.1 162.4h0M512 203.2h0M193 253.6h0M268.8 339.2h0M231.2 179.3h0M301.2 334.4h0M320.8 296.2h0M112.5 399h0M274.3 307.8h0M119.4 355.7h0M317.5 307h0M272.5 335h0M295.9 330.9h0M471.2 222.5h0M123.2 374.4h0M174.5 291.8h0M397.6 287.2h0M286 321h0M184.1 279.9h0M401.9 246.3h0M489.4 215.9h0M263.1 344.8h0M332.7 316.9h0M482.8 248.7h0M140.7 336.5h0M309.2 331.7h0M360.3 299.3h0M362.9 300.7h0M523.1 219.1h0M494.1 206.1h0M359.2 303h0M209.1 211.5h0M413.3 283.2h0M179.8 250.8h0M243.2 347.6h0M121.9 383.2h0M332.2 313.1h0M323.7 283.8h0M150.3 300.6h0M358.8 300.3h0"/><path d="M301.9 322.6h0M159.4 290.5h0M525.3 232.9h0M169.4 301.5h0M254.7 346.1h0M198.4 221.9h0M155 320.2h0M311.3 310.2h0M199 248.9h0M502 208.3h0M177.8 274.2h0M479.4 221.6h0M303.7 323.1h0M210.2 221.8h0M448.3 265.8h0M361.5 294.1h0M384.2 290.1h0M472.2 243.7h0M261.2 317.7h0M452.5 259.4h0M276.2 323.7h0M178.2 288.7h0M325.5 322h0M197.8 250.6h0M288.8 329.5h0M292.9 323.8h0M163.7 295.5h0M478.7 232.6h0M309.5 319.7h0M127.2 356.5h0M332.7 313.5h0M523.7 217.3h0M422.4 242.4h0M394.5 277.3h0M217.5 188.2h0M142.1 357.5h0M198.1 253.6h0M194.1 225.3h0M129.9 378h0M146.4 324.6h0M270.4 332.6h0M248.3 345.3h0M416.4 248h0M340.2 298.9h0M503.9 204.3h0M330.4 300.9h0M352.9 304.3h0M364.5 284.7h0M361.3 269.4h0M433.9 237.2h0M391.4 279.4h0M305.1 318h0M302.9 311.6h0M443.7 269.5h0M511.3 208.7h0M389.8 252.4h0M112.3 379.3h0M345.7 310.5h0M452 240.4h0M225 199.9h0M412.4 241.5h0M265.2 320.5h0M353.2 293.2h0M151.9 297.2h0M501.1 228.3h0M252.1 353.6h0M487.1 248.8h0M317.5 321.3h0M451.5 256.1h0M234.3 196h0M490.7 230.1h0M513.9 229.9h0M348.4 273.9h0M512.7 227.5h0M331.6 279.7h0M166.2 300h0M244.5 342h0M169.3 271.3h0M172.6 294.7h0M121.9 388.2h0M365 290.7h0M274.3 343.1h0M297.3 324.4h0M379.9 283.1h0M268.3 310.4h0M495.4 244.5h0M398.4 267.4h0M457.4 254.3h0M284.8 328.1h0M186.8 239.9h0M499.8 229.4h0M175.8 261h0M283.4 301.3h0M493.1 231.5h0M346.8 274.2h0M175.1 281.3h0M507.7 223.3h0M362.8 284.6h0M300.2 291.4h0M347.1 312.4h0"/><path d="M348.5 276.4h0M183.9 253.8h0M368 284.8h0M480 217.7h0M488.6 247h0M396.4 271.5h0M221.1 213h0M472 236.2h0M417.4 243.5h0M235.4 194.3h0M269.9 343.9h0M233.1 180.8h0M427.5 235.6h0M317.7 290h0M322.7 307.2h0M359.6 302.4h0M191.1 254.8h0M140.1 321h0M175.4 291h0M306.1 288.2h0M312.7 306.1h0M125.8 375.3h0M437.7 231.9h0M274.4 315h0M313.9 286h0M203.7 242h0M238.3 164.1h0M265.8 306.3h0M150.8 322.9h0M368.1 288h0M158 293.2h0M439.8 257.7h0M477.9 220.6h0M233 154.5h0M509.4 235.7h0M297.5 301.2h0M247 316.3h0M455.4 233.2h0M507.9 211h0M259 332.6h0M132.7 357.5h0M135.7 336.7h0M267.7 316.3h0M142.2 316.5h0M209.7 241.8h0M131 373.5h0M452 223.5h0M346.7 311.5h0M358.7 268.3h0M335.6 309.1h0M454.8 228.2h0M323.3 314.3h0M244 355.6h0M188.3 241.1h0M117.3 390h0M259.3 354.8h0M456.5 220.6h0M123.7 351.7h0M338.2 284.1h0M432.7 251.9h0M396.1 249.9h0M210.9 202h0M374.5 285.7h0M194.9 263.6h0M338.7 304.6h0M435.8 231.4h0M368.4 261.3h0M367.7 271.8h0M455.6 230h0M506.7 209.5h0M306.3 318.9h0M444.4 246.9h0M286.6 324.7h0M161.4 310.2h0M405.3 275.9h0M179.5 257.1h0M453.3 233.8h0M405.1 258.6h0M357.2 284.4h0M383.4 285.9h0M276.5 305.8h0M422.9 280.6h0M231.7 200.6h0M380.4 279.7h0M478 229.7h0M323.8 294.9h0M419.7 260.4h0M521.3 221.1h0M233.3 174.6h0M458.2 225.1h0M474.1 218.2h0M279.5 332.3h0M364.3 292h0M436.6 271.2h0M205.2 220.2h0M265.3 315.5h0M138.6 345.9h0M294.3 310.2h0M111.5 410.1h0M383.8 262.4h0"/><path d="M426.9 262.4h0M390.7 250.4h0M505.5 238.6h0M352.6 305.4h0M128.9 364.9h0M462.6 249.8h0M119 366.9h0M133.8 341.1h0M154.5 318.4h0M403.1 284.5h0M378.9 300.2h0M210.8 226.4h0M208 218.9h0M282.6 321.9h0M198.8 246.8h0M402.4 244.6h0M346.1 271.7h0M303.3 334h0M479.7 217.1h0M500.6 239.3h0M191.4 258h0M235.3 178.3h0M213 195.1h0M507.3 240.7h0M239.5 153.1h0M123.5 372.1h0M280.8 341.1h0M410.3 275.5h0M220.8 207.7h0M352.1 293.8h0M352.3 276.9h0M486.6 249.8h0M193.3 254h0M324.5 300.2h0M346.6 271.6h0M133.9 335.8h0M167.4 307.8h0M288.7 299.4h0M204.2 237.1h0M347.6 272.3h0M363.3 278.1h0M169.9 285.9h0M137.2 359.1h0M336.7 313.5h0M452.6 262.7h0M126.8 360.3h0M521.2 223.1h0M276.5 315h0M464 254.6h0M350.5 271.9h0M116.8 389.2h0M394.6 275.3h0M197.5 262.2h0M438.2 251.1h0M164.8 278.7h0M296.2 296.3h0M327.6 321.7h0M520.2 210h0M318.1 316.5h0M355.9 304.6h0M249.7 357.6h0M323.3 317.2h0M162.2 297.4h0M206 215h0M511.6 233.6h0M235.6 157.1h0M263.8 309.4h0M200.1 236.2h0M446.2 243.1h0M136.4 338.5h0M303.6 308.2h0M514.4 202.5h0M144 340.5h0M318.4 318.8h0M321.8 289.5h0M443.7 265.9h0M516.5 232.2h0M279.8 331.2h0M339.9 316.9h0M360.1 284.3h0M119.5 399.6h0M419.6 241.4h0M137.2 334.1h0M169 269.5h0M198.3 250.4h0M170.2 293.1h0M109.6 410.1h0M434.9 250.4h0M154.1 335.4h0M350.5 310.5h0M383.6 275.1h0M430.8 240.7h0M343.5 297.7h0M176.2 256.2h0M477.6 245.5h0M338.2 297.3h0M262.3 308.5h0M206.6 243.2h0M414.6 251.3h0M478.9 251.2h0"/><path d="M407.4 265.7h0M184.2 266.3h0M255.7 355.6h0M144.6 314.6h0M309.6 304.9h0M487.2 222.7h0M441.8 248.1h0M407.3 246.8h0M509.6 226.9h0M502.6 204.9h0M206.3 217h0M328.8 288.7h0M412.3 284.9h0M132 364.8h0M442.7 227.5h0M276.8 326h0M325.2 318.9h0M367.2 272.3h0M376 293.7h0M185.1 257.4h0M338.9 317.1h0M461.1 221.4h0M340.3 278.9h0M373.6 260.4h0M225.1 191.3h0M338.5 278.4h0M523.4 191.6h0M510.6 217h0M440.7 234.9h0M123.7 361.2h0M185.1 255.8h0M122.3 363.5h0M174.8 258.3h0M328.8 293.6h0M424.9 251h0M273.5 348.1h0M501.2 213.2h0M503.4 226.7h0M310.2 315.1h0M413.9 254.6h0M287.4 331.4h0M294.2 339.4h0M336.2 315.6h0M211.6 194.1h0M244.7 334h0M388.6 286.5h0M284.7 328.2h0M216.9 191.9h0M508.6 224.5h0M194.8 229.1h0M340.4 318.3h0M157.7 286.7h0M406.2 288h0M177.1 286h0M431.6 266h0M272.7 341h0M519.8 192.3h0M148.6 320h0M242.7 341.8h0M407.3 269.5h0M284 303.5h0M234 153.2h0M467.8 243.9h0M408 260.5h0M506 201.1h0M115.7 372.8h0M316.7 289.4h0M124 364.1h0M454.1 226.7h0M150.5 318h0M165.2 315.8h0M395.5 248.5h0M419.7 273h0M154.8 325.1h0M158.6 290.6h0M416.2 243.7h0M497.5 244.1h0M241.9 352.7h0M431.9 251.3h0M225.2 186.4h0M303.4 297.7h0M276.9 329.8h0M331.2 279.6h0M171.6 291h0M113.5 380.2h0M424.2 241h0M523.9 229.7h0M416.6 238.4h0M494.1 220.2h0M113 396.2h0M524.4 193.8h0M356.2 292.1h0M168.4 274.9h0M277.4 339.9h0M418.6 249h0M340.9 295h0M300.7 303.1h0M341.8 292.1h0M424.1 234.6h0M359.9 290.5h0"/><path d="M387 273.2h0M129.1 374.2h0M340.2 311.9h0M222.7 210.7h0M187.1 264.8h0M228.9 180.6h0M208.1 208.9h0M237.3 182.6h0M162.2 282.5h0M110.7 398.1h0M452.3 265.3h0M164.4 312h0M399.8 258.9h0M114.8 367.4h0M253.9 341h0M212.2 206.6h0M491.1 234.9h0M347 304h0M200.3 240h0M475.9 211.9h0M450.5 265.9h0M339.6 301.9h0M332.1 304h0M148.3 346.8h0M335.1 301.9h0M219.5 200.5h0M277.7 308.4h0M506.4 199h0M503.8 230.9h0M352.3 304.9h0M394.4 258.3h0M414.9 282.1h0M235.1 190h0M457.1 263.3h0M393.1 255.5h0M141.7 329.2h0M116.1 365.8h0M366.6 265.1h0M170.8 299.1h0M332.7 315.4h0M308.4 319.8h0M142.6 357.4h0M114.3 393.4h0M342 291.4h0M343.8 305.7h0M147.7 320.9h0M144.6 309.4h0M451.4 238.2h0M190.9 236.2h0M398.5 288.4h0M165.3 300h0M292.5 331.8h0M244.9 345.3h0M453.5 243.5h0M313.6 310.5h0M444.6 251.3h0M218.7 199.7h0M275.6 318.3h0M124.9 351.4h0M161 317.3h0M477.6 250.7h0M471 228.9h0M231.3 203.4h0M243 337.8h0M453.2 241.3h0M489.2 224.1h0M252.7 317.9h0M166.4 301.4h0M485.7 212.9h0M199.2 247.3h0M219.2 191.5h0M341.1 296.3h0M290.4 334.4h0M313.5 288.9h0M336.2 283h0M194.6 250.6h0M469.5 253.1h0M364.2 299.4h0M206.1 233.7h0M437.7 273.5h0M407.5 275.9h0M287.2 338.6h0M424.5 278.5h0M494.8 225.1h0M295.2 293h0M128.4 344.7h0M362.8 284.4h0M465.3 240.4h0M304.9 313.7h0M404.6 270.2h0M498.7 205.5h0M387.4 257.9h0M246.5 330.1h0M280.4 302.4h0M500.6 207.8h0M417 281.6h0M484.9 233.8h0M184.3 276.3h0M159.6 324.1h0M415.7 265.6h0"/><path d="M405 249.7h0M174.2 281.8h0M231.9 184.1h0M171.7 265.4h0M247.1 348.6h0M496 234.9h0M337.2 282.1h0M454.5 240.5h0M471.3 242.7h0M257.9 352.7h0M442.5 243.2h0M150.7 328h0M295.1 337h0M292.8 310.4h0M271.6 338.4h0M137.6 325.1h0M441.7 250h0M459.6 256h0M285.6 302.6h0M446.2 260.5h0M519.9 195.8h0M274.2 336.2h0M336.7 274.5h0M383.5 273.2h0M226.4 172.2h0M327.5 312.8h0M169.9 281.6h0M233.1 160.7h0M517.2 216.5h0M426 276.7h0M200.4 253.5h0M406 267.6h0M369.4 270.9h0M330.5 317.3h0M364.8 276.7h0M514.3 195.7h0M447.1 235.6h0M338.5 297.6h0M187.8 265.9h0M493.9 214.4h0M493.6 227.1h0M158.6 296.5h0M411.6 269.5h0M264.3 325.7h0M402.7 257.3h0M452.2 255.6h0M477.1 247.4h0M240.9 174.6h0M494 217h0M432.4 239.9h0M442.5 237.6h0M332 283.4h0M171.9 297.7h0M252.5 330.6h0M132.1 337h0M517.4 209.6h0M423.9 253.2h0M322 310.3h0M427.5 242.4h0M231.2 174.3h0M271.8 320.5h0M347 298.1h0M232.8 196.7h0M274.7 331.4h0M174.7 261.7h0M210.8 201.7h0M469.1 247.4h0M389.3 281h0M359.4 283.5h0M447 260.1h0M288 321.2h0M282.6 312.4h0M194.4 238.7h0M487.8 215.6h0M315 288.8h0M178.1 292.7h0M505.2 204.9h0M450 256.7h0M459.2 249.3h0M433.2 230.5h0M287.2 323.8h0M486.7 231.2h0M495.2 230h0M142.1 344.2h0M468.4 249.7h0M114 381.4h0M431.2 253.8h0M273.9 330.2h0M376.7 291.8h0M287.2 311.3h0M284.4 325.1h0M284.1 312.1h0M231.1 177.2h0M469.3 224.6h0M169.1 289.1h0M153.6 333.4h0M330.1 321.1h0M495.4 202.6h0M475.4 239.3h0M359.6 295.8h0"/><path d="M427.8 276.9h0M467.7 246.1h0M282.2 335.5h0M435 250.4h0M427.5 244.2h0M370.2 274.1h0M113.8 409.8h0M378.3 267.7h0M523.6 190.3h0M233.9 160.3h0M281.4 341h0M410.7 245.3h0M125.9 359.3h0M268.7 347.7h0M275.4 302.3h0M428 275.6h0M404.3 252.5h0M253 347.6h0M406.3 242.5h0M141 345.9h0M198.4 225.2h0M203.2 246.7h0M383 292.2h0M386 287.5h0M500.2 222.1h0M328.8 283.7h0M525.4 209.3h0M369.6 289.9h0M144.8 335.6h0M158.3 310.6h0M443.4 245h0M386.3 262.1h0M113.3 365.2h0M293.5 320.1h0M122.1 378.3h0M139.7 353.1h0M124.4 362.3h0M451 268.2h0M423.2 257.2h0M142 315.2h0M304.4 325.9h0M448.8 228.8h0M190.6 234h0M382.8 264.9h0M238.3 176h0M422.2 267.1h0M412.5 267h0M171.5 275.9h0M399.9 291.1h0M172.3 284.5h0M303.6 313.7h0M450 253.8h0M191.4 233.8h0M224.4 205h0M312.1 295.1h0M328.9 309.1h0M142.3 322.5h0M357.4 280h0M302.2 309.8h0M127.7 356.3h0M134.8 349h0M381.4 293h0M157.6 308.5h0M183.4 258.7h0M251.6 319h0M127.4 371.3h0M273.8 328.1h0M495.8 213.6h0M505.1 242.1h0M495.8 225.3h0M290.8 317.7h0M345 283h0M463.5 236.8h0M312 317.1h0M236 173.7h0M142.5 352.8h0M364.5 280.7h0M368.8 292.9h0M384.7 254.4h0M375.1 297.7h0M182.7 258.8h0M487.8 218.5h0M495.4 221.1h0M515.4 221.2h0M507.2 225.8h0M449.9 263.1h0M470.6 250.4h0M244.7 344.8h0M108.4 417.8h0M260.9 311.4h0M114.1 397.5h0M309.8 308h0M482.9 225.3h0M434 249.1h0M428.3 252.3h0M190.5 236.7h0M227.1 179.8h0M317.4 306.4h0M212.8 208.3h0M266.6 343.8h0"/><path d="M195.4 247.9h0M426.7 266.1h0M486.1 231.8h0M371.2 292.2h0M492.5 231h0M294.6 303.5h0M162 305h0M490 246h0M467.8 242.5h0M179 250h0M182.7 259.4h0M371.3 295.1h0M394.4 286.1h0M525.4 194.2h0M121.6 368.8h0M320.2 306.3h0M152.2 311h0M418.8 259.8h0M155.2 333.6h0M484 216.3h0M430.7 242.8h0M337.6 287h0M359.6 308.8h0M184.3 265.4h0M432.7 269.7h0M453.6 226.8h0M518.5 236.9h0M167.7 283.4h0M248.1 333.7h0M403.2 275.7h0M386.8 273.4h0M135.4 334.4h0M476.4 225h0M275 324.7h0M180.2 271.9h0M471.2 226.5h0M155.2 330.6h0M109.2 378.2h0M503.7 201h0M324.5 316.3h0M337.9 287.1h0M241 148.6h0M291.1 300.8h0M267.5 313.3h0M135.8 343.3h0M196.4 235.5h0M398.4 248.5h0M302.4 332.7h0M422.9 238.4h0M239.9 161.9h0M267.7 342.7h0M446.6 249.1h0M484 228h0M206.6 219.5h0M382.3 289.4h0M300.2 328.4h0M223.8 203h0M265.3 308.5h0M524.4 229.6h0M380.7 298.1h0M123.2 390.1h0M452.8 224h0M499.2 221.7h0M117.7 388.6h0M214.4 208.7h0M226.8 187.6h0M519.2 218.7h0M116.9 384.6h0M487.8 218.8h0M359.8 271.2h0M471.8 216.4h0M406.3 264.4h0M278.8 331h0M326.4 299.3h0M162 311.1h0M467.2 239h0M454.2 227.5h0M407.4 274.9h0M520.1 208.5h0M221.6 186.4h0M207 220.2h0M267.6 323.9h0M159.9 295.6h0M470.4 257.9h0M182.5 286.5h0M288.9 315.5h0M324.5 293.2h0M395.6 250.6h0M509.9 208.4h0M289.1 307.1h0M517.2 201.2h0M375 259.1h0M213.8 216h0M114.7 382.6h0M193.2 229.8h0M162.7 321.4h0M487.7 249.2h0M372.8 298.7h0M293.9 307.4h0M190.3 251.3h0"/><path d="M270.7 336.2h0M394.2 286.3h0M461.2 247.9h0M268.9 322h0M126.7 371.2h0M376.9 288h0M454.6 255.9h0M256.2 325.8h0M348.4 313.7h0M136.2 348.5h0M516.4 234.5h0M457.7 229.8h0M178 284.3h0M319.9 295.6h0M476.2 219.7h0M426 237.1h0M189.2 236.2h0M449.1 260.1h0M292.7 304.7h0M142.8 313.2h0M281.7 324.4h0M231.8 177.7h0M521.4 201.6h0M475.9 242.9h0M406.2 270.6h0M365.5 282.7h0M277.9 317.6h0M313.5 320.9h0M246.5 359.2h0M270.1 347.9h0M359.5 297.8h0M315.5 299.9h0M246.1 328h0M466 219.4h0M194.8 228h0M339.4 304.9h0M333.3 313.3h0M362.8 290.1h0M339.3 304.8h0M412.2 256.2h0M275.1 315.9h0M465.4 224h0M498.7 222.2h0M353.8 306.3h0M356.3 303.1h0M247.8 356h0M143.4 353.7h0M460.5 261.8h0M175 262.2h0M346.8 295.8h0M107.8 393.2h0M124.4 363h0M221.3 219.6h0M522.5 219h0M485.2 242.1h0M275.8 325.2h0M213.6 224.2h0M424.9 259.7h0M171.9 268.8h0M145.4 342.3h0M293.9 319.7h0M115.7 397.8h0M393.8 270.1h0M200 258.3h0M440.8 264.1h0M136.4 355.9h0M341.5 273.2h0M335 291.9h0M241.9 340.4h0M513.2 200.7h0M426.5 241.8h0M205.3 209h0M134.6 364.5h0M474.9 225.6h0M444.2 246.2h0M463.3 217.8h0M408.1 264h0M425.8 260.8h0M400 262.6h0M478.7 238.9h0M322.1 316.9h0M371.4 288.2h0M172.5 278.3h0M317.3 306h0M478.4 226.5h0M273.2 343.9h0M119.9 356.5h0M429.6 260.7h0M469.9 251.9h0M453.8 262h0M299.8 302.7h0M248.5 340.2h0M501.8 228.3h0M359.9 292.7h0M334.7 290.1h0M283.2 303.6h0M445.6 244.6h0M236.6 159.8h0M391.5 283.3h0M303.7 288.8h0"/><path d="M426 256.9h0M470.5 219.9h0M159.5 286.9h0M337.2 294.8h0M338.2 298.1h0M124 378.1h0M140 320.6h0M156 325.9h0M257.2 347h0M146.8 322h0M250.8 325.9h0M395.7 268.5h0M451 252.1h0M350.8 286.9h0M378.5 266.1h0M111.5 411.2h0M411.9 246.2h0M225.9 203.4h0M205.7 245.4h0M217.7 193h0M480.7 241.1h0M117 387.7h0M435.3 261.2h0M269.9 341.3h0M192.8 251.8h0M358.4 265.9h0M197.8 226.9h0M436.2 254.3h0M110.4 385.1h0M179.8 267.2h0M413.8 261.9h0M416.8 272.1h0M363.3 307.8h0M508.9 225.9h0M133.6 345.7h0M180.8 271.9h0M413.4 273.5h0M251.5 345.7h0M240.8 175.2h0M445.2 243.5h0M122.9 353.4h0M491.9 245.3h0M258.7 310.7h0M353.9 297.4h0M238.3 161.8h0M165.3 280.8h0M321.2 292.7h0M296.4 322.1h0M507.4 201.1h0M116.7 368.3h0M140.5 320.4h0M227.5 186.1h0M482.4 229h0M244.3 356.3h0M189.1 252.4h0M180.5 246.6h0M175 287.9h0M397.6 283.7h0M450.4 249.7h0M187.8 253.3h0M381.5 263.6h0M152.2 303.5h0M153.4 329.9h0M382.3 288.6h0M506.9 224.9h0M293.8 321.5h0M124.9 377.3h0M458.6 241.4h0M300.8 308.6h0M277.2 322.9h0M133.6 337h0M328.6 307.3h0M291.6 303h0M478 236.7h0M391.6 292.9h0M444.9 258h0M473.2 252.2h0M134.4 368.2h0M436.3 264.8h0M187.3 271.7h0M188.6 257.5h0M420 278.2h0M425.7 260.8h0M205 250.2h0M439.1 230.3h0M114.1 385h0M485.9 250h0M406.6 242.9h0M184.4 264.3h0M514.8 222.8h0M205.4 202.7h0M512.7 213.5h0M197.2 243.2h0M129.3 358.1h0M454.4 260h0M152.5 339.9h0M356.1 268.3h0M520.5 223.6h0M499 239.2h0M525.3 230.1h0"/><path d="M194.1 241.7h0M465.4 241.9h0M226.1 201.2h0M328.2 286.9h0M510.9 199.8h0M231.3 185.8h0M405.9 270.2h0M211.6 197h0M316.2 301.8h0M108.3 374.9h0M417.9 262.4h0M209.5 214.5h0M512 237.8h0M305.8 322.5h0M369.6 299.1h0M352.7 275h0M183 246h0M328 319.2h0M462.5 229.6h0M298.4 294.6h0M408 262.2h0M234.3 156.5h0M195.4 237.3h0M138.2 321.1h0M439.6 232.8h0M266.8 312.1h0M446.1 240.7h0M246.8 336.9h0M289.5 337.6h0M355.5 273.2h0M318.4 311.4h0M511.5 215.7h0M240.1 146.5h0M440.2 249.6h0M377.9 292.2h0M432 261.8h0M163 301.5h0M394.4 274.6h0M334.4 310.6h0M396.8 283.4h0M143.4 338.3h0M193.8 269.6h0M261.8 333.1h0M194 234.8h0M463.2 251.1h0M519.5 194.7h0M425.7 241.5h0M430.4 259h0M371.7 279.1h0M114.9 397.9h0M346.9 293.7h0M251.9 342.7h0M455.2 227.2h0M483.1 220.3h0M419.8 252.1h0M262 328.1h0M460.2 222.9h0M240.7 176.3h0M477.2 244h0M268.3 312.8h0M345.8 285.3h0M332.3 284.7h0M449.8 229.9h0M184.1 246.4h0M226.4 189.7h0M349.6 311.2h0M183.9 276.7h0M473.4 252.9h0M351.8 307.3h0M251.8 329.9h0M513.3 206.7h0M235.7 194.7h0M216.2 226.8h0M250.9 320.3h0M379.8 288.8h0M466.8 258.3h0M325.8 280.4h0M352 277.7h0M253.9 319h0M286.6 317.8h0M350.3 299.6h0M195.1 264.4h0M367.9 288.3h0M486.6 251.4h0M348.2 294.3h0M340.3 309.8h0M341.1 288.4h0M252.9 325.3h0M194.8 251.4h0M313.7 327.4h0M205.8 208.7h0M514.8 215.6h0M467.9 241h0M221.1 214.2h0M156.7 318.4h0M433 244.3h0M258.4 317h0M491 213.6h0M389.8 272.2h0M156.3 300h0"/><path d="M351.3 311.5h0M348.9 305h0M517.2 233.2h0M468.2 235.1h0M163.8 279.1h0M228.2 200h0M503.6 216.1h0M278.6 325.9h0M122.3 391.8h0M207.3 244.7h0M347.3 272.2h0M346.9 279.4h0M451.1 227.6h0M260.5 347.4h0M135.2 363.4h0M406.9 267.9h0M439.1 261.8h0M297 317.6h0M215.1 199h0M283.9 322.3h0M244 328.9h0M508.3 241.9h0M284.8 301.5h0M462.7 217.3h0M209.1 203.7h0M303.3 315.3h0M340.5 296.3h0M272.9 340.3h0M353.1 269h0M224.2 203.5h0M280.1 317.8h0M444.8 238.9h0M366.7 306h0M142.3 322.8h0M226.5 182.3h0M368.6 284.6h0M212.9 204.8h0M270 349.1h0M523.6 200.1h0M411.6 282.3h0M509.7 229h0M196.2 255.3h0M262.5 310.2h0M156 327.9h0M197.4 236h0M262.6 308.4h0M337.8 310.1h0M366.8 296.9h0M378.6 269.5h0M180.5 251.9h0M237 173.1h0M459.8 223.3h0M145.5 309.1h0M287.8 312.4h0M387.4 279.8h0M381.1 264.3h0M214.4 201.1h0M267.7 313.3h0M358.1 266.8h0M267.6 346.1h0M508.8 207.1h0M366.7 288.1h0M190.7 253.1h0M393.9 263.5h0M323.5 291.1h0M503 236.3h0M464.1 247.7h0M456.2 230.2h0M162.5 312h0M370.5 268.7h0M325.4 314.9h0M232.3 193.9h0M231.5 172.8h0M409.3 241.8h0M501.1 216.4h0M414.8 269.4h0M269.3 346.9h0M255.8 320.9h0M363 297.8h0M392.7 283.7h0M246.8 324h0M373.8 272.1h0M322.4 316.3h0M400.2 253.1h0M476 222.6h0M278.5 338.5h0M325.9 282.8h0M378.8 296.5h0M510.9 205h0M354.6 276.5h0M174.2 260.5h0M177.8 261.3h0M112.1 379.6h0M303.2 308.7h0M465.9 258.7h0M262.5 320.4h0M132.6 357.3h0M153.4 293.9h0M496.9 203.8h0M391.2 259h0"/><path d="M182.1 273.3h0M386.5 291.8h0M261.8 346.4h0M191 271.4h0M148.9 327.3h0M151.6 332h0M201.9 254.9h0M146.6 325.6h0M396.8 262h0M348.7 299.4h0M108 405.6h0M402.1 279.1h0M366.3 271.9h0M219.1 189.3h0M392.8 261.3h0M380.4 271h0M478.8 238.5h0M187.6 264.9h0M189.7 259.1h0M453.6 248h0M357.6 307.7h0M513.4 214.9h0M115.5 390.6h0M308 329.8h0M485.6 231.8h0M483.1 222.1h0M160.6 324.8h0M121.2 351.2h0M194.6 228.4h0M141.1 338.5h0M116.2 368.5h0M118.1 383.7h0M429.3 235.1h0M148.5 306.5h0M371.3 268.7h0M116.1 386.2h0M205.2 242.2h0M214.6 194.1h0M234.6 184.4h0M262.5 332.5h0M520.9 191.1h0M509.3 235.1h0M415.3 256.2h0M339.7 292.9h0M408.5 264.3h0M297.4 332.8h0M359.1 270h0M237.3 182.5h0M337.3 296.9h0M169 285.7h0M341.4 284.7h0M348.4 293.1h0M347.9 286.7h0M468.6 244.7h0M231.6 189.3h0M423.4 261.2h0M188 253.3h0M181.7 258.3h0M157.7 332h0M139.2 358.6h0M172.6 295.3h0M352.2 305.8h0M165.5 281.5h0M271.4 324.3h0M321.2 300.6h0M150.1 320.5h0M326.2 320.7h0M411.1 285.3h0M403.6 264.9h0M506 219.2h0M405.4 252.8h0M191.2 269h0M500.7 241.2h0M378.8 297.3h0M369.3 281h0M127.7 366.6h0M109.2 371.4h0M197 243.5h0M168.6 311.9h0M325.8 320.8h0M165.3 288.7h0M389 274.4h0M173.8 278.9h0M184.6 247.6h0M467.4 247h0M281.6 336.9h0M216.3 186.2h0M395.2 283.7h0M506.1 201h0M420.9 237.9h0M408.9 285.3h0M274.5 340.1h0M242.1 321h0M308.1 303.3h0M407.6 251.9h0M274 315.5h0M126.9 342.7h0M453.7 265.8h0M145.6 328.1h0"/><path d="M174.7 295.1h0M140.7 319h0M127.9 375.3h0M133.3 368.3h0M385.8 283.7h0M470 244.1h0M229.5 181h0M449.3 243.6h0M279.5 312h0M272 309.5h0M333.9 320h0M183.7 257.8h0M210 223.7h0M507.2 209.6h0M333.7 283.3h0M138.5 361h0M433 256.4h0M367.9 297h0M442.1 249.8h0M313.7 312h0M401.4 275h0M422.3 247.3h0M253.3 338.7h0M363.9 286.6h0M129.8 356.3h0M267.2 325.3h0M501.9 229.4h0M448.7 266h0M229.5 182.1h0M188.6 266.9h0M217.2 188.1h0M164.8 289h0M502.4 201.1h0M283 305.5h0M327.3 294.6h0M346.1 280h0M233.8 163.3h0M487 228h0M151.7 330.3h0M114.8 403.2h0M516.8 196.5h0M485.4 231.4h0M522.9 209.3h0M336.8 311.2h0M286.2 335.3h0M454.4 232.8h0M476.6 238.4h0M197.5 239.2h0M455.9 242.4h0M437.2 273.4h0M149.2 332.3h0M248.2 318h0M335.9 285.1h0M392.1 275.4h0M296.6 332.9h0M291.9 307.6h0M518.8 205h0M193.1 268.5h0M363.4 268.5h0M490.6 241.5h0M245.8 325.3h0M520.9 213.8h0M301.6 297.2h0M509.5 224.6h0M474.3 232.4h0M138.6 354.8h0M268.3 318.5h0M322.2 321.4h0M399.8 251.9h0M283.2 306.9h0M265 309.3h0M401.6 260.2h0M508.8 228.9h0M248.2 313.8h0M185.8 262.1h0M118.6 362.2h0M350 267.9h0M376.2 285.4h0M432.5 266.6h0M177.6 251.7h0M443 236.1h0M119.5 360h0M368.4 296.2h0M175.8 268.5h0M291.9 296.2h0M165.8 284h0M279.2 326.9h0M320.8 304.5h0M259.8 344.1h0M295.5 326h0M310 289.9h0M118.3 360.7h0M447.8 258.8h0M497.6 211.9h0M321.8 320.8h0M480.7 246.7h0M364.1 274.4h0M158.4 308.5h0M411.1 266.4h0"/><path d="M434.2 233h0M226.6 210.9h0M268.9 342.2h0M157.9 287.8h0M118.8 391.6h0M452.1 233.5h0M158.7 320.2h0M194.6 254.6h0M231.1 175.2h0M436.7 262.3h0M156.8 332.1h0M291.5 317.1h0M212.7 225.9h0M263.4 311.4h0M490 210.8h0M300 314.4h0M517.3 218.4h0M381.6 272.4h0M514.4 230.2h0M203.1 222.2h0M238.4 176.6h0M396.6 273h0M433 254.4h0M426 241.6h0M445.2 226.7h0M246.7 345.9h0M412.6 283.9h0M342.1 272.2h0M285.2 338.3h0M111.1 398.8h0M456.8 254.2h0M174.3 298.7h0M368.9 268.6h0M404.4 262.8h0M426.5 238.6h0M129.4 356.6h0M224.7 171.8h0M430 246.8h0M139.6 349.7h0M401.5 269.2h0M424.3 279.1h0M412.5 280.2h0M317.9 286.3h0M330.8 301.7h0M519.8 220.2h0M171 299.8h0M409.2 280.2h0M215 201.3h0M236.3 161.2h0M236.8 151.4h0M116.9 366.9h0M320.6 314.1h0M388.5 260.4h0M156.3 308.8h0M374.6 279.6h0M284.7 343.6h0M150.5 327.9h0M490.8 205.6h0M291.4 297h0M248.2 317.5h0M340.6 287.3h0M389.3 295.5h0M191.6 249.3h0M449.5 252.2h0M129.2 368.4h0M196 256h0M273.3 340.1h0M236.5 150.7h0M497.3 242.1h0M197.1 245.1h0M333 312.3h0M191.2 241.8h0M426.2 256h0M369.6 281.9h0M354.5 283.8h0M366.7 266.4h0M487 242.8h0M165 307.1h0M256 347.1h0M308.3 308.3h0M511.2 201.2h0M276 326.7h0M404.5 250.2h0M142.4 356.6h0M175.4 273.8h0M268.2 326h0M175 299.8h0M175.4 291h0M272 317.1h0M364.9 300.9h0M382.7 258.4h0M206.2 234.2h0M523.9 224.3h0M198.2 226.3h0M224.3 210.4h0M214.4 188.4h0M483.9 233.5h0M462.9 219.5h0M145.8 319.2h0"/></g>
<path d="M107.40,360.60L140.60,310.00L158.20,280.00L189.50,230.00L200.00,213.00L224.50,172.20L233.20,173.80L237.00,180.00L242.50,188.00L246.00,200.00L254.50,230.00L259.25,250.00L268.00,292.50L275.30,300.30L278.20,300.30L281.00,285.00L286.50,250.00L290.00,234.00L294.00,220.00L302.80,209.80L306.30,214.00L310.00,212.70L315.80,207.80L321.30,240.00L325.00,267.00L326.50,280.00L332.00,330.00L337.30,375.00L341.00,420.00L344.50,465.00" fill="none" stroke="rgb(88,88,238)" stroke-width="2" stroke-linejoin="round"/>
<path d="M107.20,266.80L125.00,275.50L142.00,284.00L150.00,289.00L162.00,298.70L174.00,308.50L185.00,316.50L200.00,326.00L214.00,334.50L224.50,340.50L233.50,335.50L241.50,337.80L247.50,333.20L254.50,331.80L259.00,328.00L266.00,326.70L268.00,324.40L274.00,322.00L281.80,319.40L289.80,317.40L291.00,318.30L294.60,312.80L301.60,310.80L303.00,311.00L306.00,312.50L316.20,284.80L324.00,299.80L330.00,299.50L334.50,301.20L337.00,300.00L340.70,294.70L350.50,294.00L367.00,284.00L372.00,284.80L377.00,283.00L390.00,275.50L395.00,273.00L405.00,269.50L415.00,265.20L426.00,262.80L428.50,263.50L445.00,255.00L458.00,247.70L475.00,243.00L480.00,240.50L495.00,236.50L508.00,231.50L524.50,222.50" fill="none" stroke="rgb(248,72,112)" stroke-width="2" stroke-linejoin="round"/>
<path d="M107.40,342.60L133.30,300.00L145.70,280.00L163.60,250.00L175.80,230.00L204.80,180.00L224.90,144.50L233.00,145.50L243.00,159.00L246.50,170.00L249.40,180.00L255.00,200.00L262.50,230.00L266.50,250.00L268.00,257.00L274.50,262.70L278.20,262.00L280.50,250.00L288.50,200.00L291.50,187.00L294.20,176.80L299.00,168.80L303.20,163.80L306.20,166.80L310.50,163.50L315.80,157.80L321.50,195.00L329.00,245.00L333.50,280.00L338.50,330.00L343.00,375.00L347.00,420.00L351.00,465.00" fill="none" stroke="rgba(45,46,164,0.5)" stroke-width="2" stroke-linejoin="round"/>
<path d="M107.40,342.60L133.30,300.00L145.70,280.00L163.60,250.00L175.80,230.00L204.80,180.00L224.90,144.50L233.00,145.50L243.00,159.00L246.50,170.00L249.40,180.00L255.00,200.00L262.50,230.00L266.50,250.00L268.00,257.00L274.50,262.70L278.20,262.00L280.50,250.00L288.50,200.00L291.50,187.00L294.20,176.80L299.00,168.80L303.20,163.80L306.20,166.80L310.50,163.50L315.80,157.80L321.50,195.00L329.00,245.00L333.50,280.00L338.50,330.00L343.00,375.00L347.00,420.00L351.00,465.00L340.50,465.00L336.50,420.00L332.30,375.00L326.60,330.00L320.00,285.00L315.80,258.50L310.00,261.50L306.50,261.20L302.80,256.20L294.00,264.50L290.00,278.00L287.50,288.00L283.60,305.00L281.80,318.80L279.40,335.00L277.00,339.50L271.00,333.20L268.00,327.00L266.20,315.00L264.00,305.00L259.50,285.00L251.50,250.00L245.00,230.00L242.00,217.00L233.00,201.50L224.50,199.00L200.00,238.50L173.00,280.00L153.80,310.00L107.40,378.60Z" fill="rgba(45,46,164,0.5)" stroke="none"/>
<path d="M107.20,264.80L125.00,272.80L142.00,281.30L150.00,286.20L162.00,295.00L175.00,305.00L190.00,313.00L205.00,320.50L220.00,328.00L224.50,330.00L233.50,324.20L241.00,325.50L248.00,320.00L254.00,317.00L258.00,315.00L265.00,311.50L270.00,306.50L275.00,304.50L280.00,301.50L290.00,296.00L296.00,289.00L304.00,286.00L306.50,283.00L316.20,253.00L325.00,270.00L330.00,271.50L334.00,273.00L340.50,268.00L350.50,271.50L367.00,264.50L372.00,265.50L377.00,264.00L390.00,258.00L395.00,257.00L405.00,254.00L415.00,249.50L426.00,247.20L428.50,248.00L445.00,240.50L457.00,233.50L460.00,232.20L480.00,226.80L508.00,218.50L524.50,210.00" fill="none" stroke="rgba(251,148,174,0.5)" stroke-width="2" stroke-linejoin="round"/>
<path d="M107.20,264.80L125.00,272.80L142.00,281.30L150.00,286.20L162.00,295.00L175.00,305.00L190.00,313.00L205.00,320.50L220.00,328.00L224.50,330.00L233.50,324.20L241.00,325.50L248.00,320.00L254.00,317.00L258.00,315.00L265.00,311.50L270.00,306.50L275.00,304.50L280.00,301.50L290.00,296.00L296.00,289.00L304.00,286.00L306.50,283.00L316.20,253.00L325.00,270.00L330.00,271.50L334.00,273.00L340.50,268.00L350.50,271.50L367.00,264.50L372.00,265.50L377.00,264.00L390.00,258.00L395.00,257.00L405.00,254.00L415.00,249.50L426.00,247.20L428.50,248.00L445.00,240.50L457.00,233.50L460.00,232.20L480.00,226.80L508.00,218.50L524.50,210.00L524.50,234.80L508.00,242.80L495.00,248.00L475.00,256.80L458.00,261.80L428.50,279.00L425.00,279.00L420.00,279.50L408.00,284.00L395.00,289.00L385.00,295.00L370.00,302.00L365.00,305.50L359.00,310.00L351.00,316.50L340.50,321.00L337.00,328.00L334.50,330.00L330.00,329.00L324.50,329.60L316.20,317.50L309.00,333.00L305.50,339.50L300.00,337.00L292.00,339.50L288.00,338.50L277.00,339.00L269.00,339.50L265.00,343.00L259.00,343.00L255.00,345.00L248.00,346.00L241.50,349.50L233.50,347.00L224.50,350.50L200.00,333.00L190.00,325.50L174.00,313.00L162.00,302.50L150.00,292.30L142.00,287.00L125.00,278.50L107.20,268.70Z" fill="rgba(251,148,174,0.5)" stroke="none"/>
</g>
<g font-size="12"><text x="107.00" y="433" text-anchor="middle">0</text><text x="190.50" y="433" text-anchor="middle">0.2</text><text x="274.00" y="433" text-anchor="middle">0.4</text><text x="357.50" y="433" text-anchor="middle">0.6</text><text x="441.00" y="433" text-anchor="middle">0.8</text><text x="524.50" y="433" text-anchor="middle">1</text><text x="79" y="378.80" text-anchor="end">0.5</text><text x="79" y="333.00" text-anchor="end">1</text><text x="79" y="287.20" text-anchor="end">1.5</text><text x="79" y="241.40" text-anchor="end">2</text><text x="79" y="195.30" text-anchor="end">2.5</text><text x="79" y="149.80" text-anchor="end">3</text></g>
<text x="35" y="50" font-size="17">Mixture Density Network Prediction</text>
<text transform="translate(35,260) rotate(-90)" font-size="14" text-anchor="middle">y</text>
<g font-size="12">
<path d="M566.4,114.5H596.4" stroke="rgb(248,72,112)" stroke-width="2"/>
<text x="601.4" y="118.7">Component 2</text>
<path d="M566.4,133.5H596.4" stroke="rgb(88,88,238)" stroke-width="2"/>
<text x="601.4" y="137.7">Component 1</text>
<circle cx="581.4" cy="152.5" r="3" fill="rgb(152,109,136)" fill-opacity="0.2"/>
<text x="601.4" y="156.7">Ground Truth</text>
</g>
</svg>
</body></html>
